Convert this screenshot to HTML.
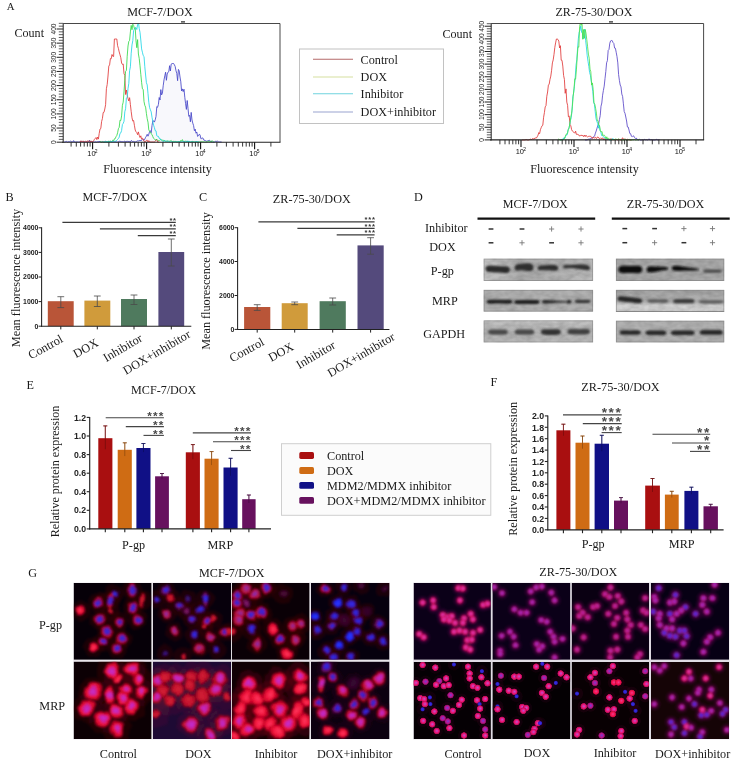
<!DOCTYPE html>
<html><head><meta charset="utf-8"><title>Figure</title>
<style>
html,body{margin:0;padding:0;background:#fff;}
body{width:737px;height:764px;overflow:hidden;font-family:"Liberation Serif",serif;}
svg{display:block;will-change:transform;}
svg text{white-space:pre;}
</style></head><body>
<svg width="737" height="764" viewBox="0 0 737 764">
<rect x="0" y="0" width="737" height="764" fill="#ffffff"/>
<text x="6.8" y="10.4" font-family="Liberation Serif" font-size="10.8" fill="#1a1a1a" >A</text>
<text x="160" y="15.5" font-family="Liberation Serif" font-size="12.2" fill="#1a1a1a" text-anchor="middle" textLength="65.5" lengthAdjust="spacingAndGlyphs" >MCF-7/DOX</text>
<text x="14.5" y="37.1" font-family="Liberation Serif" font-size="12.2" fill="#1a1a1a" textLength="29.5" lengthAdjust="spacingAndGlyphs" >Count</text>
<text x="157.5" y="172.5" font-family="Liberation Serif" font-size="12.2" fill="#1a1a1a" text-anchor="middle" textLength="108.5" lengthAdjust="spacingAndGlyphs" >Fluorescence intensity</text>
<rect x="63.2" y="23.5" width="216.8" height="118.69999999999999" fill="#fff" stroke="none"/>
<clipPath id="fc11"><rect x="63.2" y="23.5" width="216.8" height="119.69999999999999"/></clipPath><g clip-path="url(#fc11)">
<path d="M64.0,142.0 L64.8,142.0 L65.6,141.7 L66.4,141.4 L67.2,142.0 L68.0,142.0 L68.8,141.6 L69.6,141.7 L70.4,141.2 L71.2,141.5 L72.0,142.0 L72.8,142.0 L73.6,140.6 L74.4,142.0 L75.2,142.0 L76.0,142.0 L76.8,141.9 L77.6,141.9 L78.4,142.0 L79.2,142.0 L80.0,141.9 L80.8,141.6 L81.6,141.4 L82.4,141.9 L83.2,142.0 L84.0,141.6 L84.8,142.0 L85.6,142.0 L86.4,142.0 L87.2,142.0 L88.0,142.0 L88.8,141.9 L89.6,140.2 L90.4,142.0 L91.2,141.5 L92.0,142.0 L92.8,142.0 L93.6,141.6 L94.4,142.0 L95.2,141.8 L96.0,141.9 L96.8,142.0 L97.6,141.7 L98.4,142.0 L99.2,141.0 L100.0,142.0 L100.8,141.6 L101.6,142.0 L102.4,141.5 L103.2,142.0 L104.0,141.5 L104.8,142.0 L105.6,141.3 L106.4,141.7 L107.2,141.9 L108.0,142.0 L108.8,141.6 L109.6,141.7 L110.4,141.1 L111.2,142.0 L112.0,141.7 L112.8,141.7 L113.6,141.8 L114.4,141.9 L115.2,141.9 L116.0,142.0 L116.8,142.0 L117.6,142.0 L118.4,141.7 L119.2,141.2 L120.0,141.5 L120.8,141.4 L121.6,141.6 L122.4,141.6 L123.2,141.9 L124.0,141.6 L124.8,141.0 L125.6,142.0 L126.4,142.0 L127.2,140.9 L128.0,141.8 L128.8,141.4 L129.6,141.5 L130.4,142.0 L131.2,140.6 L132.0,140.9 L132.8,141.8 L133.6,141.4 L134.4,141.7 L135.2,142.0 L136.0,141.7 L136.8,141.3 L137.6,140.8 L138.4,140.9 L139.2,141.0 L140.0,140.1 L140.8,141.1 L141.6,139.9 L142.4,139.3 L143.2,139.7 L144.0,140.3 L144.8,139.1 L145.6,137.3 L146.4,136.2 L147.2,134.3 L148.0,136.2 L148.8,134.2 L149.6,131.6 L150.4,130.7 L151.2,132.7 L152.0,125.6 L152.8,120.7 L153.6,120.9 L154.4,122.1 L155.2,119.9 L156.0,116.4 L156.8,106.6 L157.6,107.3 L158.4,104.4 L159.2,97.5 L160.0,100.0 L160.8,89.6 L161.6,94.9 L162.4,93.2 L163.2,85.8 L164.0,79.9 L164.8,75.8 L165.6,72.2 L166.4,80.3 L167.2,74.0 L168.0,72.1 L168.8,71.5 L169.6,65.7 L170.4,71.0 L171.2,64.1 L172.0,63.5 L172.8,63.5 L173.6,63.5 L174.4,64.8 L175.2,66.5 L176.0,70.8 L176.8,73.3 L177.6,80.7 L178.4,69.4 L179.2,70.9 L180.0,77.0 L180.8,81.8 L181.6,91.0 L182.4,88.9 L183.2,91.6 L184.0,89.2 L184.8,97.3 L185.6,103.7 L186.4,109.4 L187.2,100.5 L188.0,108.3 L188.8,116.3 L189.6,115.3 L190.4,121.8 L191.2,112.4 L192.0,120.0 L192.8,123.2 L193.6,125.6 L194.4,130.7 L195.2,129.1 L196.0,133.2 L196.8,132.0 L197.6,136.4 L198.4,135.7 L199.2,134.3 L200.0,134.7 L200.8,138.3 L201.6,139.1 L202.4,137.7 L203.2,138.5 L204.0,140.3 L204.8,140.4 L205.6,140.7 L206.4,141.2 L207.2,141.2 L208.0,140.3 L208.8,140.8 L209.6,140.2 L210.4,141.5 L211.2,141.7 L212.0,142.0 L212.8,141.8 L213.6,142.0 L214.4,142.0 L215.2,141.5 L216.0,141.1 L216.8,141.5 L217.6,141.2 L218.4,141.8 L219.2,142.0 L220.0,141.9 L220.8,142.0 L221.6,142.0 L221.6,142.2 L64.0,142.2 Z" fill="#f8f8fc" stroke="none"/>
<path d="M64.0,142.0 L64.8,142.0 L65.6,141.7 L66.4,141.4 L67.2,142.0 L68.0,142.0 L68.8,141.6 L69.6,141.7 L70.4,141.2 L71.2,141.5 L72.0,142.0 L72.8,142.0 L73.6,140.6 L74.4,142.0 L75.2,142.0 L76.0,142.0 L76.8,141.9 L77.6,141.9 L78.4,142.0 L79.2,142.0 L80.0,141.9 L80.8,141.6 L81.6,141.4 L82.4,141.9 L83.2,142.0 L84.0,141.6 L84.8,142.0 L85.6,142.0 L86.4,142.0 L87.2,142.0 L88.0,142.0 L88.8,141.9 L89.6,140.2 L90.4,142.0 L91.2,141.5 L92.0,142.0 L92.8,142.0 L93.6,141.6 L94.4,142.0 L95.2,141.8 L96.0,141.9 L96.8,142.0 L97.6,141.7 L98.4,142.0 L99.2,141.0 L100.0,142.0 L100.8,141.6 L101.6,142.0 L102.4,141.5 L103.2,142.0 L104.0,141.5 L104.8,142.0 L105.6,141.3 L106.4,141.7 L107.2,141.9 L108.0,142.0 L108.8,141.6 L109.6,141.7 L110.4,141.1 L111.2,142.0 L112.0,141.7 L112.8,141.7 L113.6,141.8 L114.4,141.9 L115.2,141.9 L116.0,142.0 L116.8,142.0 L117.6,142.0 L118.4,141.7 L119.2,141.2 L120.0,141.5 L120.8,141.4 L121.6,141.6 L122.4,141.6 L123.2,141.9 L124.0,141.6 L124.8,141.0 L125.6,142.0 L126.4,142.0 L127.2,140.9 L128.0,141.8 L128.8,141.4 L129.6,141.5 L130.4,142.0 L131.2,140.6 L132.0,140.9 L132.8,141.8 L133.6,141.4 L134.4,141.7 L135.2,142.0 L136.0,141.7 L136.8,141.3 L137.6,140.8 L138.4,140.9 L139.2,141.0 L140.0,140.1 L140.8,141.1 L141.6,139.9 L142.4,139.3 L143.2,139.7 L144.0,140.3 L144.8,139.1 L145.6,137.3 L146.4,136.2 L147.2,134.3 L148.0,136.2 L148.8,134.2 L149.6,131.6 L150.4,130.7 L151.2,132.7 L152.0,125.6 L152.8,120.7 L153.6,120.9 L154.4,122.1 L155.2,119.9 L156.0,116.4 L156.8,106.6 L157.6,107.3 L158.4,104.4 L159.2,97.5 L160.0,100.0 L160.8,89.6 L161.6,94.9 L162.4,93.2 L163.2,85.8 L164.0,79.9 L164.8,75.8 L165.6,72.2 L166.4,80.3 L167.2,74.0 L168.0,72.1 L168.8,71.5 L169.6,65.7 L170.4,71.0 L171.2,64.1 L172.0,63.5 L172.8,63.5 L173.6,63.5 L174.4,64.8 L175.2,66.5 L176.0,70.8 L176.8,73.3 L177.6,80.7 L178.4,69.4 L179.2,70.9 L180.0,77.0 L180.8,81.8 L181.6,91.0 L182.4,88.9 L183.2,91.6 L184.0,89.2 L184.8,97.3 L185.6,103.7 L186.4,109.4 L187.2,100.5 L188.0,108.3 L188.8,116.3 L189.6,115.3 L190.4,121.8 L191.2,112.4 L192.0,120.0 L192.8,123.2 L193.6,125.6 L194.4,130.7 L195.2,129.1 L196.0,133.2 L196.8,132.0 L197.6,136.4 L198.4,135.7 L199.2,134.3 L200.0,134.7 L200.8,138.3 L201.6,139.1 L202.4,137.7 L203.2,138.5 L204.0,140.3 L204.8,140.4 L205.6,140.7 L206.4,141.2 L207.2,141.2 L208.0,140.3 L208.8,140.8 L209.6,140.2 L210.4,141.5 L211.2,141.7 L212.0,142.0 L212.8,141.8 L213.6,142.0 L214.4,142.0 L215.2,141.5 L216.0,141.1 L216.8,141.5 L217.6,141.2 L218.4,141.8 L219.2,142.0 L220.0,141.9 L220.8,142.0 L221.6,142.0" fill="none" stroke="#4545c8" stroke-width="0.9" stroke-linejoin="round" opacity="0.95"/>
<path d="M80.0,142.0 L80.8,140.8 L81.6,141.8 L82.4,141.5 L83.2,140.9 L84.0,142.0 L84.8,142.0 L85.6,141.3 L86.4,142.0 L87.2,140.8 L88.0,141.6 L88.8,141.0 L89.6,141.1 L90.4,142.0 L91.2,140.9 L92.0,141.9 L92.8,141.7 L93.6,140.9 L94.4,139.4 L95.2,138.5 L96.0,137.5 L96.8,139.6 L97.6,137.0 L98.4,139.1 L99.2,133.5 L100.0,129.0 L100.8,128.5 L101.6,121.5 L102.4,118.6 L103.2,112.6 L104.0,112.3 L104.8,109.0 L105.6,104.7 L106.4,88.7 L107.2,84.5 L108.0,76.0 L108.8,66.1 L109.6,64.9 L110.4,58.6 L111.2,58.8 L112.0,54.5 L112.8,56.3 L113.6,56.5 L114.4,39.0 L115.2,39.0 L116.0,39.0 L116.8,39.0 L117.6,45.7 L118.4,48.4 L119.2,51.9 L120.0,54.8 L120.8,57.7 L121.6,63.0 L122.4,64.4 L123.2,64.0 L124.0,73.6 L124.8,75.4 L125.6,94.5 L126.4,90.0 L127.2,94.8 L128.0,98.5 L128.8,101.0 L129.6,97.7 L130.4,104.6 L131.2,111.6 L132.0,117.8 L132.8,121.1 L133.6,120.5 L134.4,125.3 L135.2,130.0 L136.0,131.8 L136.8,132.6 L137.6,134.7 L138.4,131.9 L139.2,135.2 L140.0,137.5 L140.8,135.8 L141.6,139.2 L142.4,138.2 L143.2,138.8 L144.0,141.4 L144.8,141.7 L145.6,141.5 L146.4,140.3 L147.2,140.2 L148.0,142.0 L148.8,140.6 L149.6,141.9 L150.4,141.9 L151.2,142.0 L152.0,141.9 L152.8,142.0 L153.6,142.0 L154.4,142.0 L155.2,141.3 L156.0,139.9 L156.8,139.4 L157.6,142.0 L158.4,142.0 L159.2,142.0" fill="none" stroke="#e03a3a" stroke-width="0.9" stroke-linejoin="round" opacity="0.95"/>
<path d="M100.0,141.5 L100.8,141.7 L101.6,142.0 L102.4,142.0 L103.2,142.0 L104.0,142.0 L104.8,141.9 L105.6,142.0 L106.4,141.8 L107.2,142.0 L108.0,142.0 L108.8,140.9 L109.6,141.5 L110.4,141.3 L111.2,142.0 L112.0,141.2 L112.8,140.2 L113.6,140.9 L114.4,138.8 L115.2,138.7 L116.0,136.7 L116.8,135.5 L117.6,132.8 L118.4,128.7 L119.2,127.4 L120.0,120.2 L120.8,120.5 L121.6,115.9 L122.4,105.3 L123.2,102.2 L124.0,91.9 L124.8,80.4 L125.6,71.3 L126.4,70.3 L127.2,56.3 L128.0,46.0 L128.8,41.4 L129.6,40.4 L130.4,31.9 L131.2,25.4 L132.0,29.7 L132.8,24.2 L133.6,25.4 L134.4,28.8 L135.2,27.6 L136.0,40.8 L136.8,47.7 L137.6,39.6 L138.4,54.0 L139.2,58.3 L140.0,65.8 L140.8,74.3 L141.6,82.3 L142.4,88.8 L143.2,89.4 L144.0,101.5 L144.8,105.4 L145.6,107.1 L146.4,113.4 L147.2,118.7 L148.0,122.2 L148.8,129.9 L149.6,131.2 L150.4,132.2 L151.2,133.8 L152.0,134.5 L152.8,136.6 L153.6,138.4 L154.4,139.1 L155.2,139.8 L156.0,139.7 L156.8,139.5 L157.6,140.3 L158.4,140.6 L159.2,140.7 L160.0,139.7 L160.8,139.6 L161.6,140.0 L162.4,140.2 L163.2,140.2 L164.0,140.8 L164.8,140.5 L165.6,141.5 L166.4,141.1 L167.2,141.4 L168.0,140.6 L168.8,141.5 L169.6,141.2 L170.4,141.0 L171.2,140.5 L172.0,141.8 L172.8,141.9 L173.6,140.9 L174.4,142.0 L175.2,141.2 L176.0,141.8 L176.8,141.6 L177.6,142.0 L178.4,141.1 L179.2,141.9 L180.0,142.0 L180.8,140.4 L181.6,141.2 L182.4,139.6 L183.2,141.4 L184.0,141.9 L184.8,141.7 L185.6,140.8 L186.4,141.8 L187.2,141.5 L188.0,141.5 L188.8,142.0 L189.6,141.7 L190.4,142.0 L191.2,142.0 L192.0,141.3 L192.8,141.5 L193.6,141.8 L194.4,142.0 L195.2,142.0 L196.0,141.6 L196.8,141.9 L197.6,142.0 L198.4,141.9 L199.2,142.0 L200.0,141.9 L200.8,141.8 L201.6,141.7 L202.4,141.8 L203.2,141.8 L204.0,142.0 L204.8,142.0 L205.6,142.0 L206.4,142.0 L207.2,141.8 L208.0,141.6 L208.8,141.0 L209.6,142.0 L210.4,141.7 L211.2,142.0 L212.0,140.6 L212.8,141.4 L213.6,142.0 L214.4,141.7" fill="none" stroke="#35d84a" stroke-width="0.9" stroke-linejoin="round" opacity="0.95"/>
<path d="M104.0,142.0 L104.8,142.0 L105.6,142.0 L106.4,142.0 L107.2,141.8 L108.0,141.5 L108.8,142.0 L109.6,142.0 L110.4,141.8 L111.2,141.6 L112.0,141.8 L112.8,141.6 L113.6,140.8 L114.4,141.8 L115.2,141.2 L116.0,141.4 L116.8,140.2 L117.6,139.4 L118.4,138.5 L119.2,137.2 L120.0,133.4 L120.8,132.9 L121.6,130.5 L122.4,124.5 L123.2,123.4 L124.0,121.3 L124.8,111.8 L125.6,108.7 L126.4,98.1 L127.2,97.2 L128.0,88.7 L128.8,83.4 L129.6,70.7 L130.4,66.8 L131.2,53.3 L132.0,44.9 L132.8,40.6 L133.6,30.7 L134.4,29.0 L135.2,28.3 L136.0,27.5 L136.8,29.5 L137.6,24.5 L138.4,21.6 L139.2,28.5 L140.0,32.3 L140.8,40.0 L141.6,48.9 L142.4,52.2 L143.2,55.6 L144.0,56.4 L144.8,66.7 L145.6,75.0 L146.4,82.7 L147.2,84.9 L148.0,93.6 L148.8,102.3 L149.6,107.6 L150.4,109.8 L151.2,111.9 L152.0,117.3 L152.8,121.5 L153.6,125.3 L154.4,127.6 L155.2,130.6 L156.0,130.8 L156.8,135.8 L157.6,136.3 L158.4,136.3 L159.2,138.4 L160.0,138.3 L160.8,139.8 L161.6,140.2 L162.4,140.9 L163.2,141.7 L164.0,141.8 L164.8,140.3 L165.6,141.3 L166.4,141.4 L167.2,141.2 L168.0,141.5 L168.8,141.2 L169.6,141.9 L170.4,141.9 L171.2,141.3 L172.0,142.0 L172.8,142.0 L173.6,142.0 L174.4,142.0 L175.2,141.6 L176.0,142.0 L176.8,142.0 L177.6,142.0 L178.4,141.1 L179.2,141.9 L180.0,141.8 L180.8,141.9 L181.6,141.8 L182.4,141.5 L183.2,141.2 L184.0,142.0 L184.8,141.3 L185.6,142.0 L186.4,142.0 L187.2,140.8 L188.0,142.0 L188.8,141.0 L189.6,141.5 L190.4,142.0 L191.2,141.7 L192.0,141.6 L192.8,142.0 L193.6,142.0 L194.4,142.0 L195.2,142.0 L196.0,142.0 L196.8,141.1 L197.6,142.0 L198.4,142.0 L199.2,142.0" fill="none" stroke="#22d6e6" stroke-width="0.9" stroke-linejoin="round" opacity="0.95"/>
</g>
<line x1="63.2" y1="23.5" x2="280" y2="23.5" stroke="#333" stroke-width="0.9" />
<line x1="280" y1="23.5" x2="280" y2="142.2" stroke="#333" stroke-width="0.9" />
<line x1="63.2" y1="23.5" x2="63.2" y2="142.7" stroke="#222" stroke-width="1" />
<line x1="62.2" y1="142.2" x2="280.5" y2="142.2" stroke="#222" stroke-width="1.1" />
<line x1="181" y1="21.9" x2="185" y2="21.9" stroke="#222" stroke-width="1.2" />
<line x1="56.6" y1="142.2" x2="63.2" y2="142.2" stroke="#222" stroke-width="1.0" />
<text x="55.6" y="142.2" font-family="Liberation Sans" font-size="6.6" fill="#222" text-anchor="middle" transform="rotate(-90 55.6 142.2)" >0</text>
<line x1="58.800000000000004" y1="139.36999999999998" x2="63.2" y2="139.36999999999998" stroke="#333" stroke-width="0.8" />
<line x1="58.800000000000004" y1="136.54" x2="63.2" y2="136.54" stroke="#333" stroke-width="0.8" />
<line x1="58.800000000000004" y1="133.70999999999998" x2="63.2" y2="133.70999999999998" stroke="#333" stroke-width="0.8" />
<line x1="58.800000000000004" y1="130.88" x2="63.2" y2="130.88" stroke="#333" stroke-width="0.8" />
<line x1="56.6" y1="128.04999999999998" x2="63.2" y2="128.04999999999998" stroke="#222" stroke-width="1.0" />
<text x="55.6" y="128.0" font-family="Liberation Sans" font-size="6.6" fill="#222" text-anchor="middle" transform="rotate(-90 55.6 128.0)" >50</text>
<line x1="58.800000000000004" y1="125.21999999999998" x2="63.2" y2="125.21999999999998" stroke="#333" stroke-width="0.8" />
<line x1="58.800000000000004" y1="122.38999999999999" x2="63.2" y2="122.38999999999999" stroke="#333" stroke-width="0.8" />
<line x1="58.800000000000004" y1="119.55999999999999" x2="63.2" y2="119.55999999999999" stroke="#333" stroke-width="0.8" />
<line x1="58.800000000000004" y1="116.72999999999999" x2="63.2" y2="116.72999999999999" stroke="#333" stroke-width="0.8" />
<line x1="56.6" y1="113.89999999999998" x2="63.2" y2="113.89999999999998" stroke="#222" stroke-width="1.0" />
<text x="55.6" y="113.9" font-family="Liberation Sans" font-size="6.6" fill="#222" text-anchor="middle" transform="rotate(-90 55.6 113.9)" >100</text>
<line x1="58.800000000000004" y1="111.07" x2="63.2" y2="111.07" stroke="#333" stroke-width="0.8" />
<line x1="58.800000000000004" y1="108.23999999999998" x2="63.2" y2="108.23999999999998" stroke="#333" stroke-width="0.8" />
<line x1="58.800000000000004" y1="105.40999999999998" x2="63.2" y2="105.40999999999998" stroke="#333" stroke-width="0.8" />
<line x1="58.800000000000004" y1="102.57999999999998" x2="63.2" y2="102.57999999999998" stroke="#333" stroke-width="0.8" />
<line x1="56.6" y1="99.74999999999999" x2="63.2" y2="99.74999999999999" stroke="#222" stroke-width="1.0" />
<text x="55.6" y="99.7" font-family="Liberation Sans" font-size="6.6" fill="#222" text-anchor="middle" transform="rotate(-90 55.6 99.7)" >150</text>
<line x1="58.800000000000004" y1="96.91999999999999" x2="63.2" y2="96.91999999999999" stroke="#333" stroke-width="0.8" />
<line x1="58.800000000000004" y1="94.08999999999997" x2="63.2" y2="94.08999999999997" stroke="#333" stroke-width="0.8" />
<line x1="58.800000000000004" y1="91.25999999999999" x2="63.2" y2="91.25999999999999" stroke="#333" stroke-width="0.8" />
<line x1="58.800000000000004" y1="88.42999999999998" x2="63.2" y2="88.42999999999998" stroke="#333" stroke-width="0.8" />
<line x1="56.6" y1="85.59999999999998" x2="63.2" y2="85.59999999999998" stroke="#222" stroke-width="1.0" />
<text x="55.6" y="85.6" font-family="Liberation Sans" font-size="6.6" fill="#222" text-anchor="middle" transform="rotate(-90 55.6 85.6)" >200</text>
<line x1="58.800000000000004" y1="82.76999999999998" x2="63.2" y2="82.76999999999998" stroke="#333" stroke-width="0.8" />
<line x1="58.800000000000004" y1="79.93999999999998" x2="63.2" y2="79.93999999999998" stroke="#333" stroke-width="0.8" />
<line x1="58.800000000000004" y1="77.10999999999999" x2="63.2" y2="77.10999999999999" stroke="#333" stroke-width="0.8" />
<line x1="58.800000000000004" y1="74.27999999999999" x2="63.2" y2="74.27999999999999" stroke="#333" stroke-width="0.8" />
<line x1="56.6" y1="71.44999999999997" x2="63.2" y2="71.44999999999997" stroke="#222" stroke-width="1.0" />
<text x="55.6" y="71.4" font-family="Liberation Sans" font-size="6.6" fill="#222" text-anchor="middle" transform="rotate(-90 55.6 71.4)" >250</text>
<line x1="58.800000000000004" y1="68.61999999999998" x2="63.2" y2="68.61999999999998" stroke="#333" stroke-width="0.8" />
<line x1="58.800000000000004" y1="65.78999999999998" x2="63.2" y2="65.78999999999998" stroke="#333" stroke-width="0.8" />
<line x1="58.800000000000004" y1="62.95999999999998" x2="63.2" y2="62.95999999999998" stroke="#333" stroke-width="0.8" />
<line x1="58.800000000000004" y1="60.12999999999998" x2="63.2" y2="60.12999999999998" stroke="#333" stroke-width="0.8" />
<line x1="56.6" y1="57.29999999999998" x2="63.2" y2="57.29999999999998" stroke="#222" stroke-width="1.0" />
<text x="55.6" y="57.3" font-family="Liberation Sans" font-size="6.6" fill="#222" text-anchor="middle" transform="rotate(-90 55.6 57.3)" >300</text>
<line x1="58.800000000000004" y1="54.469999999999985" x2="63.2" y2="54.469999999999985" stroke="#333" stroke-width="0.8" />
<line x1="58.800000000000004" y1="51.639999999999986" x2="63.2" y2="51.639999999999986" stroke="#333" stroke-width="0.8" />
<line x1="58.800000000000004" y1="48.809999999999974" x2="63.2" y2="48.809999999999974" stroke="#333" stroke-width="0.8" />
<line x1="58.800000000000004" y1="45.979999999999976" x2="63.2" y2="45.979999999999976" stroke="#333" stroke-width="0.8" />
<line x1="56.6" y1="43.14999999999998" x2="63.2" y2="43.14999999999998" stroke="#222" stroke-width="1.0" />
<text x="55.6" y="43.1" font-family="Liberation Sans" font-size="6.6" fill="#222" text-anchor="middle" transform="rotate(-90 55.6 43.1)" >350</text>
<line x1="58.800000000000004" y1="40.31999999999998" x2="63.2" y2="40.31999999999998" stroke="#333" stroke-width="0.8" />
<line x1="58.800000000000004" y1="37.48999999999998" x2="63.2" y2="37.48999999999998" stroke="#333" stroke-width="0.8" />
<line x1="58.800000000000004" y1="34.65999999999998" x2="63.2" y2="34.65999999999998" stroke="#333" stroke-width="0.8" />
<line x1="58.800000000000004" y1="31.829999999999984" x2="63.2" y2="31.829999999999984" stroke="#333" stroke-width="0.8" />
<line x1="56.6" y1="28.99999999999997" x2="63.2" y2="28.99999999999997" stroke="#222" stroke-width="1.0" />
<text x="55.6" y="29.0" font-family="Liberation Sans" font-size="6.6" fill="#222" text-anchor="middle" transform="rotate(-90 55.6 29.0)" >400</text>
<line x1="58.800000000000004" y1="26.169999999999973" x2="63.2" y2="26.169999999999973" stroke="#333" stroke-width="0.8" />
<line x1="58.800000000000004" y1="23.339999999999975" x2="63.2" y2="23.339999999999975" stroke="#333" stroke-width="0.8" />
<line x1="71.1" y1="142.2" x2="71.1" y2="146.6" stroke="#222" stroke-width="0.9" />
<line x1="76.3" y1="142.2" x2="76.3" y2="146.6" stroke="#222" stroke-width="0.9" />
<line x1="80.6" y1="142.2" x2="80.6" y2="146.6" stroke="#222" stroke-width="0.9" />
<line x1="84.2" y1="142.2" x2="84.2" y2="146.6" stroke="#222" stroke-width="0.9" />
<line x1="87.4" y1="142.2" x2="87.4" y2="146.6" stroke="#222" stroke-width="0.9" />
<line x1="90.1" y1="142.2" x2="90.1" y2="146.6" stroke="#222" stroke-width="0.9" />
<line x1="92.6" y1="142.2" x2="92.6" y2="149.2" stroke="#111" stroke-width="1.1" />
<text x="91.4" y="156.39999999999998" font-family="Liberation Sans" font-size="7.4" fill="#111" text-anchor="middle" >10</text>
<text x="96.2" y="153.0" font-family="Liberation Sans" font-size="5.0" fill="#111" text-anchor="middle" >2</text>
<line x1="108.9" y1="142.2" x2="108.9" y2="146.6" stroke="#222" stroke-width="0.9" />
<line x1="118.4" y1="142.2" x2="118.4" y2="146.6" stroke="#222" stroke-width="0.9" />
<line x1="125.1" y1="142.2" x2="125.1" y2="146.6" stroke="#222" stroke-width="0.9" />
<line x1="130.3" y1="142.2" x2="130.3" y2="146.6" stroke="#222" stroke-width="0.9" />
<line x1="134.6" y1="142.2" x2="134.6" y2="146.6" stroke="#222" stroke-width="0.9" />
<line x1="138.2" y1="142.2" x2="138.2" y2="146.6" stroke="#222" stroke-width="0.9" />
<line x1="141.4" y1="142.2" x2="141.4" y2="146.6" stroke="#222" stroke-width="0.9" />
<line x1="144.1" y1="142.2" x2="144.1" y2="146.6" stroke="#222" stroke-width="0.9" />
<line x1="146.6" y1="142.2" x2="146.6" y2="149.2" stroke="#111" stroke-width="1.1" />
<text x="145.4" y="156.39999999999998" font-family="Liberation Sans" font-size="7.4" fill="#111" text-anchor="middle" >10</text>
<text x="150.2" y="153.0" font-family="Liberation Sans" font-size="5.0" fill="#111" text-anchor="middle" >3</text>
<line x1="162.9" y1="142.2" x2="162.9" y2="146.6" stroke="#222" stroke-width="0.9" />
<line x1="172.4" y1="142.2" x2="172.4" y2="146.6" stroke="#222" stroke-width="0.9" />
<line x1="179.1" y1="142.2" x2="179.1" y2="146.6" stroke="#222" stroke-width="0.9" />
<line x1="184.3" y1="142.2" x2="184.3" y2="146.6" stroke="#222" stroke-width="0.9" />
<line x1="188.6" y1="142.2" x2="188.6" y2="146.6" stroke="#222" stroke-width="0.9" />
<line x1="192.2" y1="142.2" x2="192.2" y2="146.6" stroke="#222" stroke-width="0.9" />
<line x1="195.4" y1="142.2" x2="195.4" y2="146.6" stroke="#222" stroke-width="0.9" />
<line x1="198.1" y1="142.2" x2="198.1" y2="146.6" stroke="#222" stroke-width="0.9" />
<line x1="200.6" y1="142.2" x2="200.6" y2="149.2" stroke="#111" stroke-width="1.1" />
<text x="199.4" y="156.39999999999998" font-family="Liberation Sans" font-size="7.4" fill="#111" text-anchor="middle" >10</text>
<text x="204.2" y="153.0" font-family="Liberation Sans" font-size="5.0" fill="#111" text-anchor="middle" >4</text>
<line x1="216.9" y1="142.2" x2="216.9" y2="146.6" stroke="#222" stroke-width="0.9" />
<line x1="226.4" y1="142.2" x2="226.4" y2="146.6" stroke="#222" stroke-width="0.9" />
<line x1="233.1" y1="142.2" x2="233.1" y2="146.6" stroke="#222" stroke-width="0.9" />
<line x1="238.3" y1="142.2" x2="238.3" y2="146.6" stroke="#222" stroke-width="0.9" />
<line x1="242.6" y1="142.2" x2="242.6" y2="146.6" stroke="#222" stroke-width="0.9" />
<line x1="246.2" y1="142.2" x2="246.2" y2="146.6" stroke="#222" stroke-width="0.9" />
<line x1="249.4" y1="142.2" x2="249.4" y2="146.6" stroke="#222" stroke-width="0.9" />
<line x1="252.1" y1="142.2" x2="252.1" y2="146.6" stroke="#222" stroke-width="0.9" />
<line x1="254.6" y1="142.2" x2="254.6" y2="149.2" stroke="#111" stroke-width="1.1" />
<text x="253.4" y="156.39999999999998" font-family="Liberation Sans" font-size="7.4" fill="#111" text-anchor="middle" >10</text>
<text x="258.2" y="153.0" font-family="Liberation Sans" font-size="5.0" fill="#111" text-anchor="middle" >5</text>
<line x1="270.9" y1="142.2" x2="270.9" y2="146.6" stroke="#222" stroke-width="0.9" />
<rect x="299.5" y="49" width="144" height="74.5" fill="#fff" stroke="#c2c2c2" stroke-width="1"/>
<line x1="313" y1="59.3" x2="353" y2="59.3" stroke="#b56a6a" stroke-width="1.1" />
<text x="360.6" y="63.5" font-family="Liberation Serif" font-size="12.2" fill="#1a1a1a" >Control</text>
<line x1="313" y1="77" x2="353" y2="77" stroke="#d6dfa0" stroke-width="1.1" />
<text x="360.6" y="81.2" font-family="Liberation Serif" font-size="12.2" fill="#1a1a1a" >DOX</text>
<line x1="313" y1="93.8" x2="353" y2="93.8" stroke="#6fd3de" stroke-width="1.1" />
<text x="360.6" y="98.0" font-family="Liberation Serif" font-size="12.2" fill="#1a1a1a" >Inhibitor</text>
<line x1="313" y1="112" x2="353" y2="112" stroke="#9aa3cf" stroke-width="1.1" />
<text x="360.6" y="116.2" font-family="Liberation Serif" font-size="12.2" fill="#1a1a1a" textLength="75.4" lengthAdjust="spacingAndGlyphs" >DOX+inhibitor</text>
<text x="594" y="15.5" font-family="Liberation Serif" font-size="12.2" fill="#1a1a1a" text-anchor="middle" textLength="77" lengthAdjust="spacingAndGlyphs" >ZR-75-30/DOX</text>
<text x="442.5" y="37.5" font-family="Liberation Serif" font-size="12.2" fill="#1a1a1a" textLength="29.5" lengthAdjust="spacingAndGlyphs" >Count</text>
<text x="584.5" y="172.5" font-family="Liberation Serif" font-size="12.2" fill="#1a1a1a" text-anchor="middle" textLength="108.5" lengthAdjust="spacingAndGlyphs" >Fluorescence intensity</text>
<rect x="491.2" y="23.5" width="212.40000000000003" height="116.4" fill="#fff" stroke="none"/>
<clipPath id="fc23"><rect x="491.2" y="23.5" width="212.40000000000003" height="117.4"/></clipPath><g clip-path="url(#fc23)">
<path d="M585.0,140.0 L585.8,140.0 L586.6,140.0 L587.4,139.8 L588.2,139.4 L589.0,138.9 L589.8,139.1 L590.6,138.4 L591.4,138.3 L592.2,137.8 L593.0,137.3 L593.8,136.8 L594.6,136.0 L595.4,133.1 L596.2,131.0 L597.0,128.2 L597.8,125.7 L598.6,124.4 L599.4,119.6 L600.2,115.7 L601.0,106.2 L601.8,103.0 L602.6,95.2 L603.4,90.4 L604.2,86.2 L605.0,78.6 L605.8,71.6 L606.6,62.8 L607.4,60.6 L608.2,50.3 L609.0,49.4 L609.8,43.2 L610.6,40.9 L611.4,40.5 L612.2,40.6 L613.0,42.5 L613.8,43.4 L614.6,48.1 L615.4,48.2 L616.2,52.3 L617.0,56.7 L617.8,62.9 L618.6,74.6 L619.4,80.4 L620.2,85.0 L621.0,86.9 L621.8,94.1 L622.6,96.4 L623.4,103.8 L624.2,111.5 L625.0,113.3 L625.8,117.0 L626.6,121.0 L627.4,126.9 L628.2,127.0 L629.0,130.0 L629.8,133.5 L630.6,133.7 L631.4,136.2 L632.2,136.7 L633.0,135.8 L633.8,136.1 L634.6,137.6 L635.4,138.4 L636.2,138.0 L637.0,139.0 L637.8,139.9 L638.6,140.0 L639.4,139.3 L640.2,140.0 L641.0,140.0 L641.8,140.0 L642.6,139.8 L643.4,140.0 L644.2,139.3 L645.0,139.9 L645.8,139.8 L646.6,139.7 L647.4,140.0 L648.2,139.8 L649.0,138.8 L649.8,140.0 L650.6,139.8 L651.4,139.7 L652.2,140.0 L653.0,140.0 L653.8,140.0 L654.6,140.0 L655.4,139.9 L656.2,139.4 L657.0,139.5 L657.8,140.0 L658.6,140.0 L659.4,139.1" fill="none" stroke="#5a48c8" stroke-width="0.9" stroke-linejoin="round" opacity="0.95"/>
<path d="M522.0,140.0 L522.8,140.0 L523.6,140.0 L524.4,140.0 L525.2,140.0 L526.0,139.3 L526.8,139.8 L527.6,140.0 L528.4,140.0 L529.2,140.0 L530.0,139.1 L530.8,139.1 L531.6,139.9 L532.4,138.6 L533.2,138.8 L534.0,139.1 L534.8,138.1 L535.6,138.0 L536.4,138.0 L537.2,136.8 L538.0,135.2 L538.8,132.6 L539.6,133.7 L540.4,129.7 L541.2,127.7 L542.0,125.8 L542.8,125.2 L543.6,117.3 L544.4,112.7 L545.2,106.9 L546.0,105.6 L546.8,96.3 L547.6,92.0 L548.4,85.1 L549.2,84.1 L550.0,79.3 L550.8,76.1 L551.6,70.3 L552.4,62.9 L553.2,59.9 L554.0,54.4 L554.8,47.5 L555.6,42.9 L556.4,39.0 L557.2,39.0 L558.0,39.5 L558.8,41.1 L559.6,48.0 L560.4,45.7 L561.2,60.2 L562.0,60.3 L562.8,66.1 L563.6,75.5 L564.4,79.4 L565.2,93.3 L566.0,88.9 L566.8,102.1 L567.6,105.3 L568.4,116.7 L569.2,116.0 L570.0,124.8 L570.8,125.7 L571.6,129.6 L572.4,131.1 L573.2,131.8 L574.0,132.3 L574.8,133.2 L575.6,131.1 L576.4,134.4 L577.2,134.1 L578.0,134.9 L578.8,134.8 L579.6,136.1 L580.4,135.7 L581.2,134.9 L582.0,136.0 L582.8,135.4 L583.6,136.6 L584.4,135.0 L585.2,136.6 L586.0,135.2 L586.8,136.5 L587.6,137.1 L588.4,136.3 L589.2,136.3 L590.0,136.2 L590.8,136.5 L591.6,137.1 L592.4,138.5 L593.2,137.3 L594.0,138.1 L594.8,137.8 L595.6,137.3 L596.4,138.6 L597.2,137.4 L598.0,136.9 L598.8,138.2 L599.6,138.8 L600.4,137.8 L601.2,138.6 L602.0,138.1 L602.8,138.0 L603.6,139.8 L604.4,138.7 L605.2,140.0 L606.0,139.5 L606.8,138.7 L607.6,139.9 L608.4,139.6 L609.2,139.5 L610.0,139.0 L610.8,139.1 L611.6,139.0 L612.4,139.7 L613.2,139.9 L614.0,139.2 L614.8,140.0 L615.6,140.0 L616.4,139.1 L617.2,140.0 L618.0,140.0 L618.8,138.9 L619.6,139.6 L620.4,140.0 L621.2,140.0 L622.0,138.4 L622.8,137.9 L623.6,139.9 L624.4,139.3 L625.2,139.2 L626.0,139.5 L626.8,140.0 L627.6,139.1 L628.4,139.6 L629.2,139.9 L630.0,140.0 L630.8,140.0 L631.6,139.9" fill="none" stroke="#e03a3a" stroke-width="0.9" stroke-linejoin="round" opacity="0.95"/>
<path d="M560.0,139.4 L560.8,140.0 L561.6,140.0 L562.4,139.0 L563.2,139.3 L564.0,137.5 L564.8,138.0 L565.6,136.4 L566.4,134.8 L567.2,134.8 L568.0,129.9 L568.8,128.8 L569.6,125.2 L570.4,120.8 L571.2,117.7 L572.0,110.9 L572.8,96.9 L573.6,93.0 L574.4,86.3 L575.2,78.0 L576.0,65.4 L576.8,59.8 L577.6,47.9 L578.4,38.1 L579.2,32.2 L580.0,30.3 L580.8,25.8 L581.6,32.2 L582.4,33.3 L583.2,38.9 L584.0,32.5 L584.8,29.1 L585.6,40.3 L586.4,47.0 L587.2,55.6 L588.0,61.3 L588.8,66.4 L589.6,72.5 L590.4,75.2 L591.2,80.6 L592.0,85.3 L592.8,91.5 L593.6,102.4 L594.4,104.2 L595.2,111.6 L596.0,118.6 L596.8,121.3 L597.6,123.3 L598.4,128.2 L599.2,124.9 L600.0,130.4 L600.8,131.6 L601.6,135.5 L602.4,135.3 L603.2,136.2 L604.0,137.7 L604.8,137.7 L605.6,138.4 L606.4,138.5 L607.2,139.8 L608.0,139.0 L608.8,139.7 L609.6,140.0 L610.4,140.0 L611.2,140.0 L612.0,140.0 L612.8,138.4 L613.6,140.0 L614.4,139.0" fill="none" stroke="#22d6e6" stroke-width="0.9" stroke-linejoin="round" opacity="0.95"/>
<path d="M558.0,139.2 L558.8,139.0 L559.6,140.0 L560.4,140.0 L561.2,139.6 L562.0,140.0 L562.8,140.0 L563.6,139.4 L564.4,139.0 L565.2,136.7 L566.0,134.4 L566.8,134.1 L567.6,132.7 L568.4,129.3 L569.2,127.4 L570.0,122.5 L570.8,117.1 L571.6,113.3 L572.4,106.3 L573.2,96.1 L574.0,88.8 L574.8,78.8 L575.6,79.1 L576.4,69.9 L577.2,57.0 L578.0,46.7 L578.8,47.2 L579.6,26.6 L580.4,22.7 L581.2,25.3 L582.0,22.7 L582.8,39.3 L583.6,29.5 L584.4,38.3 L585.2,29.6 L586.0,33.2 L586.8,39.8 L587.6,46.8 L588.4,54.1 L589.2,58.2 L590.0,69.2 L590.8,71.7 L591.6,85.1 L592.4,82.9 L593.2,89.7 L594.0,103.0 L594.8,104.3 L595.6,108.3 L596.4,113.1 L597.2,120.3 L598.0,120.7 L598.8,125.2 L599.6,126.0 L600.4,131.1 L601.2,132.0 L602.0,131.5 L602.8,135.6 L603.6,135.2 L604.4,135.2 L605.2,136.5 L606.0,138.6 L606.8,136.8 L607.6,139.0 L608.4,138.4 L609.2,138.7 L610.0,139.6 L610.8,139.0 L611.6,140.0 L612.4,139.5 L613.2,139.5 L614.0,139.8 L614.8,139.5 L615.6,139.0 L616.4,139.1 L617.2,140.0 L618.0,139.2 L618.8,139.0 L619.6,139.7 L620.4,139.5 L621.2,140.0 L622.0,140.0 L622.8,139.6 L623.6,140.0 L624.4,139.3 L625.2,139.1 L626.0,140.0 L626.8,140.0 L627.6,140.0 L628.4,139.8 L629.2,139.4 L630.0,140.0 L630.8,139.9 L631.6,140.0 L632.4,139.8 L633.2,140.0 L634.0,139.3 L634.8,139.5 L635.6,140.0 L636.4,139.8 L637.2,140.0 L638.0,139.4 L638.8,140.0 L639.6,139.2" fill="none" stroke="#4be04a" stroke-width="0.9" stroke-linejoin="round" opacity="0.95"/>
</g>
<line x1="491.2" y1="23.5" x2="703.6" y2="23.5" stroke="#333" stroke-width="0.9" />
<line x1="703.6" y1="23.5" x2="703.6" y2="139.9" stroke="#333" stroke-width="0.9" />
<line x1="491.2" y1="23.5" x2="491.2" y2="140.4" stroke="#222" stroke-width="1" />
<line x1="490.2" y1="139.9" x2="704.1" y2="139.9" stroke="#222" stroke-width="1.1" />
<line x1="609" y1="21.9" x2="613" y2="21.9" stroke="#222" stroke-width="1.2" />
<line x1="484.59999999999997" y1="139.9" x2="491.2" y2="139.9" stroke="#222" stroke-width="1.0" />
<text x="483.6" y="139.9" font-family="Liberation Sans" font-size="6.6" fill="#222" text-anchor="middle" transform="rotate(-90 483.6 139.9)" >0</text>
<line x1="486.8" y1="137.374" x2="491.2" y2="137.374" stroke="#333" stroke-width="0.8" />
<line x1="486.8" y1="134.848" x2="491.2" y2="134.848" stroke="#333" stroke-width="0.8" />
<line x1="486.8" y1="132.322" x2="491.2" y2="132.322" stroke="#333" stroke-width="0.8" />
<line x1="486.8" y1="129.796" x2="491.2" y2="129.796" stroke="#333" stroke-width="0.8" />
<line x1="484.59999999999997" y1="127.27000000000001" x2="491.2" y2="127.27000000000001" stroke="#222" stroke-width="1.0" />
<text x="483.6" y="127.3" font-family="Liberation Sans" font-size="6.6" fill="#222" text-anchor="middle" transform="rotate(-90 483.6 127.3)" >50</text>
<line x1="486.8" y1="124.744" x2="491.2" y2="124.744" stroke="#333" stroke-width="0.8" />
<line x1="486.8" y1="122.218" x2="491.2" y2="122.218" stroke="#333" stroke-width="0.8" />
<line x1="486.8" y1="119.69200000000001" x2="491.2" y2="119.69200000000001" stroke="#333" stroke-width="0.8" />
<line x1="486.8" y1="117.16600000000001" x2="491.2" y2="117.16600000000001" stroke="#333" stroke-width="0.8" />
<line x1="484.59999999999997" y1="114.64000000000001" x2="491.2" y2="114.64000000000001" stroke="#222" stroke-width="1.0" />
<text x="483.6" y="114.6" font-family="Liberation Sans" font-size="6.6" fill="#222" text-anchor="middle" transform="rotate(-90 483.6 114.6)" >100</text>
<line x1="486.8" y1="112.114" x2="491.2" y2="112.114" stroke="#333" stroke-width="0.8" />
<line x1="486.8" y1="109.58800000000001" x2="491.2" y2="109.58800000000001" stroke="#333" stroke-width="0.8" />
<line x1="486.8" y1="107.06200000000001" x2="491.2" y2="107.06200000000001" stroke="#333" stroke-width="0.8" />
<line x1="486.8" y1="104.536" x2="491.2" y2="104.536" stroke="#333" stroke-width="0.8" />
<line x1="484.59999999999997" y1="102.01" x2="491.2" y2="102.01" stroke="#222" stroke-width="1.0" />
<text x="483.6" y="102.0" font-family="Liberation Sans" font-size="6.6" fill="#222" text-anchor="middle" transform="rotate(-90 483.6 102.0)" >150</text>
<line x1="486.8" y1="99.48400000000001" x2="491.2" y2="99.48400000000001" stroke="#333" stroke-width="0.8" />
<line x1="486.8" y1="96.958" x2="491.2" y2="96.958" stroke="#333" stroke-width="0.8" />
<line x1="486.8" y1="94.43200000000002" x2="491.2" y2="94.43200000000002" stroke="#333" stroke-width="0.8" />
<line x1="486.8" y1="91.906" x2="491.2" y2="91.906" stroke="#333" stroke-width="0.8" />
<line x1="484.59999999999997" y1="89.38000000000001" x2="491.2" y2="89.38000000000001" stroke="#222" stroke-width="1.0" />
<text x="483.6" y="89.4" font-family="Liberation Sans" font-size="6.6" fill="#222" text-anchor="middle" transform="rotate(-90 483.6 89.4)" >200</text>
<line x1="486.8" y1="86.85400000000001" x2="491.2" y2="86.85400000000001" stroke="#333" stroke-width="0.8" />
<line x1="486.8" y1="84.328" x2="491.2" y2="84.328" stroke="#333" stroke-width="0.8" />
<line x1="486.8" y1="81.802" x2="491.2" y2="81.802" stroke="#333" stroke-width="0.8" />
<line x1="486.8" y1="79.27600000000001" x2="491.2" y2="79.27600000000001" stroke="#333" stroke-width="0.8" />
<line x1="484.59999999999997" y1="76.75" x2="491.2" y2="76.75" stroke="#222" stroke-width="1.0" />
<text x="483.6" y="76.8" font-family="Liberation Sans" font-size="6.6" fill="#222" text-anchor="middle" transform="rotate(-90 483.6 76.8)" >250</text>
<line x1="486.8" y1="74.224" x2="491.2" y2="74.224" stroke="#333" stroke-width="0.8" />
<line x1="486.8" y1="71.69800000000001" x2="491.2" y2="71.69800000000001" stroke="#333" stroke-width="0.8" />
<line x1="486.8" y1="69.17200000000001" x2="491.2" y2="69.17200000000001" stroke="#333" stroke-width="0.8" />
<line x1="486.8" y1="66.64600000000002" x2="491.2" y2="66.64600000000002" stroke="#333" stroke-width="0.8" />
<line x1="484.59999999999997" y1="64.12" x2="491.2" y2="64.12" stroke="#222" stroke-width="1.0" />
<text x="483.6" y="64.1" font-family="Liberation Sans" font-size="6.6" fill="#222" text-anchor="middle" transform="rotate(-90 483.6 64.1)" >300</text>
<line x1="486.8" y1="61.59400000000001" x2="491.2" y2="61.59400000000001" stroke="#333" stroke-width="0.8" />
<line x1="486.8" y1="59.06800000000001" x2="491.2" y2="59.06800000000001" stroke="#333" stroke-width="0.8" />
<line x1="486.8" y1="56.542" x2="491.2" y2="56.542" stroke="#333" stroke-width="0.8" />
<line x1="486.8" y1="54.016000000000005" x2="491.2" y2="54.016000000000005" stroke="#333" stroke-width="0.8" />
<line x1="484.59999999999997" y1="51.49000000000001" x2="491.2" y2="51.49000000000001" stroke="#222" stroke-width="1.0" />
<text x="483.6" y="51.5" font-family="Liberation Sans" font-size="6.6" fill="#222" text-anchor="middle" transform="rotate(-90 483.6 51.5)" >350</text>
<line x1="486.8" y1="48.96400000000001" x2="491.2" y2="48.96400000000001" stroke="#333" stroke-width="0.8" />
<line x1="486.8" y1="46.438" x2="491.2" y2="46.438" stroke="#333" stroke-width="0.8" />
<line x1="486.8" y1="43.912000000000006" x2="491.2" y2="43.912000000000006" stroke="#333" stroke-width="0.8" />
<line x1="486.8" y1="41.38600000000001" x2="491.2" y2="41.38600000000001" stroke="#333" stroke-width="0.8" />
<line x1="484.59999999999997" y1="38.860000000000014" x2="491.2" y2="38.860000000000014" stroke="#222" stroke-width="1.0" />
<text x="483.6" y="38.9" font-family="Liberation Sans" font-size="6.6" fill="#222" text-anchor="middle" transform="rotate(-90 483.6 38.9)" >400</text>
<line x1="486.8" y1="36.334" x2="491.2" y2="36.334" stroke="#333" stroke-width="0.8" />
<line x1="486.8" y1="33.80800000000001" x2="491.2" y2="33.80800000000001" stroke="#333" stroke-width="0.8" />
<line x1="486.8" y1="31.28200000000001" x2="491.2" y2="31.28200000000001" stroke="#333" stroke-width="0.8" />
<line x1="486.8" y1="28.756000000000014" x2="491.2" y2="28.756000000000014" stroke="#333" stroke-width="0.8" />
<line x1="484.59999999999997" y1="26.230000000000004" x2="491.2" y2="26.230000000000004" stroke="#222" stroke-width="1.0" />
<text x="483.6" y="26.2" font-family="Liberation Sans" font-size="6.6" fill="#222" text-anchor="middle" transform="rotate(-90 483.6 26.2)" >450</text>
<line x1="486.8" y1="23.704000000000008" x2="491.2" y2="23.704000000000008" stroke="#333" stroke-width="0.8" />
<line x1="499.9" y1="139.9" x2="499.9" y2="144.3" stroke="#222" stroke-width="0.9" />
<line x1="505.0" y1="139.9" x2="505.0" y2="144.3" stroke="#222" stroke-width="0.9" />
<line x1="509.2" y1="139.9" x2="509.2" y2="144.3" stroke="#222" stroke-width="0.9" />
<line x1="512.8" y1="139.9" x2="512.8" y2="144.3" stroke="#222" stroke-width="0.9" />
<line x1="515.9" y1="139.9" x2="515.9" y2="144.3" stroke="#222" stroke-width="0.9" />
<line x1="518.6" y1="139.9" x2="518.6" y2="144.3" stroke="#222" stroke-width="0.9" />
<line x1="521.0" y1="139.9" x2="521.0" y2="146.9" stroke="#111" stroke-width="1.1" />
<text x="519.8" y="154.1" font-family="Liberation Sans" font-size="7.4" fill="#111" text-anchor="middle" >10</text>
<text x="524.6" y="150.70000000000002" font-family="Liberation Sans" font-size="5.0" fill="#111" text-anchor="middle" >2</text>
<line x1="537.0" y1="139.9" x2="537.0" y2="144.3" stroke="#222" stroke-width="0.9" />
<line x1="546.3" y1="139.9" x2="546.3" y2="144.3" stroke="#222" stroke-width="0.9" />
<line x1="552.9" y1="139.9" x2="552.9" y2="144.3" stroke="#222" stroke-width="0.9" />
<line x1="558.0" y1="139.9" x2="558.0" y2="144.3" stroke="#222" stroke-width="0.9" />
<line x1="562.2" y1="139.9" x2="562.2" y2="144.3" stroke="#222" stroke-width="0.9" />
<line x1="565.8" y1="139.9" x2="565.8" y2="144.3" stroke="#222" stroke-width="0.9" />
<line x1="568.9" y1="139.9" x2="568.9" y2="144.3" stroke="#222" stroke-width="0.9" />
<line x1="571.6" y1="139.9" x2="571.6" y2="144.3" stroke="#222" stroke-width="0.9" />
<line x1="574.0" y1="139.9" x2="574.0" y2="146.9" stroke="#111" stroke-width="1.1" />
<text x="572.8" y="154.1" font-family="Liberation Sans" font-size="7.4" fill="#111" text-anchor="middle" >10</text>
<text x="577.6" y="150.70000000000002" font-family="Liberation Sans" font-size="5.0" fill="#111" text-anchor="middle" >3</text>
<line x1="590.0" y1="139.9" x2="590.0" y2="144.3" stroke="#222" stroke-width="0.9" />
<line x1="599.3" y1="139.9" x2="599.3" y2="144.3" stroke="#222" stroke-width="0.9" />
<line x1="605.9" y1="139.9" x2="605.9" y2="144.3" stroke="#222" stroke-width="0.9" />
<line x1="611.0" y1="139.9" x2="611.0" y2="144.3" stroke="#222" stroke-width="0.9" />
<line x1="615.2" y1="139.9" x2="615.2" y2="144.3" stroke="#222" stroke-width="0.9" />
<line x1="618.8" y1="139.9" x2="618.8" y2="144.3" stroke="#222" stroke-width="0.9" />
<line x1="621.9" y1="139.9" x2="621.9" y2="144.3" stroke="#222" stroke-width="0.9" />
<line x1="624.6" y1="139.9" x2="624.6" y2="144.3" stroke="#222" stroke-width="0.9" />
<line x1="627.0" y1="139.9" x2="627.0" y2="146.9" stroke="#111" stroke-width="1.1" />
<text x="625.8" y="154.1" font-family="Liberation Sans" font-size="7.4" fill="#111" text-anchor="middle" >10</text>
<text x="630.6" y="150.70000000000002" font-family="Liberation Sans" font-size="5.0" fill="#111" text-anchor="middle" >4</text>
<line x1="643.0" y1="139.9" x2="643.0" y2="144.3" stroke="#222" stroke-width="0.9" />
<line x1="652.3" y1="139.9" x2="652.3" y2="144.3" stroke="#222" stroke-width="0.9" />
<line x1="658.9" y1="139.9" x2="658.9" y2="144.3" stroke="#222" stroke-width="0.9" />
<line x1="664.0" y1="139.9" x2="664.0" y2="144.3" stroke="#222" stroke-width="0.9" />
<line x1="668.2" y1="139.9" x2="668.2" y2="144.3" stroke="#222" stroke-width="0.9" />
<line x1="671.8" y1="139.9" x2="671.8" y2="144.3" stroke="#222" stroke-width="0.9" />
<line x1="674.9" y1="139.9" x2="674.9" y2="144.3" stroke="#222" stroke-width="0.9" />
<line x1="677.6" y1="139.9" x2="677.6" y2="144.3" stroke="#222" stroke-width="0.9" />
<line x1="680.0" y1="139.9" x2="680.0" y2="146.9" stroke="#111" stroke-width="1.1" />
<text x="678.8" y="154.1" font-family="Liberation Sans" font-size="7.4" fill="#111" text-anchor="middle" >10</text>
<text x="683.6" y="150.70000000000002" font-family="Liberation Sans" font-size="5.0" fill="#111" text-anchor="middle" >5</text>
<line x1="696.0" y1="139.9" x2="696.0" y2="144.3" stroke="#222" stroke-width="0.9" />
<text x="5.6" y="201.4" font-family="Liberation Serif" font-size="12.2" fill="#1a1a1a" >B</text>
<text x="115" y="201" font-family="Liberation Serif" font-size="12.2" fill="#1a1a1a" text-anchor="middle" textLength="65" lengthAdjust="spacingAndGlyphs" >MCF-7/DOX</text>
<text x="19.8" y="278" font-family="Liberation Serif" font-size="12.2" fill="#1a1a1a" text-anchor="middle" transform="rotate(-90 19.8 278)" textLength="138.5" lengthAdjust="spacingAndGlyphs" >Mean fluorescence intensity</text>
<rect x="47.80" y="301.20" width="25.90" height="25.00" fill="#b95538" />
<rect x="84.40" y="300.60" width="25.90" height="25.60" fill="#d09b3b" />
<rect x="121.00" y="299.00" width="26.00" height="27.20" fill="#4f7a5e" />
<rect x="158.40" y="252.00" width="25.80" height="74.20" fill="#544a7c" />
<line x1="60.8" y1="296.7" x2="60.8" y2="307.6" stroke="#4a4a4a" stroke-width="0.8" /><line x1="57.4" y1="296.7" x2="64.2" y2="296.7" stroke="#4a4a4a" stroke-width="0.8" /><line x1="57.4" y1="307.6" x2="64.2" y2="307.6" stroke="#4a4a4a" stroke-width="0.8" />
<line x1="97.3" y1="296" x2="97.3" y2="306.5" stroke="#4a4a4a" stroke-width="0.8" /><line x1="93.89999999999999" y1="296" x2="100.7" y2="296" stroke="#4a4a4a" stroke-width="0.8" /><line x1="93.89999999999999" y1="306.5" x2="100.7" y2="306.5" stroke="#4a4a4a" stroke-width="0.8" />
<line x1="134.0" y1="295" x2="134.0" y2="304.5" stroke="#4a4a4a" stroke-width="0.8" /><line x1="130.6" y1="295" x2="137.4" y2="295" stroke="#4a4a4a" stroke-width="0.8" /><line x1="130.6" y1="304.5" x2="137.4" y2="304.5" stroke="#4a4a4a" stroke-width="0.8" />
<line x1="171.3" y1="239" x2="171.3" y2="266" stroke="#4a4a4a" stroke-width="0.8" /><line x1="167.9" y1="239" x2="174.70000000000002" y2="239" stroke="#4a4a4a" stroke-width="0.8" /><line x1="167.9" y1="266" x2="174.70000000000002" y2="266" stroke="#4a4a4a" stroke-width="0.8" />
<line x1="41.6" y1="227.3" x2="41.6" y2="326.7" stroke="#222" stroke-width="1.05" />
<line x1="41.1" y1="326.2" x2="191.3" y2="326.2" stroke="#222" stroke-width="1.05" />
<line x1="38.6" y1="227.8" x2="41.6" y2="227.8" stroke="#222" stroke-width="1.0" />
<text x="38.4" y="230.2" font-family="Liberation Sans" font-size="6.9" fill="#222" text-anchor="end" font-weight="bold" >4000</text>
<line x1="38.6" y1="252.4" x2="41.6" y2="252.4" stroke="#222" stroke-width="1.0" />
<text x="38.4" y="254.8" font-family="Liberation Sans" font-size="6.9" fill="#222" text-anchor="end" font-weight="bold" >3000</text>
<line x1="38.6" y1="277" x2="41.6" y2="277" stroke="#222" stroke-width="1.0" />
<text x="38.4" y="279.4" font-family="Liberation Sans" font-size="6.9" fill="#222" text-anchor="end" font-weight="bold" >2000</text>
<line x1="38.6" y1="301.6" x2="41.6" y2="301.6" stroke="#222" stroke-width="1.0" />
<text x="38.4" y="304.0" font-family="Liberation Sans" font-size="6.9" fill="#222" text-anchor="end" font-weight="bold" >1000</text>
<line x1="38.6" y1="326.2" x2="41.6" y2="326.2" stroke="#222" stroke-width="1.0" />
<text x="38.4" y="328.6" font-family="Liberation Sans" font-size="6.9" fill="#222" text-anchor="end" font-weight="bold" >0</text>
<line x1="60.8" y1="326.2" x2="60.8" y2="329.4" stroke="#222" stroke-width="1.0" />
<line x1="97.3" y1="326.2" x2="97.3" y2="329.4" stroke="#222" stroke-width="1.0" />
<line x1="134.0" y1="326.2" x2="134.0" y2="329.4" stroke="#222" stroke-width="1.0" />
<line x1="171.3" y1="326.2" x2="171.3" y2="329.4" stroke="#222" stroke-width="1.0" />
<line x1="62.4" y1="222.4" x2="175.8" y2="222.4" stroke="#3a3a3a" stroke-width="1.2" />
<text x="176.8" y="222.70000000000002" font-family="Liberation Sans" font-size="7.6" fill="#333" text-anchor="end" font-weight="bold" letter-spacing="0.75">**</text>
<line x1="99.9" y1="228.9" x2="175.8" y2="228.9" stroke="#3a3a3a" stroke-width="1.2" />
<text x="176.8" y="229.20000000000002" font-family="Liberation Sans" font-size="7.6" fill="#333" text-anchor="end" font-weight="bold" letter-spacing="0.75">**</text>
<line x1="137.8" y1="235.6" x2="175.8" y2="235.6" stroke="#3a3a3a" stroke-width="1.2" />
<text x="176.8" y="235.9" font-family="Liberation Sans" font-size="7.6" fill="#333" text-anchor="end" font-weight="bold" letter-spacing="0.75">**</text>
<text x="31" y="359.6" font-family="Liberation Serif" font-size="12.3" fill="#1a1a1a" transform="rotate(-29 31 359.6)" >Control</text>
<text x="76" y="358.2" font-family="Liberation Serif" font-size="12.3" fill="#1a1a1a" transform="rotate(-29 76 358.2)" >DOX</text>
<text x="106.3" y="362.2" font-family="Liberation Serif" font-size="12.3" fill="#1a1a1a" transform="rotate(-30.5 106.3 362.2)" >Inhibitor</text>
<text x="126" y="375" font-family="Liberation Serif" font-size="12.3" fill="#1a1a1a" transform="rotate(-30.5 126 375)" >DOX+inhibitor</text>
<text x="199" y="200.9" font-family="Liberation Serif" font-size="12.2" fill="#1a1a1a" >C</text>
<text x="311.8" y="202.7" font-family="Liberation Serif" font-size="12.2" fill="#1a1a1a" text-anchor="middle" textLength="78" lengthAdjust="spacingAndGlyphs" >ZR-75-30/DOX</text>
<text x="210.2" y="281" font-family="Liberation Serif" font-size="12.2" fill="#1a1a1a" text-anchor="middle" transform="rotate(-90 210.2 281)" textLength="137.6" lengthAdjust="spacingAndGlyphs" >Mean fluorescence intensity</text>
<rect x="244.10" y="307.00" width="26.20" height="22.40" fill="#b95538" />
<rect x="281.70" y="303.20" width="26.00" height="26.20" fill="#d09b3b" />
<rect x="319.60" y="301.20" width="26.20" height="28.20" fill="#4f7a5e" />
<rect x="357.50" y="245.40" width="26.20" height="84.00" fill="#544a7c" />
<line x1="257.2" y1="304.7" x2="257.2" y2="310.4" stroke="#4a4a4a" stroke-width="0.8" /><line x1="253.79999999999998" y1="304.7" x2="260.59999999999997" y2="304.7" stroke="#4a4a4a" stroke-width="0.8" /><line x1="253.79999999999998" y1="310.4" x2="260.59999999999997" y2="310.4" stroke="#4a4a4a" stroke-width="0.8" />
<line x1="294.7" y1="302" x2="294.7" y2="304.7" stroke="#4a4a4a" stroke-width="0.8" /><line x1="291.3" y1="302" x2="298.09999999999997" y2="302" stroke="#4a4a4a" stroke-width="0.8" /><line x1="291.3" y1="304.7" x2="298.09999999999997" y2="304.7" stroke="#4a4a4a" stroke-width="0.8" />
<line x1="332.7" y1="298" x2="332.7" y2="305" stroke="#4a4a4a" stroke-width="0.8" /><line x1="329.3" y1="298" x2="336.09999999999997" y2="298" stroke="#4a4a4a" stroke-width="0.8" /><line x1="329.3" y1="305" x2="336.09999999999997" y2="305" stroke="#4a4a4a" stroke-width="0.8" />
<line x1="370.6" y1="237.7" x2="370.6" y2="254.2" stroke="#4a4a4a" stroke-width="0.8" /><line x1="367.20000000000005" y1="237.7" x2="374.0" y2="237.7" stroke="#4a4a4a" stroke-width="0.8" /><line x1="367.20000000000005" y1="254.2" x2="374.0" y2="254.2" stroke="#4a4a4a" stroke-width="0.8" />
<line x1="237.6" y1="227.2" x2="237.6" y2="329.9" stroke="#222" stroke-width="1.05" />
<line x1="237.1" y1="329.4" x2="389.4" y2="329.4" stroke="#222" stroke-width="1.05" />
<line x1="234.6" y1="227.7" x2="237.6" y2="227.7" stroke="#222" stroke-width="1.0" />
<text x="234.4" y="230.1" font-family="Liberation Sans" font-size="6.9" fill="#222" text-anchor="end" font-weight="bold" >6000</text>
<line x1="234.6" y1="261.5" x2="237.6" y2="261.5" stroke="#222" stroke-width="1.0" />
<text x="234.4" y="263.9" font-family="Liberation Sans" font-size="6.9" fill="#222" text-anchor="end" font-weight="bold" >4000</text>
<line x1="234.6" y1="295.5" x2="237.6" y2="295.5" stroke="#222" stroke-width="1.0" />
<text x="234.4" y="297.9" font-family="Liberation Sans" font-size="6.9" fill="#222" text-anchor="end" font-weight="bold" >2000</text>
<line x1="234.6" y1="329.4" x2="237.6" y2="329.4" stroke="#222" stroke-width="1.0" />
<text x="234.4" y="331.8" font-family="Liberation Sans" font-size="6.9" fill="#222" text-anchor="end" font-weight="bold" >0</text>
<line x1="257.2" y1="329.4" x2="257.2" y2="332.59999999999997" stroke="#222" stroke-width="1.0" />
<line x1="294.7" y1="329.4" x2="294.7" y2="332.59999999999997" stroke="#222" stroke-width="1.0" />
<line x1="332.7" y1="329.4" x2="332.7" y2="332.59999999999997" stroke="#222" stroke-width="1.0" />
<line x1="370.6" y1="329.4" x2="370.6" y2="332.59999999999997" stroke="#222" stroke-width="1.0" />
<line x1="258.4" y1="221.8" x2="374.6" y2="221.8" stroke="#3a3a3a" stroke-width="1.2" />
<text x="375.6" y="222.10000000000002" font-family="Liberation Sans" font-size="7.6" fill="#333" text-anchor="end" font-weight="bold" letter-spacing="0.75">***</text>
<line x1="297.4" y1="228.3" x2="374.6" y2="228.3" stroke="#3a3a3a" stroke-width="1.2" />
<text x="375.6" y="228.60000000000002" font-family="Liberation Sans" font-size="7.6" fill="#333" text-anchor="end" font-weight="bold" letter-spacing="0.75">***</text>
<line x1="336.7" y1="234.9" x2="374.6" y2="234.9" stroke="#3a3a3a" stroke-width="1.2" />
<text x="375.6" y="235.20000000000002" font-family="Liberation Sans" font-size="7.6" fill="#333" text-anchor="end" font-weight="bold" letter-spacing="0.75">***</text>
<text x="232.2" y="362.6" font-family="Liberation Serif" font-size="12.3" fill="#1a1a1a" transform="rotate(-29 232.2 362.6)" >Control</text>
<text x="271.2" y="362" font-family="Liberation Serif" font-size="12.3" fill="#1a1a1a" transform="rotate(-29 271.2 362)" >DOX</text>
<text x="299.2" y="369.2" font-family="Liberation Serif" font-size="12.3" fill="#1a1a1a" transform="rotate(-30.5 299.2 369.2)" >Inhibitor</text>
<text x="330.4" y="377.6" font-family="Liberation Serif" font-size="12.3" fill="#1a1a1a" transform="rotate(-30.5 330.4 377.6)" >DOX+inhibitor</text>
<defs>
<filter id="bblur" x="-10%" y="-50%" width="120%" height="200%"><feGaussianBlur stdDeviation="0.9"/></filter>
<filter id="bblur2" x="-5%" y="-20%" width="110%" height="140%"><feGaussianBlur stdDeviation="0.7"/></filter>
<filter id="bnoise" x="0" y="0" width="100%" height="100%"><feTurbulence type="fractalNoise" baseFrequency="0.12 0.22" numOctaves="2" seed="4"/><feColorMatrix type="matrix" values="0 0 0 0 0  0 0 0 0 0  0 0 0 0 0  1.6 0 0 0 -0.45"/></filter>
<linearGradient id="gP1" x1="0" x2="1" y1="0" y2="0"><stop offset="0" stop-color="#c9c9c9"/><stop offset="0.35" stop-color="#ababab"/><stop offset="0.7" stop-color="#b3b3b3"/><stop offset="1" stop-color="#bdbdbd"/></linearGradient>
<linearGradient id="gM2" x1="0" x2="0" y1="0" y2="1"><stop offset="0" stop-color="#a4a4a4"/><stop offset="0.55" stop-color="#b4b4b4"/><stop offset="0.72" stop-color="#d6d6d6"/><stop offset="0.93" stop-color="#d0d0d0"/><stop offset="1" stop-color="#909090"/></linearGradient>
<linearGradient id="gG1" x1="0" x2="0" y1="0" y2="1"><stop offset="0" stop-color="#c6c6c6"/><stop offset="0.4" stop-color="#b4b4b4"/><stop offset="1" stop-color="#bcbcbc"/></linearGradient>
</defs>
<text x="414" y="200.7" font-family="Liberation Serif" font-size="12.2" fill="#1a1a1a" >D</text>
<text x="535.3" y="208.4" font-family="Liberation Serif" font-size="12.2" fill="#1a1a1a" text-anchor="middle" textLength="65" lengthAdjust="spacingAndGlyphs" >MCF-7/DOX</text>
<text x="665.6" y="208.4" font-family="Liberation Serif" font-size="12.2" fill="#1a1a1a" text-anchor="middle" textLength="77.5" lengthAdjust="spacingAndGlyphs" >ZR-75-30/DOX</text>
<line x1="477.5" y1="218.7" x2="595.2" y2="218.7" stroke="#111" stroke-width="2.2" />
<line x1="611.8" y1="218.7" x2="729.7" y2="218.7" stroke="#111" stroke-width="2.2" />
<text x="425" y="232.3" font-family="Liberation Serif" font-size="12.2" fill="#1a1a1a" >Inhibitor</text>
<text x="429.3" y="251.3" font-family="Liberation Serif" font-size="12.2" fill="#1a1a1a" >DOX</text>
<text x="430.8" y="275.4" font-family="Liberation Serif" font-size="12.2" fill="#1a1a1a" >P-gp</text>
<text x="432" y="304.8" font-family="Liberation Serif" font-size="12.2" fill="#1a1a1a" >MRP</text>
<text x="423.2" y="338.2" font-family="Liberation Serif" font-size="12.2" fill="#1a1a1a" >GAPDH</text>
<line x1="488.6" y1="229" x2="493.4" y2="229" stroke="#333" stroke-width="1.5" /><line x1="488.6" y1="242.8" x2="493.4" y2="242.8" stroke="#333" stroke-width="1.5" /><line x1="519.6" y1="229" x2="524.4" y2="229" stroke="#333" stroke-width="1.5" /><line x1="519.4" y1="242.8" x2="524.6" y2="242.8" stroke="#777" stroke-width="0.9" /><line x1="522" y1="240.20000000000002" x2="522" y2="245.4" stroke="#777" stroke-width="0.9" /><line x1="549.0" y1="229" x2="554.2" y2="229" stroke="#777" stroke-width="0.9" /><line x1="551.6" y1="226.4" x2="551.6" y2="231.6" stroke="#777" stroke-width="0.9" /><line x1="549.2" y1="242.8" x2="554.0" y2="242.8" stroke="#333" stroke-width="1.5" /><line x1="578.4" y1="229" x2="583.6" y2="229" stroke="#777" stroke-width="0.9" /><line x1="581" y1="226.4" x2="581" y2="231.6" stroke="#777" stroke-width="0.9" /><line x1="578.4" y1="242.8" x2="583.6" y2="242.8" stroke="#777" stroke-width="0.9" /><line x1="581" y1="240.20000000000002" x2="581" y2="245.4" stroke="#777" stroke-width="0.9" />
<line x1="622.4" y1="228.6" x2="627.1999999999999" y2="228.6" stroke="#333" stroke-width="1.5" /><line x1="622.4" y1="242.7" x2="627.1999999999999" y2="242.7" stroke="#333" stroke-width="1.5" /><line x1="652.2" y1="228.6" x2="657.0" y2="228.6" stroke="#333" stroke-width="1.5" /><line x1="652.0" y1="242.7" x2="657.2" y2="242.7" stroke="#777" stroke-width="0.9" /><line x1="654.6" y1="240.1" x2="654.6" y2="245.29999999999998" stroke="#777" stroke-width="0.9" /><line x1="681.3" y1="228.6" x2="686.5" y2="228.6" stroke="#777" stroke-width="0.9" /><line x1="683.9" y1="226.0" x2="683.9" y2="231.2" stroke="#777" stroke-width="0.9" /><line x1="681.5" y1="242.7" x2="686.3" y2="242.7" stroke="#333" stroke-width="1.5" /><line x1="709.9" y1="228.6" x2="715.1" y2="228.6" stroke="#777" stroke-width="0.9" /><line x1="712.5" y1="226.0" x2="712.5" y2="231.2" stroke="#777" stroke-width="0.9" /><line x1="709.9" y1="242.7" x2="715.1" y2="242.7" stroke="#777" stroke-width="0.9" /><line x1="712.5" y1="240.1" x2="712.5" y2="245.29999999999998" stroke="#777" stroke-width="0.9" />
<g clip-path="url(#cpa)">
<clipPath id="cpa"><rect x="483.5" y="258.5" width="109.7" height="22.4"/></clipPath>
<rect x="483.50" y="258.50" width="109.70" height="22.40" fill="url(#gP1)" />

<rect x="483.5" y="258.5" width="109.7" height="22.4" filter="url(#bnoise)" opacity="0.13"/>
<g filter="url(#bblur)"><path d="M485.6,268.7 C485.6,264.4 489.6,265.4 497.7,265.9 S509.8,265.4 509.8,269.7 C509.8,274.0 505.8,273.0 497.7,272.5 S485.6,273.0 485.6,268.7 Z" fill="#2b2b2b" opacity="1.0"/><path d="M514.7,267.8 C514.7,263.2 518.7,264.3 524.0,263.5 S533.4,263.2 533.4,267.8 C533.4,272.4 529.4,271.3 524.0,270.5 S514.7,272.4 514.7,267.8 Z" fill="#2e2e2e" opacity="1.0"/><path d="M537.6,268.2 C537.6,264.7 541.6,265.5 547.9,264.9 S558.2,264.7 558.2,268.2 C558.2,271.7 554.2,270.9 547.9,270.3 S537.6,271.7 537.6,268.2 Z" fill="#2e2e2e" opacity="1.0"/><path d="M563.2,267.0 C563.2,264.1 567.2,264.8 576.6,264.4 S590.0,265.3 590.0,268.2 C590.0,271.1 586.0,270.4 576.6,268.8 S563.2,269.9 563.2,267.0 Z" fill="#333" opacity="1.0"/></g>
<rect x="483.9" y="258.9" width="108.9" height="21.599999999999998" fill="none" stroke="#777" stroke-width="1.1" opacity="0.55" filter="url(#bblur2)"/>
</g>
<g clip-path="url(#cpb)">
<clipPath id="cpb"><rect x="483.5" y="289.7" width="109.7" height="22.0"/></clipPath>
<rect x="483.50" y="289.70" width="109.70" height="22.00" fill="#b1b1b1" />

<rect x="483.5" y="289.7" width="109.7" height="22.0" filter="url(#bnoise)" opacity="0.13"/>
<g filter="url(#bblur)"><path d="M486.5,301.7 C486.5,299.2 490.5,299.8 499.5,299.8 S512.5,299.2 512.5,301.7 C512.5,304.2 508.5,303.6 499.5,303.6 S486.5,304.2 486.5,301.7 Z" fill="#1f1f1f" opacity="1.0"/><path d="M514.2,302.0 C514.2,299.4 518.2,300.0 526.9,300.0 S539.6,299.4 539.6,302.0 C539.6,304.6 535.6,304.0 526.9,304.0 S514.2,304.6 514.2,302.0 Z" fill="#1f1f1f" opacity="1.0"/><path d="M542.0,301.8 C542.0,299.5 546.0,300.0 554.5,300.5 S567.0,300.9 567.0,301.8 C567.0,302.7 563.0,302.5 554.5,303.1 S542.0,304.1 542.0,301.8 Z" fill="#262626" opacity="1.0"/><path d="M566.5,301.8 C566.5,299.6 570.5,300.1 569.0,300.1 S571.5,299.6 571.5,301.8 C571.5,304.0 567.5,303.5 569.0,303.5 S566.5,304.0 566.5,301.8 Z" fill="#222" opacity="1.0"/><path d="M574.7,301.4 C574.7,299.4 578.7,299.9 582.7,299.9 S590.7,299.4 590.7,301.4 C590.7,303.3 586.7,302.9 582.7,302.9 S574.7,303.3 574.7,301.4 Z" fill="#333" opacity="1.0"/></g>
<rect x="483.9" y="290.09999999999997" width="108.9" height="21.2" fill="none" stroke="#777" stroke-width="1.1" opacity="0.55" filter="url(#bblur2)"/>
</g>
<g clip-path="url(#cpc)">
<clipPath id="cpc"><rect x="483.5" y="320.3" width="109.7" height="22.3"/></clipPath>
<rect x="483.50" y="320.30" width="109.70" height="22.30" fill="url(#gG1)" />

<rect x="483.5" y="320.3" width="109.7" height="22.3" filter="url(#bnoise)" opacity="0.13"/>
<g filter="url(#bblur)"><path d="M488.2,332.1 C488.2,328.7 492.2,329.5 498.0,329.5 S507.8,328.7 507.8,332.1 C507.8,335.5 503.8,334.7 498.0,334.7 S488.2,335.5 488.2,332.1 Z" fill="#4a4a4a" opacity="1.0"/><path d="M514.7,332.1 C514.7,328.7 518.7,329.5 524.5,329.5 S534.3,328.7 534.3,332.1 C534.3,335.5 530.3,334.7 524.5,334.7 S514.7,335.5 514.7,332.1 Z" fill="#4a4a4a" opacity="1.0"/><path d="M541.1,332.1 C541.1,328.5 545.1,329.3 551.0,329.3 S560.8,328.5 560.8,332.1 C560.8,335.7 556.8,334.9 551.0,334.9 S541.1,335.7 541.1,332.1 Z" fill="#333" opacity="1.0"/><path d="M567.6,331.8 C567.6,328.4 571.6,329.2 578.8,329.2 S589.9,328.4 589.9,331.8 C589.9,335.2 585.9,334.4 578.8,334.4 S567.6,335.2 567.6,331.8 Z" fill="#404040" opacity="1.0"/></g>
<rect x="483.9" y="320.7" width="108.9" height="21.5" fill="none" stroke="#777" stroke-width="1.1" opacity="0.55" filter="url(#bblur2)"/>
</g>
<g clip-path="url(#cpd)">
<clipPath id="cpd"><rect x="615.8" y="258.5" width="108.6" height="22.4"/></clipPath>
<rect x="615.80" y="258.50" width="108.60" height="22.40" fill="#aaaaaa" />

<rect x="615.8" y="258.5" width="108.6" height="22.4" filter="url(#bnoise)" opacity="0.13"/>
<g filter="url(#bblur)"><path d="M618.5,269.5 C618.5,264.8 622.5,265.9 630.4,265.9 S642.2,264.8 642.2,269.5 C642.2,274.2 638.2,273.1 630.4,273.1 S618.5,274.2 618.5,269.5 Z" fill="#0c0c0c" opacity="1.0"/><path d="M646.7,269.4 C646.7,265.1 650.7,266.1 657.5,266.6 S668.2,266.7 668.2,268.6 C668.2,270.5 664.2,270.1 657.5,271.4 S646.7,273.7 646.7,269.4 Z" fill="#0e0e0e" opacity="1.0"/><path d="M671.9,268.2 C671.9,264.7 675.9,265.5 685.5,266.9 S699.0,268.0 699.0,269.4 C699.0,270.8 695.0,270.5 685.5,270.7 S671.9,271.7 671.9,268.2 Z" fill="#111" opacity="1.0"/><path d="M703.1,271.2 C703.1,269.1 707.1,269.6 712.5,269.6 S721.9,269.1 721.9,271.2 C721.9,273.3 717.9,272.8 712.5,272.8 S703.1,273.3 703.1,271.2 Z" fill="#4a4a4a" opacity="1.0"/></g>
<rect x="616.1999999999999" y="258.9" width="107.8" height="21.599999999999998" fill="none" stroke="#777" stroke-width="1.1" opacity="0.55" filter="url(#bblur2)"/>
</g>
<g clip-path="url(#cpe)">
<clipPath id="cpe"><rect x="615.8" y="289.7" width="108.6" height="22.3"/></clipPath>
<rect x="615.80" y="289.70" width="108.60" height="22.30" fill="url(#gM2)" />

<rect x="615.8" y="289.7" width="108.6" height="22.3" filter="url(#bnoise)" opacity="0.13"/>
<g filter="url(#bblur)"><path d="M617.5,298.7 C617.5,295.4 621.5,296.2 629.9,297.3 S642.2,297.7 642.2,300.9 C642.2,304.2 638.2,303.4 629.9,302.3 S617.5,301.9 617.5,298.7 Z" fill="#262626" opacity="1.0"/><path d="M647.2,301.0 C647.2,298.9 651.2,299.4 657.7,299.4 S668.2,298.9 668.2,301.0 C668.2,303.1 664.2,302.6 657.7,302.6 S647.2,303.1 647.2,301.0 Z" fill="#555" opacity="1.0"/><path d="M673.1,301.2 C673.1,298.5 677.1,299.1 683.9,299.1 S694.6,298.5 694.6,301.2 C694.6,303.9 690.6,303.3 683.9,303.3 S673.1,303.9 673.1,301.2 Z" fill="#3a3a3a" opacity="1.0"/><path d="M698.7,301.8 C698.7,299.7 702.7,300.2 711.2,300.2 S723.6,299.7 723.6,301.8 C723.6,303.9 719.6,303.4 711.2,303.4 S698.7,303.9 698.7,301.8 Z" fill="#5a5a5a" opacity="1.0"/></g>
<rect x="616.1999999999999" y="290.09999999999997" width="107.8" height="21.5" fill="none" stroke="#777" stroke-width="1.1" opacity="0.55" filter="url(#bblur2)"/>
</g>
<g clip-path="url(#cpf)">
<clipPath id="cpf"><rect x="615.8" y="320.6" width="108.6" height="22.0"/></clipPath>
<rect x="615.80" y="320.60" width="108.60" height="22.00" fill="#b2b2b2" />

<rect x="615.8" y="320.6" width="108.6" height="22.0" filter="url(#bnoise)" opacity="0.13"/>
<g filter="url(#bblur)"><path d="M619.7,332.6 C619.7,329.7 623.7,330.4 630.2,330.4 S640.8,329.7 640.8,332.6 C640.8,335.5 636.8,334.8 630.2,334.8 S619.7,335.5 619.7,332.6 Z" fill="#262626" opacity="1.0"/><path d="M645.5,332.8 C645.5,329.8 649.5,330.5 656.0,330.5 S666.4,329.8 666.4,332.8 C666.4,335.8 662.4,335.1 656.0,335.1 S645.5,335.8 645.5,332.8 Z" fill="#262626" opacity="1.0"/><path d="M670.9,332.8 C670.9,329.8 674.9,330.5 682.8,330.5 S694.6,329.8 694.6,332.8 C694.6,335.8 690.6,335.1 682.8,335.1 S670.9,335.8 670.9,332.8 Z" fill="#262626" opacity="1.0"/><path d="M699.6,332.4 C699.6,329.4 703.6,330.1 711.2,330.1 S722.8,329.4 722.8,332.4 C722.8,335.4 718.8,334.7 711.2,334.7 S699.6,335.4 699.6,332.4 Z" fill="#262626" opacity="1.0"/></g>
<rect x="616.1999999999999" y="321.0" width="107.8" height="21.2" fill="none" stroke="#777" stroke-width="1.1" opacity="0.55" filter="url(#bblur2)"/>
</g>
<text x="26.5" y="388.9" font-family="Liberation Serif" font-size="12.2" fill="#1a1a1a" >E</text>
<text x="163.7" y="394" font-family="Liberation Serif" font-size="12.2" fill="#1a1a1a" text-anchor="middle" textLength="65.3" lengthAdjust="spacingAndGlyphs" >MCF-7/DOX</text>
<text x="58.8" y="471.5" font-family="Liberation Serif" font-size="12.2" fill="#1a1a1a" text-anchor="middle" transform="rotate(-90 58.8 471.5)" textLength="131.6" lengthAdjust="spacingAndGlyphs" >Relative protein expression</text>
<line x1="105.3" y1="425.9" x2="105.3" y2="450.5" stroke="#a90f10" stroke-width="0.9" /><line x1="103.3" y1="425.9" x2="107.3" y2="425.9" stroke="#a90f10" stroke-width="0.9" />
<line x1="105.3" y1="425.9" x2="105.3" y2="438.2" stroke="#222" stroke-width="0.8"  opacity="0.45"/><line x1="103.3" y1="425.9" x2="107.3" y2="425.9" stroke="#222" stroke-width="0.8"  opacity="0.45"/>
<rect x="98.30" y="438.20" width="14.10" height="90.70" fill="#a90f10" />
<line x1="105.3" y1="438.2" x2="105.3" y2="449.27" stroke="#000" stroke-width="0.7" opacity="0.35"/>
<line x1="124.8" y1="442.8" x2="124.8" y2="456.8" stroke="#cf6c14" stroke-width="0.9" /><line x1="122.8" y1="442.8" x2="126.8" y2="442.8" stroke="#cf6c14" stroke-width="0.9" />
<line x1="124.8" y1="442.8" x2="124.8" y2="449.8" stroke="#222" stroke-width="0.8"  opacity="0.45"/><line x1="122.8" y1="442.8" x2="126.8" y2="442.8" stroke="#222" stroke-width="0.8"  opacity="0.45"/>
<rect x="117.70" y="449.80" width="14.10" height="79.10" fill="#cf6c14" />
<line x1="124.8" y1="449.8" x2="124.8" y2="456.1" stroke="#000" stroke-width="0.7" opacity="0.35"/>
<line x1="143.4" y1="443.5" x2="143.4" y2="452.5" stroke="#101086" stroke-width="0.9" /><line x1="141.4" y1="443.5" x2="145.4" y2="443.5" stroke="#101086" stroke-width="0.9" />
<line x1="143.4" y1="443.5" x2="143.4" y2="448" stroke="#222" stroke-width="0.8"  opacity="0.45"/><line x1="141.4" y1="443.5" x2="145.4" y2="443.5" stroke="#222" stroke-width="0.8"  opacity="0.45"/>
<rect x="136.40" y="448.00" width="14.10" height="80.90" fill="#101086" />
<line x1="143.4" y1="448" x2="143.4" y2="452.05" stroke="#000" stroke-width="0.7" opacity="0.35"/>
<line x1="162.0" y1="473.5" x2="162.0" y2="479.1" stroke="#67115e" stroke-width="0.9" /><line x1="160.0" y1="473.5" x2="164.0" y2="473.5" stroke="#67115e" stroke-width="0.9" />
<line x1="162.0" y1="473.5" x2="162.0" y2="476.3" stroke="#222" stroke-width="0.8"  opacity="0.45"/><line x1="160.0" y1="473.5" x2="164.0" y2="473.5" stroke="#222" stroke-width="0.8"  opacity="0.45"/>
<rect x="155.10" y="476.30" width="13.80" height="52.60" fill="#67115e" />
<line x1="162.0" y1="476.3" x2="162.0" y2="478.82000000000005" stroke="#000" stroke-width="0.7" opacity="0.35"/>
<line x1="192.9" y1="444.6" x2="192.9" y2="460.0" stroke="#a90f10" stroke-width="0.9" /><line x1="190.9" y1="444.6" x2="194.9" y2="444.6" stroke="#a90f10" stroke-width="0.9" />
<line x1="192.9" y1="444.6" x2="192.9" y2="452.3" stroke="#222" stroke-width="0.8"  opacity="0.45"/><line x1="190.9" y1="444.6" x2="194.9" y2="444.6" stroke="#222" stroke-width="0.8"  opacity="0.45"/>
<rect x="185.80" y="452.30" width="14.10" height="76.60" fill="#a90f10" />
<line x1="192.9" y1="452.3" x2="192.9" y2="459.23" stroke="#000" stroke-width="0.7" opacity="0.35"/>
<line x1="211.6" y1="451.6" x2="211.6" y2="465.79999999999995" stroke="#cf6c14" stroke-width="0.9" /><line x1="209.6" y1="451.6" x2="213.6" y2="451.6" stroke="#cf6c14" stroke-width="0.9" />
<line x1="211.6" y1="451.6" x2="211.6" y2="458.7" stroke="#222" stroke-width="0.8"  opacity="0.45"/><line x1="209.6" y1="451.6" x2="213.6" y2="451.6" stroke="#222" stroke-width="0.8"  opacity="0.45"/>
<rect x="204.50" y="458.70" width="14.10" height="70.20" fill="#cf6c14" />
<line x1="211.6" y1="458.7" x2="211.6" y2="465.09" stroke="#000" stroke-width="0.7" opacity="0.35"/>
<line x1="230.6" y1="458.3" x2="230.6" y2="476.7" stroke="#101086" stroke-width="0.9" /><line x1="228.6" y1="458.3" x2="232.6" y2="458.3" stroke="#101086" stroke-width="0.9" />
<line x1="230.6" y1="458.3" x2="230.6" y2="467.5" stroke="#222" stroke-width="0.8"  opacity="0.45"/><line x1="228.6" y1="458.3" x2="232.6" y2="458.3" stroke="#222" stroke-width="0.8"  opacity="0.45"/>
<rect x="223.50" y="467.50" width="14.10" height="61.40" fill="#101086" />
<line x1="230.6" y1="467.5" x2="230.6" y2="475.78" stroke="#000" stroke-width="0.7" opacity="0.35"/>
<line x1="248.9" y1="495" x2="248.9" y2="503.4" stroke="#67115e" stroke-width="0.9" /><line x1="246.9" y1="495" x2="250.9" y2="495" stroke="#67115e" stroke-width="0.9" />
<line x1="248.9" y1="495" x2="248.9" y2="499.2" stroke="#222" stroke-width="0.8"  opacity="0.45"/><line x1="246.9" y1="495" x2="250.9" y2="495" stroke="#222" stroke-width="0.8"  opacity="0.45"/>
<rect x="242.20" y="499.20" width="13.40" height="29.70" fill="#67115e" />
<line x1="248.9" y1="499.2" x2="248.9" y2="502.97999999999996" stroke="#000" stroke-width="0.7" opacity="0.35"/>
<line x1="89.7" y1="416.9" x2="89.7" y2="529.4" stroke="#222" stroke-width="1.15" />
<line x1="89.2" y1="528.9" x2="271" y2="528.9" stroke="#222" stroke-width="1.15" />
<line x1="86.7" y1="417.4" x2="89.7" y2="417.4" stroke="#222" stroke-width="1.1" />
<text x="86.10000000000001" y="420.5" font-family="Liberation Sans" font-size="8.7" fill="#222" text-anchor="end" font-weight="bold" >1.2</text>
<line x1="86.7" y1="436.0" x2="89.7" y2="436.0" stroke="#222" stroke-width="1.1" />
<text x="86.10000000000001" y="439.1" font-family="Liberation Sans" font-size="8.7" fill="#222" text-anchor="end" font-weight="bold" >1.0</text>
<line x1="86.7" y1="454.6" x2="89.7" y2="454.6" stroke="#222" stroke-width="1.1" />
<text x="86.10000000000001" y="457.7" font-family="Liberation Sans" font-size="8.7" fill="#222" text-anchor="end" font-weight="bold" >0.8</text>
<line x1="86.7" y1="473.2" x2="89.7" y2="473.2" stroke="#222" stroke-width="1.1" />
<text x="86.10000000000001" y="476.3" font-family="Liberation Sans" font-size="8.7" fill="#222" text-anchor="end" font-weight="bold" >0.6</text>
<line x1="86.7" y1="491.7" x2="89.7" y2="491.7" stroke="#222" stroke-width="1.1" />
<text x="86.10000000000001" y="494.8" font-family="Liberation Sans" font-size="8.7" fill="#222" text-anchor="end" font-weight="bold" >0.4</text>
<line x1="86.7" y1="510.3" x2="89.7" y2="510.3" stroke="#222" stroke-width="1.1" />
<text x="86.10000000000001" y="513.4" font-family="Liberation Sans" font-size="8.7" fill="#222" text-anchor="end" font-weight="bold" >0.2</text>
<line x1="86.7" y1="528.9" x2="89.7" y2="528.9" stroke="#222" stroke-width="1.1" />
<text x="86.10000000000001" y="532.0" font-family="Liberation Sans" font-size="8.7" fill="#222" text-anchor="end" font-weight="bold" >0.0</text>
<line x1="105.3" y1="528.9" x2="105.3" y2="532.3" stroke="#222" stroke-width="1.1" />
<line x1="124.8" y1="528.9" x2="124.8" y2="532.3" stroke="#222" stroke-width="1.1" />
<line x1="143.4" y1="528.9" x2="143.4" y2="532.3" stroke="#222" stroke-width="1.1" />
<line x1="162.0" y1="528.9" x2="162.0" y2="532.3" stroke="#222" stroke-width="1.1" />
<line x1="192.9" y1="528.9" x2="192.9" y2="532.3" stroke="#222" stroke-width="1.1" />
<line x1="211.6" y1="528.9" x2="211.6" y2="532.3" stroke="#222" stroke-width="1.1" />
<line x1="230.6" y1="528.9" x2="230.6" y2="532.3" stroke="#222" stroke-width="1.1" />
<line x1="248.9" y1="528.9" x2="248.9" y2="532.3" stroke="#222" stroke-width="1.1" />
<line x1="105.7" y1="417.7" x2="163.9" y2="417.7" stroke="#444" stroke-width="1.1" />
<text x="164.5" y="419.9" font-family="Liberation Sans" font-size="11.8" fill="#484848" text-anchor="end" font-weight="bold" letter-spacing="1.2">***</text>
<line x1="125.8" y1="426.6" x2="163.9" y2="426.6" stroke="#444" stroke-width="1.1" />
<text x="164.5" y="428.8" font-family="Liberation Sans" font-size="11.8" fill="#484848" text-anchor="end" font-weight="bold" letter-spacing="1.2">**</text>
<line x1="143.5" y1="435.4" x2="163.9" y2="435.4" stroke="#444" stroke-width="1.1" />
<text x="164.5" y="437.59999999999997" font-family="Liberation Sans" font-size="11.8" fill="#484848" text-anchor="end" font-weight="bold" letter-spacing="1.2">**</text>
<line x1="192.8" y1="432.9" x2="251" y2="432.9" stroke="#444" stroke-width="1.1" />
<text x="251.6" y="435.09999999999997" font-family="Liberation Sans" font-size="11.8" fill="#484848" text-anchor="end" font-weight="bold" letter-spacing="1.2">***</text>
<line x1="213" y1="441.7" x2="251" y2="441.7" stroke="#444" stroke-width="1.1" />
<text x="251.6" y="443.9" font-family="Liberation Sans" font-size="11.8" fill="#484848" text-anchor="end" font-weight="bold" letter-spacing="1.2">***</text>
<line x1="231" y1="450.5" x2="251" y2="450.5" stroke="#444" stroke-width="1.1" />
<text x="251.6" y="452.7" font-family="Liberation Sans" font-size="11.8" fill="#484848" text-anchor="end" font-weight="bold" letter-spacing="1.2">**</text>
<text x="133.6" y="548.6" font-family="Liberation Serif" font-size="12.2" fill="#1a1a1a" text-anchor="middle" >P-gp</text>
<text x="220.4" y="548.6" font-family="Liberation Serif" font-size="12.2" fill="#1a1a1a" text-anchor="middle" >MRP</text>
<rect x="281.5" y="443.7" width="209.3" height="71.6" fill="#fbfbfb" stroke="#cfcfcf" stroke-width="1"/>
<rect x="299.3" y="452.1" width="14.7" height="6.8" rx="1.6" fill="#a90f10"/>
<text x="327" y="460.0" font-family="Liberation Serif" font-size="12.2" fill="#1a1a1a" >Control</text>
<rect x="299.3" y="467.1" width="14.7" height="6.8" rx="1.6" fill="#cf6c14"/>
<text x="327" y="474.9" font-family="Liberation Serif" font-size="12.2" fill="#1a1a1a" >DOX</text>
<rect x="299.3" y="482.0" width="14.7" height="6.8" rx="1.6" fill="#101086"/>
<text x="327" y="489.9" font-family="Liberation Serif" font-size="12.2" fill="#1a1a1a" >MDM2/MDMX inhibitor</text>
<rect x="299.3" y="497.0" width="14.7" height="6.8" rx="1.6" fill="#67115e"/>
<text x="327" y="504.9" font-family="Liberation Serif" font-size="12.2" fill="#1a1a1a" textLength="158.6" lengthAdjust="spacingAndGlyphs" >DOX+MDM2/MDMX inhibitor</text>
<text x="490.5" y="386.4" font-family="Liberation Serif" font-size="12.2" fill="#1a1a1a" >F</text>
<text x="620.5" y="390.7" font-family="Liberation Serif" font-size="12.2" fill="#1a1a1a" text-anchor="middle" textLength="78.5" lengthAdjust="spacingAndGlyphs" >ZR-75-30/DOX</text>
<text x="517.5" y="468.8" font-family="Liberation Serif" font-size="12.2" fill="#1a1a1a" text-anchor="middle" transform="rotate(-90 517.5 468.8)" textLength="134" lengthAdjust="spacingAndGlyphs" >Relative protein expression</text>
<line x1="563.4" y1="424.2" x2="563.4" y2="436.40000000000003" stroke="#a90f10" stroke-width="0.9" /><line x1="561.4" y1="424.2" x2="565.4" y2="424.2" stroke="#a90f10" stroke-width="0.9" />
<line x1="563.4" y1="424.2" x2="563.4" y2="430.3" stroke="#222" stroke-width="0.8"  opacity="0.45"/><line x1="561.4" y1="424.2" x2="565.4" y2="424.2" stroke="#222" stroke-width="0.8"  opacity="0.45"/>
<rect x="556.40" y="430.30" width="14.00" height="99.50" fill="#a90f10" />
<line x1="563.4" y1="430.3" x2="563.4" y2="435.79" stroke="#000" stroke-width="0.7" opacity="0.35"/>
<line x1="582.5" y1="436" x2="582.5" y2="449.4" stroke="#cf6c14" stroke-width="0.9" /><line x1="580.5" y1="436" x2="584.5" y2="436" stroke="#cf6c14" stroke-width="0.9" />
<line x1="582.5" y1="436" x2="582.5" y2="442.7" stroke="#222" stroke-width="0.8"  opacity="0.45"/><line x1="580.5" y1="436" x2="584.5" y2="436" stroke="#222" stroke-width="0.8"  opacity="0.45"/>
<rect x="575.50" y="442.70" width="14.00" height="87.10" fill="#cf6c14" />
<line x1="582.5" y1="442.7" x2="582.5" y2="448.72999999999996" stroke="#000" stroke-width="0.7" opacity="0.35"/>
<line x1="601.8" y1="435.3" x2="601.8" y2="452.09999999999997" stroke="#101086" stroke-width="0.9" /><line x1="599.8" y1="435.3" x2="603.8" y2="435.3" stroke="#101086" stroke-width="0.9" />
<line x1="601.8" y1="435.3" x2="601.8" y2="443.7" stroke="#222" stroke-width="0.8"  opacity="0.45"/><line x1="599.8" y1="435.3" x2="603.8" y2="435.3" stroke="#222" stroke-width="0.8"  opacity="0.45"/>
<rect x="594.60" y="443.70" width="14.40" height="86.10" fill="#101086" />
<line x1="601.8" y1="443.7" x2="601.8" y2="451.26" stroke="#000" stroke-width="0.7" opacity="0.35"/>
<line x1="621.0" y1="497.6" x2="621.0" y2="503.6" stroke="#67115e" stroke-width="0.9" /><line x1="619.0" y1="497.6" x2="623.0" y2="497.6" stroke="#67115e" stroke-width="0.9" />
<line x1="621.0" y1="497.6" x2="621.0" y2="500.6" stroke="#222" stroke-width="0.8"  opacity="0.45"/><line x1="619.0" y1="497.6" x2="623.0" y2="497.6" stroke="#222" stroke-width="0.8"  opacity="0.45"/>
<rect x="614.00" y="500.60" width="14.00" height="29.20" fill="#67115e" />
<line x1="621.0" y1="500.6" x2="621.0" y2="503.3" stroke="#000" stroke-width="0.7" opacity="0.35"/>
<line x1="652.5" y1="478.5" x2="652.5" y2="492.70000000000005" stroke="#a90f10" stroke-width="0.9" /><line x1="650.5" y1="478.5" x2="654.5" y2="478.5" stroke="#a90f10" stroke-width="0.9" />
<line x1="652.5" y1="478.5" x2="652.5" y2="485.6" stroke="#222" stroke-width="0.8"  opacity="0.45"/><line x1="650.5" y1="478.5" x2="654.5" y2="478.5" stroke="#222" stroke-width="0.8"  opacity="0.45"/>
<rect x="645.20" y="485.60" width="14.70" height="44.20" fill="#a90f10" />
<line x1="652.5" y1="485.6" x2="652.5" y2="491.99000000000007" stroke="#000" stroke-width="0.7" opacity="0.35"/>
<line x1="671.8" y1="491.3" x2="671.8" y2="497.90000000000003" stroke="#cf6c14" stroke-width="0.9" /><line x1="669.8" y1="491.3" x2="673.8" y2="491.3" stroke="#cf6c14" stroke-width="0.9" />
<line x1="671.8" y1="491.3" x2="671.8" y2="494.6" stroke="#222" stroke-width="0.8"  opacity="0.45"/><line x1="669.8" y1="491.3" x2="673.8" y2="491.3" stroke="#222" stroke-width="0.8"  opacity="0.45"/>
<rect x="664.90" y="494.60" width="13.80" height="35.20" fill="#cf6c14" />
<line x1="671.8" y1="494.6" x2="671.8" y2="497.57000000000005" stroke="#000" stroke-width="0.7" opacity="0.35"/>
<line x1="691.4" y1="487.2" x2="691.4" y2="494.59999999999997" stroke="#101086" stroke-width="0.9" /><line x1="689.4" y1="487.2" x2="693.4" y2="487.2" stroke="#101086" stroke-width="0.9" />
<line x1="691.4" y1="487.2" x2="691.4" y2="490.9" stroke="#222" stroke-width="0.8"  opacity="0.45"/><line x1="689.4" y1="487.2" x2="693.4" y2="487.2" stroke="#222" stroke-width="0.8"  opacity="0.45"/>
<rect x="684.40" y="490.90" width="14.00" height="38.90" fill="#101086" />
<line x1="691.4" y1="490.9" x2="691.4" y2="494.22999999999996" stroke="#000" stroke-width="0.7" opacity="0.35"/>
<line x1="710.7" y1="504.3" x2="710.7" y2="508.3" stroke="#67115e" stroke-width="0.9" /><line x1="708.7" y1="504.3" x2="712.7" y2="504.3" stroke="#67115e" stroke-width="0.9" />
<line x1="710.7" y1="504.3" x2="710.7" y2="506.3" stroke="#222" stroke-width="0.8"  opacity="0.45"/><line x1="708.7" y1="504.3" x2="712.7" y2="504.3" stroke="#222" stroke-width="0.8"  opacity="0.45"/>
<rect x="703.50" y="506.30" width="14.40" height="23.50" fill="#67115e" />
<line x1="710.7" y1="506.3" x2="710.7" y2="508.1" stroke="#000" stroke-width="0.7" opacity="0.35"/>
<line x1="547.8" y1="415.4" x2="547.8" y2="530.3" stroke="#222" stroke-width="1.15" />
<line x1="547.3" y1="529.8" x2="723.6" y2="529.8" stroke="#222" stroke-width="1.15" />
<line x1="544.8" y1="415.9" x2="547.8" y2="415.9" stroke="#222" stroke-width="1.1" />
<text x="544.1999999999999" y="419.1" font-family="Liberation Sans" font-size="8.8" fill="#222" text-anchor="end" font-weight="bold" >2.0</text>
<line x1="544.8" y1="427.3" x2="547.8" y2="427.3" stroke="#222" stroke-width="1.1" />
<text x="544.1999999999999" y="430.5" font-family="Liberation Sans" font-size="8.8" fill="#222" text-anchor="end" font-weight="bold" >1.8</text>
<line x1="544.8" y1="438.7" x2="547.8" y2="438.7" stroke="#222" stroke-width="1.1" />
<text x="544.1999999999999" y="441.9" font-family="Liberation Sans" font-size="8.8" fill="#222" text-anchor="end" font-weight="bold" >1.6</text>
<line x1="544.8" y1="450.1" x2="547.8" y2="450.1" stroke="#222" stroke-width="1.1" />
<text x="544.1999999999999" y="453.3" font-family="Liberation Sans" font-size="8.8" fill="#222" text-anchor="end" font-weight="bold" >1.4</text>
<line x1="544.8" y1="461.5" x2="547.8" y2="461.5" stroke="#222" stroke-width="1.1" />
<text x="544.1999999999999" y="464.7" font-family="Liberation Sans" font-size="8.8" fill="#222" text-anchor="end" font-weight="bold" >1.2</text>
<line x1="544.8" y1="472.8" x2="547.8" y2="472.8" stroke="#222" stroke-width="1.1" />
<text x="544.1999999999999" y="476.0" font-family="Liberation Sans" font-size="8.8" fill="#222" text-anchor="end" font-weight="bold" >1.0</text>
<line x1="544.8" y1="484.2" x2="547.8" y2="484.2" stroke="#222" stroke-width="1.1" />
<text x="544.1999999999999" y="487.4" font-family="Liberation Sans" font-size="8.8" fill="#222" text-anchor="end" font-weight="bold" >0.8</text>
<line x1="544.8" y1="495.6" x2="547.8" y2="495.6" stroke="#222" stroke-width="1.1" />
<text x="544.1999999999999" y="498.8" font-family="Liberation Sans" font-size="8.8" fill="#222" text-anchor="end" font-weight="bold" >0.6</text>
<line x1="544.8" y1="507.0" x2="547.8" y2="507.0" stroke="#222" stroke-width="1.1" />
<text x="544.1999999999999" y="510.2" font-family="Liberation Sans" font-size="8.8" fill="#222" text-anchor="end" font-weight="bold" >0.4</text>
<line x1="544.8" y1="518.4" x2="547.8" y2="518.4" stroke="#222" stroke-width="1.1" />
<text x="544.1999999999999" y="521.6" font-family="Liberation Sans" font-size="8.8" fill="#222" text-anchor="end" font-weight="bold" >0.2</text>
<line x1="544.8" y1="529.8" x2="547.8" y2="529.8" stroke="#222" stroke-width="1.1" />
<text x="544.1999999999999" y="533.0" font-family="Liberation Sans" font-size="8.8" fill="#222" text-anchor="end" font-weight="bold" >0.0</text>
<line x1="563.4" y1="529.8" x2="563.4" y2="533.1999999999999" stroke="#222" stroke-width="1.1" />
<line x1="582.5" y1="529.8" x2="582.5" y2="533.1999999999999" stroke="#222" stroke-width="1.1" />
<line x1="601.8" y1="529.8" x2="601.8" y2="533.1999999999999" stroke="#222" stroke-width="1.1" />
<line x1="621.0" y1="529.8" x2="621.0" y2="533.1999999999999" stroke="#222" stroke-width="1.1" />
<line x1="652.5" y1="529.8" x2="652.5" y2="533.1999999999999" stroke="#222" stroke-width="1.1" />
<line x1="671.8" y1="529.8" x2="671.8" y2="533.1999999999999" stroke="#222" stroke-width="1.1" />
<line x1="691.4" y1="529.8" x2="691.4" y2="533.1999999999999" stroke="#222" stroke-width="1.1" />
<line x1="710.7" y1="529.8" x2="710.7" y2="533.1999999999999" stroke="#222" stroke-width="1.1" />
<line x1="563" y1="414.9" x2="621.7" y2="414.9" stroke="#444" stroke-width="1.1" />
<text x="622.3000000000001" y="417.29999999999995" font-family="Liberation Sans" font-size="13.6" fill="#484848" text-anchor="end" font-weight="bold" letter-spacing="1.6">***</text>
<line x1="582.8" y1="423.6" x2="621.7" y2="423.6" stroke="#444" stroke-width="1.1" />
<text x="622.3000000000001" y="426.0" font-family="Liberation Sans" font-size="13.6" fill="#484848" text-anchor="end" font-weight="bold" letter-spacing="1.6">***</text>
<line x1="601.6" y1="432.6" x2="621.7" y2="432.6" stroke="#444" stroke-width="1.1" />
<text x="622.3000000000001" y="435.0" font-family="Liberation Sans" font-size="13.6" fill="#484848" text-anchor="end" font-weight="bold" letter-spacing="1.6">***</text>
<line x1="652.5" y1="434.3" x2="710.2" y2="434.3" stroke="#444" stroke-width="1.1" />
<text x="710.8000000000001" y="436.7" font-family="Liberation Sans" font-size="13.6" fill="#484848" text-anchor="end" font-weight="bold" letter-spacing="1.6">**</text>
<line x1="672" y1="443" x2="710.2" y2="443" stroke="#444" stroke-width="1.1" />
<text x="710.8000000000001" y="445.4" font-family="Liberation Sans" font-size="13.6" fill="#484848" text-anchor="end" font-weight="bold" letter-spacing="1.6">*</text>
<line x1="690" y1="451.4" x2="710.2" y2="451.4" stroke="#444" stroke-width="1.1" />
<text x="710.8000000000001" y="453.79999999999995" font-family="Liberation Sans" font-size="13.6" fill="#484848" text-anchor="end" font-weight="bold" letter-spacing="1.6">**</text>
<text x="593.2" y="547.6" font-family="Liberation Serif" font-size="12.2" fill="#1a1a1a" text-anchor="middle" >P-gp</text>
<text x="681.7" y="547.6" font-family="Liberation Serif" font-size="12.2" fill="#1a1a1a" text-anchor="middle" >MRP</text>
<defs>
<radialGradient id="gr"><stop offset="0" stop-color="#e42438"/><stop offset="0.6" stop-color="#d0102a"/><stop offset="0.85" stop-color="#a00018" stop-opacity="0.8"/><stop offset="1" stop-color="#600010" stop-opacity="0"/></radialGradient>
<radialGradient id="gR"><stop offset="0" stop-color="#ff3a62"/><stop offset="0.55" stop-color="#f01238"/><stop offset="0.85" stop-color="#c40024" stop-opacity="0.85"/><stop offset="1" stop-color="#700010" stop-opacity="0"/></radialGradient>
<radialGradient id="gb"><stop offset="0" stop-color="#3a30f0"/><stop offset="0.6" stop-color="#2a1cd0"/><stop offset="1" stop-color="#1a0c90" stop-opacity="0"/></radialGradient>
<radialGradient id="gB"><stop offset="0" stop-color="#3040ff"/><stop offset="0.65" stop-color="#1c20f0"/><stop offset="1" stop-color="#1008a0" stop-opacity="0"/></radialGradient>
<radialGradient id="gp"><stop offset="0" stop-color="#a020a0"/><stop offset="0.6" stop-color="#8a1470"/><stop offset="1" stop-color="#500040" stop-opacity="0"/></radialGradient>
<radialGradient id="gm"><stop offset="0" stop-color="#c030e0"/><stop offset="0.6" stop-color="#c020b0" stop-opacity="0.9"/><stop offset="1" stop-color="#e01050" stop-opacity="0"/></radialGradient>
<radialGradient id="gk"><stop offset="0" stop-color="#d838a8"/><stop offset="0.55" stop-color="#ec1674"/><stop offset="0.85" stop-color="#c00858" stop-opacity="0.9"/><stop offset="1" stop-color="#600030" stop-opacity="0"/></radialGradient>
<radialGradient id="gK"><stop offset="0" stop-color="#ff3070"/><stop offset="0.6" stop-color="#f01050"/><stop offset="0.85" stop-color="#c80840" stop-opacity="0.9"/><stop offset="1" stop-color="#600020" stop-opacity="0"/></radialGradient>
<radialGradient id="gkc"><stop offset="0" stop-color="#b850e0"/><stop offset="1" stop-color="#d030a0" stop-opacity="0"/></radialGradient>
<radialGradient id="gv"><stop offset="0" stop-color="#a030c0"/><stop offset="0.6" stop-color="#c01890"/><stop offset="0.85" stop-color="#900868" stop-opacity="0.85"/><stop offset="1" stop-color="#400030" stop-opacity="0"/></radialGradient>
<radialGradient id="gv2"><stop offset="0" stop-color="#c028a0"/><stop offset="0.6" stop-color="#d01878"/><stop offset="0.85" stop-color="#a00860" stop-opacity="0.85"/><stop offset="1" stop-color="#400030" stop-opacity="0"/></radialGradient>
<radialGradient id="gvc"><stop offset="0" stop-color="#7030e0"/><stop offset="1" stop-color="#9030c0" stop-opacity="0"/></radialGradient>
<radialGradient id="gu"><stop offset="0" stop-color="#4a2ce8"/><stop offset="0.5" stop-color="#6424cc"/><stop offset="0.8" stop-color="#a01488" stop-opacity="0.85"/><stop offset="1" stop-color="#500040" stop-opacity="0"/></radialGradient>
<radialGradient id="gd"><stop offset="0" stop-color="#3838f0"/><stop offset="0.6" stop-color="#3020d0"/><stop offset="1" stop-color="#200880" stop-opacity="0"/></radialGradient>

<filter id="cb55" x="-5%" y="-5%" width="110%" height="110%"><feTurbulence type="fractalNoise" baseFrequency="0.2" numOctaves="1" seed="3" result="n"/><feDisplacementMap in="SourceGraphic" in2="n" scale="1.6" xChannelSelector="R" yChannelSelector="G"/><feGaussianBlur stdDeviation="0.65"/></filter>
<filter id="cb60" x="-5%" y="-5%" width="110%" height="110%"><feTurbulence type="fractalNoise" baseFrequency="0.2" numOctaves="1" seed="3" result="n"/><feDisplacementMap in="SourceGraphic" in2="n" scale="1.6" xChannelSelector="R" yChannelSelector="G"/><feGaussianBlur stdDeviation="0.85"/></filter>
<filter id="cb90" x="-5%" y="-5%" width="110%" height="110%"><feTurbulence type="fractalNoise" baseFrequency="0.09" numOctaves="2" seed="9" result="n"/><feDisplacementMap in="SourceGraphic" in2="n" scale="5" xChannelSelector="R" yChannelSelector="G"/><feGaussianBlur stdDeviation="0.9"/></filter>
<filter id="cb100" x="-5%" y="-5%" width="110%" height="110%"><feTurbulence type="fractalNoise" baseFrequency="0.09" numOctaves="2" seed="10" result="n"/><feDisplacementMap in="SourceGraphic" in2="n" scale="5" xChannelSelector="R" yChannelSelector="G"/><feGaussianBlur stdDeviation="1.0"/></filter>
<filter id="cb120" x="-5%" y="-5%" width="110%" height="110%"><feTurbulence type="fractalNoise" baseFrequency="0.09" numOctaves="2" seed="12" result="n"/><feDisplacementMap in="SourceGraphic" in2="n" scale="7" xChannelSelector="R" yChannelSelector="G"/><feGaussianBlur stdDeviation="1.2"/></filter>
<filter id="cb130" x="-5%" y="-5%" width="110%" height="110%"><feTurbulence type="fractalNoise" baseFrequency="0.09" numOctaves="2" seed="13" result="n"/><feDisplacementMap in="SourceGraphic" in2="n" scale="7" xChannelSelector="R" yChannelSelector="G"/><feGaussianBlur stdDeviation="1.3"/></filter>
</defs>
<text x="28.3" y="577.4" font-family="Liberation Serif" font-size="12.2" fill="#1a1a1a" >G</text>
<text x="231.8" y="576.7" font-family="Liberation Serif" font-size="12.2" fill="#1a1a1a" text-anchor="middle" textLength="65.5" lengthAdjust="spacingAndGlyphs" >MCF-7/DOX</text>
<text x="578.3" y="575.8" font-family="Liberation Serif" font-size="12.2" fill="#1a1a1a" text-anchor="middle" textLength="78" lengthAdjust="spacingAndGlyphs" >ZR-75-30/DOX</text>
<text x="39" y="629" font-family="Liberation Serif" font-size="12.2" fill="#1a1a1a" >P-gp</text>
<text x="39.3" y="710.3" font-family="Liberation Serif" font-size="12.2" fill="#1a1a1a" >MRP</text>
<text x="118.4" y="757.6" font-family="Liberation Serif" font-size="12.2" fill="#1a1a1a" text-anchor="middle" >Control</text>
<text x="198.4" y="757.6" font-family="Liberation Serif" font-size="12.2" fill="#1a1a1a" text-anchor="middle" >DOX</text>
<text x="276" y="757.6" font-family="Liberation Serif" font-size="12.2" fill="#1a1a1a" text-anchor="middle" >Inhibitor</text>
<text x="354.7" y="757.6" font-family="Liberation Serif" font-size="12.2" fill="#1a1a1a" text-anchor="middle" >DOX+inhibitor</text>
<text x="463" y="758.3" font-family="Liberation Serif" font-size="12.2" fill="#1a1a1a" text-anchor="middle" >Control</text>
<text x="537" y="756.8" font-family="Liberation Serif" font-size="12.2" fill="#1a1a1a" text-anchor="middle" >DOX</text>
<text x="615" y="757.4" font-family="Liberation Serif" font-size="12.2" fill="#1a1a1a" text-anchor="middle" >Inhibitor</text>
<text x="692.6" y="758.1" font-family="Liberation Serif" font-size="12.2" fill="#1a1a1a" text-anchor="middle" >DOX+inhibitor</text>
<rect x="73.30" y="582.60" width="316.60" height="156.80" fill="#e8e4ea" />
<rect x="413.20" y="582.60" width="316.20" height="156.80" fill="#e0dce4" />
<clipPath id="cm1"><rect x="73.6" y="583" width="78.0" height="76.8"/></clipPath>
<g clip-path="url(#cm1)">
<rect x="73.60" y="583.00" width="78.00" height="76.80" fill="#060008" />
<g filter="url(#cb100)"><circle cx="80.7" cy="611.1" r="9.9" fill="#50000c" opacity="0.28"/><circle cx="98.0" cy="602.6" r="9.9" fill="#50000c" opacity="0.28"/><circle cx="110.3" cy="600.4" r="9.9" fill="#50000c" opacity="0.28"/><circle cx="113.7" cy="593.7" r="9.9" fill="#50000c" opacity="0.28"/><circle cx="132.2" cy="590.3" r="9.9" fill="#50000c" opacity="0.28"/><circle cx="142.1" cy="600.4" r="9.9" fill="#50000c" opacity="0.28"/><circle cx="132.7" cy="608.2" r="9.9" fill="#50000c" opacity="0.28"/><circle cx="137.8" cy="619.4" r="9.9" fill="#50000c" opacity="0.28"/><circle cx="99.1" cy="619.4" r="9.9" fill="#50000c" opacity="0.28"/><circle cx="118.8" cy="621.7" r="9.9" fill="#50000c" opacity="0.28"/><circle cx="106.9" cy="631.7" r="9.9" fill="#50000c" opacity="0.28"/><circle cx="121.9" cy="638.4" r="9.9" fill="#50000c" opacity="0.28"/><circle cx="102.5" cy="641.8" r="9.9" fill="#50000c" opacity="0.28"/><circle cx="93.5" cy="647.4" r="9.9" fill="#50000c" opacity="0.28"/><circle cx="117.0" cy="649.2" r="9.9" fill="#50000c" opacity="0.28"/><circle cx="110.3" cy="611.6" r="9.9" fill="#50000c" opacity="0.28"/><ellipse cx="80.7" cy="611.1" rx="5.8" ry="5.8" fill="url(#gR)" opacity="1.00"/><ellipse cx="98.0" cy="602.6" rx="5.8" ry="5.8" fill="url(#gr)" opacity="0.95"/><ellipse cx="98.3" cy="602.4" rx="3.9" ry="3.9" fill="url(#gb)" opacity="0.90"/><ellipse cx="110.3" cy="600.4" rx="4.1" ry="8.7" fill="url(#gr)" opacity="0.95"/><ellipse cx="110.6" cy="600.2" rx="3.9" ry="4.9" fill="url(#gb)" opacity="0.90"/><ellipse cx="113.7" cy="593.7" rx="4.1" ry="4.1" fill="url(#gr)" opacity="0.32"/><ellipse cx="114.0" cy="593.5" rx="3.3" ry="3.3" fill="url(#gb)" opacity="0.95"/><ellipse cx="132.2" cy="590.3" rx="4.4" ry="7.6" fill="url(#gr)" opacity="0.95"/><ellipse cx="132.5" cy="590.1" rx="3.9" ry="4.9" fill="url(#gb)" opacity="0.90"/><ellipse cx="142.1" cy="600.4" rx="3.1" ry="8.4" fill="url(#gr)" opacity="0.90"/><ellipse cx="132.7" cy="608.2" rx="6.4" ry="6.4" fill="url(#gr)" opacity="0.95"/><ellipse cx="133.0" cy="608.0" rx="4.3" ry="4.3" fill="url(#gb)" opacity="0.90"/><ellipse cx="137.8" cy="619.4" rx="5.8" ry="5.8" fill="url(#gr)" opacity="0.95"/><ellipse cx="138.1" cy="619.2" rx="3.9" ry="3.9" fill="url(#gb)" opacity="0.90"/><ellipse cx="99.1" cy="619.4" rx="6.4" ry="6.4" fill="url(#gr)" opacity="0.95"/><ellipse cx="99.4" cy="619.2" rx="4.3" ry="4.3" fill="url(#gb)" opacity="0.90"/><ellipse cx="118.8" cy="621.7" rx="5.8" ry="5.8" fill="url(#gr)" opacity="0.95"/><ellipse cx="119.1" cy="621.5" rx="3.9" ry="3.9" fill="url(#gb)" opacity="0.90"/><ellipse cx="106.9" cy="631.7" rx="6.7" ry="6.7" fill="url(#gr)" opacity="0.95"/><ellipse cx="107.2" cy="631.5" rx="4.5" ry="4.5" fill="url(#gb)" opacity="0.90"/><ellipse cx="121.9" cy="638.4" rx="6.4" ry="6.4" fill="url(#gr)" opacity="0.95"/><ellipse cx="122.2" cy="638.2" rx="4.3" ry="4.3" fill="url(#gb)" opacity="0.90"/><ellipse cx="102.5" cy="641.8" rx="4.7" ry="4.7" fill="url(#gr)" opacity="0.95"/><ellipse cx="102.8" cy="641.6" rx="3.2" ry="3.2" fill="url(#gb)" opacity="0.90"/><ellipse cx="93.5" cy="647.4" rx="5.5" ry="5.5" fill="url(#gR)" opacity="1.00"/><ellipse cx="117.0" cy="649.2" rx="6.1" ry="6.1" fill="url(#gr)" opacity="0.95"/><ellipse cx="117.3" cy="649.0" rx="4.1" ry="4.1" fill="url(#gb)" opacity="0.90"/><ellipse cx="110.3" cy="611.6" rx="3.5" ry="3.5" fill="url(#gr)" opacity="0.90"/></g>
</g>
<clipPath id="cm2"><rect x="152.9" y="583" width="78.1" height="76.8"/></clipPath>
<g clip-path="url(#cm2)">
<rect x="152.90" y="583.00" width="78.10" height="76.80" fill="#07000c" />
<g filter="url(#cb100)"><circle cx="166.3" cy="590.3" r="9.1" fill="#50000c" opacity="0.28"/><circle cx="170.7" cy="598.1" r="9.1" fill="#50000c" opacity="0.28"/><circle cx="156.2" cy="599.3" r="9.1" fill="#50000c" opacity="0.28"/><circle cx="179.7" cy="606.0" r="9.1" fill="#50000c" opacity="0.28"/><circle cx="166.7" cy="613.8" r="9.1" fill="#50000c" opacity="0.28"/><circle cx="187.5" cy="599.3" r="9.1" fill="#50000c" opacity="0.28"/><circle cx="205.4" cy="599.3" r="9.1" fill="#50000c" opacity="0.28"/><circle cx="199.8" cy="609.3" r="9.1" fill="#50000c" opacity="0.28"/><circle cx="192.0" cy="619.4" r="9.1" fill="#50000c" opacity="0.28"/><circle cx="206.6" cy="620.5" r="9.1" fill="#50000c" opacity="0.28"/><circle cx="213.3" cy="619.4" r="9.1" fill="#50000c" opacity="0.28"/><circle cx="174.1" cy="631.3" r="9.1" fill="#50000c" opacity="0.28"/><circle cx="194.2" cy="635.1" r="9.1" fill="#50000c" opacity="0.28"/><circle cx="211.0" cy="637.3" r="9.1" fill="#50000c" opacity="0.28"/><circle cx="224.5" cy="632.8" r="9.1" fill="#50000c" opacity="0.28"/><circle cx="229.4" cy="631.7" r="9.1" fill="#50000c" opacity="0.28"/><circle cx="198.7" cy="648.5" r="9.1" fill="#50000c" opacity="0.28"/><circle cx="216.6" cy="649.6" r="9.1" fill="#50000c" opacity="0.28"/><circle cx="165.1" cy="653.0" r="9.1" fill="#50000c" opacity="0.28"/><circle cx="183.1" cy="656.4" r="9.1" fill="#50000c" opacity="0.28"/><circle cx="186.4" cy="611.6" r="9.1" fill="#50000c" opacity="0.28"/><circle cx="204.3" cy="626.1" r="9.1" fill="#50000c" opacity="0.28"/><ellipse cx="166.3" cy="590.3" rx="5.4" ry="5.4" fill="url(#gp)" opacity="0.85"/><ellipse cx="166.6" cy="590.1" rx="3.3" ry="3.3" fill="url(#gb)" opacity="0.95"/><ellipse cx="170.7" cy="598.1" rx="4.8" ry="4.8" fill="url(#gr)" opacity="0.90"/><ellipse cx="156.2" cy="599.3" rx="3.2" ry="3.2" fill="url(#gr)" opacity="0.32"/><ellipse cx="156.5" cy="599.1" rx="2.6" ry="2.6" fill="url(#gb)" opacity="0.95"/><ellipse cx="179.7" cy="606.0" rx="4.8" ry="4.8" fill="url(#gp)" opacity="0.85"/><ellipse cx="180.0" cy="605.8" rx="3.0" ry="3.0" fill="url(#gb)" opacity="0.95"/><ellipse cx="166.7" cy="613.8" rx="4.8" ry="4.8" fill="url(#gr)" opacity="0.88"/><ellipse cx="167.0" cy="613.6" rx="3.5" ry="3.5" fill="url(#gvc)" opacity="0.85"/><ellipse cx="187.5" cy="599.3" rx="3.8" ry="3.8" fill="url(#gr)" opacity="0.16"/><ellipse cx="187.8" cy="599.1" rx="3.1" ry="3.1" fill="url(#gb)" opacity="0.47"/><ellipse cx="205.4" cy="599.3" rx="3.2" ry="9.1" fill="url(#gp)" opacity="0.85"/><ellipse cx="205.7" cy="599.1" rx="3.3" ry="4.1" fill="url(#gb)" opacity="0.95"/><ellipse cx="199.8" cy="609.3" rx="4.8" ry="4.8" fill="url(#gr)" opacity="0.32"/><ellipse cx="200.1" cy="609.1" rx="4.0" ry="4.0" fill="url(#gb)" opacity="0.95"/><ellipse cx="192.0" cy="619.4" rx="4.8" ry="4.8" fill="url(#gp)" opacity="0.85"/><ellipse cx="192.3" cy="619.2" rx="3.0" ry="3.0" fill="url(#gb)" opacity="0.95"/><ellipse cx="206.6" cy="620.5" rx="4.3" ry="4.3" fill="url(#gr)" opacity="0.95"/><ellipse cx="206.9" cy="620.3" rx="2.9" ry="2.9" fill="url(#gb)" opacity="0.90"/><ellipse cx="213.3" cy="619.4" rx="4.3" ry="4.3" fill="url(#gr)" opacity="0.90"/><ellipse cx="174.1" cy="631.3" rx="5.4" ry="5.4" fill="url(#gr)" opacity="0.88"/><ellipse cx="174.4" cy="631.1" rx="3.9" ry="3.9" fill="url(#gvc)" opacity="0.85"/><ellipse cx="194.2" cy="635.1" rx="4.8" ry="4.8" fill="url(#gr)" opacity="0.32"/><ellipse cx="194.5" cy="634.9" rx="4.0" ry="4.0" fill="url(#gb)" opacity="0.95"/><ellipse cx="211.0" cy="637.3" rx="5.4" ry="5.4" fill="url(#gr)" opacity="0.88"/><ellipse cx="211.3" cy="637.1" rx="3.9" ry="3.9" fill="url(#gvc)" opacity="0.85"/><ellipse cx="224.5" cy="632.8" rx="4.8" ry="4.8" fill="url(#gr)" opacity="0.95"/><ellipse cx="224.8" cy="632.6" rx="3.3" ry="3.3" fill="url(#gb)" opacity="0.90"/><ellipse cx="229.4" cy="631.7" rx="4.3" ry="4.3" fill="url(#gr)" opacity="0.90"/><ellipse cx="198.7" cy="648.5" rx="5.9" ry="5.9" fill="url(#gr)" opacity="0.88"/><ellipse cx="199.0" cy="648.3" rx="4.3" ry="4.3" fill="url(#gvc)" opacity="0.85"/><ellipse cx="216.6" cy="649.6" rx="4.3" ry="4.3" fill="url(#gr)" opacity="0.32"/><ellipse cx="216.9" cy="649.4" rx="3.5" ry="3.5" fill="url(#gb)" opacity="0.95"/><ellipse cx="165.1" cy="653.0" rx="3.8" ry="3.8" fill="url(#gr)" opacity="0.19"/><ellipse cx="165.4" cy="652.8" rx="3.1" ry="3.1" fill="url(#gb)" opacity="0.57"/><ellipse cx="183.1" cy="656.4" rx="3.2" ry="3.2" fill="url(#gr)" opacity="0.90"/><ellipse cx="186.4" cy="611.6" rx="4.8" ry="4.8" fill="url(#gp)" opacity="0.70"/><ellipse cx="204.3" cy="626.1" rx="3.2" ry="3.2" fill="url(#gr)" opacity="0.90"/></g>
</g>
<clipPath id="cm3"><rect x="231.8" y="583" width="77.8" height="76.8"/></clipPath>
<g clip-path="url(#cm3)">
<rect x="231.80" y="583.00" width="77.80" height="76.80" fill="#0a0006" />
<g filter="url(#cb100)"><circle cx="245.9" cy="588.1" r="10.3" fill="#50000c" opacity="0.28"/><circle cx="238.1" cy="595.9" r="10.3" fill="#50000c" opacity="0.28"/><circle cx="254.9" cy="593.7" r="10.3" fill="#50000c" opacity="0.28"/><circle cx="266.5" cy="588.1" r="10.3" fill="#50000c" opacity="0.28"/><circle cx="282.8" cy="593.7" r="10.3" fill="#50000c" opacity="0.28"/><circle cx="235.8" cy="603.7" r="10.3" fill="#50000c" opacity="0.28"/><circle cx="240.3" cy="613.8" r="10.3" fill="#50000c" opacity="0.28"/><circle cx="251.5" cy="614.9" r="10.3" fill="#50000c" opacity="0.28"/><circle cx="261.6" cy="612.7" r="10.3" fill="#50000c" opacity="0.28"/><circle cx="238.1" cy="619.4" r="10.3" fill="#50000c" opacity="0.28"/><circle cx="251.5" cy="629.5" r="10.3" fill="#50000c" opacity="0.28"/><circle cx="272.8" cy="628.4" r="10.3" fill="#50000c" opacity="0.28"/><circle cx="292.9" cy="626.1" r="10.3" fill="#50000c" opacity="0.28"/><circle cx="300.8" cy="623.9" r="10.3" fill="#50000c" opacity="0.28"/><circle cx="279.5" cy="639.6" r="10.3" fill="#50000c" opacity="0.28"/><circle cx="295.2" cy="639.6" r="10.3" fill="#50000c" opacity="0.28"/><circle cx="257.1" cy="644.0" r="10.3" fill="#50000c" opacity="0.28"/><circle cx="287.3" cy="654.1" r="10.3" fill="#50000c" opacity="0.28"/><circle cx="232.5" cy="631.7" r="10.3" fill="#50000c" opacity="0.28"/><circle cx="245.9" cy="602.6" r="10.3" fill="#50000c" opacity="0.28"/><ellipse cx="245.9" cy="588.1" rx="6.0" ry="6.0" fill="url(#gr)" opacity="0.88"/><ellipse cx="246.2" cy="587.9" rx="4.3" ry="4.3" fill="url(#gvc)" opacity="0.85"/><ellipse cx="238.1" cy="595.9" rx="6.0" ry="6.0" fill="url(#gr)" opacity="0.95"/><ellipse cx="238.4" cy="595.7" rx="4.1" ry="4.1" fill="url(#gb)" opacity="0.90"/><ellipse cx="254.9" cy="593.7" rx="6.0" ry="6.0" fill="url(#gr)" opacity="0.88"/><ellipse cx="255.2" cy="593.5" rx="4.3" ry="4.3" fill="url(#gvc)" opacity="0.85"/><ellipse cx="266.5" cy="588.1" rx="6.0" ry="6.0" fill="url(#gr)" opacity="0.95"/><ellipse cx="266.8" cy="587.9" rx="4.1" ry="4.1" fill="url(#gb)" opacity="0.90"/><ellipse cx="282.8" cy="593.7" rx="5.4" ry="5.4" fill="url(#gp)" opacity="0.35"/><ellipse cx="235.8" cy="603.7" rx="6.0" ry="6.0" fill="url(#gr)" opacity="0.95"/><ellipse cx="236.1" cy="603.5" rx="4.1" ry="4.1" fill="url(#gb)" opacity="0.90"/><ellipse cx="240.3" cy="613.8" rx="6.7" ry="6.7" fill="url(#gr)" opacity="0.88"/><ellipse cx="240.6" cy="613.6" rx="4.8" ry="4.8" fill="url(#gvc)" opacity="0.85"/><ellipse cx="251.5" cy="614.9" rx="6.0" ry="6.0" fill="url(#gr)" opacity="0.95"/><ellipse cx="251.8" cy="614.7" rx="4.1" ry="4.1" fill="url(#gb)" opacity="0.90"/><ellipse cx="261.6" cy="612.7" rx="6.7" ry="6.7" fill="url(#gr)" opacity="0.95"/><ellipse cx="261.9" cy="612.5" rx="4.5" ry="4.5" fill="url(#gb)" opacity="0.90"/><ellipse cx="238.1" cy="619.4" rx="6.0" ry="6.0" fill="url(#gr)" opacity="0.88"/><ellipse cx="238.4" cy="619.2" rx="4.3" ry="4.3" fill="url(#gvc)" opacity="0.85"/><ellipse cx="251.5" cy="629.5" rx="6.0" ry="6.0" fill="url(#gr)" opacity="0.32"/><ellipse cx="251.8" cy="629.3" rx="5.0" ry="5.0" fill="url(#gb)" opacity="0.95"/><ellipse cx="272.8" cy="628.4" rx="6.7" ry="6.7" fill="url(#gR)" opacity="1.00"/><ellipse cx="292.9" cy="626.1" rx="6.0" ry="6.0" fill="url(#gr)" opacity="0.88"/><ellipse cx="293.2" cy="625.9" rx="4.3" ry="4.3" fill="url(#gvc)" opacity="0.85"/><ellipse cx="300.8" cy="623.9" rx="5.4" ry="5.4" fill="url(#gr)" opacity="0.88"/><ellipse cx="301.1" cy="623.7" rx="3.9" ry="3.9" fill="url(#gvc)" opacity="0.85"/><ellipse cx="279.5" cy="639.6" rx="6.0" ry="6.0" fill="url(#gr)" opacity="0.95"/><ellipse cx="279.8" cy="639.4" rx="4.1" ry="4.1" fill="url(#gb)" opacity="0.90"/><ellipse cx="295.2" cy="639.6" rx="6.0" ry="6.0" fill="url(#gr)" opacity="0.88"/><ellipse cx="295.5" cy="639.4" rx="4.3" ry="4.3" fill="url(#gvc)" opacity="0.85"/><ellipse cx="257.1" cy="644.0" rx="4.8" ry="7.9" fill="url(#gr)" opacity="0.88"/><ellipse cx="257.4" cy="643.8" rx="4.3" ry="5.4" fill="url(#gvc)" opacity="0.85"/><ellipse cx="287.3" cy="654.1" rx="6.7" ry="6.7" fill="url(#gR)" opacity="1.00"/><ellipse cx="232.5" cy="631.7" rx="4.2" ry="4.2" fill="url(#gr)" opacity="0.90"/><ellipse cx="245.9" cy="602.6" rx="4.8" ry="4.8" fill="url(#gp)" opacity="0.70"/></g>
</g>
<clipPath id="cm4"><rect x="311.0" y="583" width="78.5" height="76.8"/></clipPath>
<g clip-path="url(#cm4)">
<rect x="311.00" y="583.00" width="78.50" height="76.80" fill="#06000e" />
<g filter="url(#cb100)"><circle cx="325.4" cy="589.2" r="8.7" fill="#50000c" opacity="0.28"/><circle cx="343.3" cy="587.4" r="8.7" fill="#50000c" opacity="0.28"/><circle cx="361.2" cy="585.8" r="8.7" fill="#50000c" opacity="0.28"/><circle cx="384.7" cy="588.1" r="8.7" fill="#50000c" opacity="0.28"/><circle cx="337.7" cy="602.6" r="8.7" fill="#50000c" opacity="0.28"/><circle cx="351.1" cy="603.7" r="8.7" fill="#50000c" opacity="0.28"/><circle cx="355.6" cy="612.7" r="8.7" fill="#50000c" opacity="0.28"/><circle cx="333.7" cy="616.1" r="8.7" fill="#50000c" opacity="0.28"/><circle cx="314.2" cy="617.2" r="8.7" fill="#50000c" opacity="0.28"/><circle cx="357.4" cy="620.5" r="8.7" fill="#50000c" opacity="0.28"/><circle cx="332.1" cy="626.1" r="8.7" fill="#50000c" opacity="0.28"/><circle cx="379.1" cy="623.9" r="8.7" fill="#50000c" opacity="0.28"/><circle cx="317.5" cy="630.6" r="8.7" fill="#50000c" opacity="0.28"/><circle cx="356.7" cy="631.7" r="8.7" fill="#50000c" opacity="0.28"/><circle cx="350.0" cy="635.8" r="8.7" fill="#50000c" opacity="0.28"/><circle cx="370.2" cy="637.3" r="8.7" fill="#50000c" opacity="0.28"/><circle cx="382.9" cy="641.8" r="8.7" fill="#50000c" opacity="0.28"/><circle cx="338.8" cy="645.2" r="8.7" fill="#50000c" opacity="0.28"/><circle cx="326.5" cy="650.8" r="8.7" fill="#50000c" opacity="0.28"/><circle cx="333.2" cy="657.5" r="8.7" fill="#50000c" opacity="0.28"/><circle cx="351.1" cy="657.5" r="8.7" fill="#50000c" opacity="0.28"/><circle cx="344.4" cy="620.5" r="8.7" fill="#50000c" opacity="0.28"/><circle cx="366.8" cy="611.6" r="8.7" fill="#50000c" opacity="0.28"/><ellipse cx="325.4" cy="589.2" rx="6.2" ry="6.2" fill="url(#gr)" opacity="0.95"/><ellipse cx="325.7" cy="589.0" rx="4.2" ry="4.2" fill="url(#gb)" opacity="0.90"/><ellipse cx="343.3" cy="587.4" rx="4.6" ry="4.6" fill="url(#gr)" opacity="0.32"/><ellipse cx="343.6" cy="587.2" rx="3.8" ry="3.8" fill="url(#gb)" opacity="0.95"/><ellipse cx="361.2" cy="585.8" rx="4.1" ry="4.1" fill="url(#gp)" opacity="0.35"/><ellipse cx="384.7" cy="588.1" rx="3.6" ry="3.6" fill="url(#gp)" opacity="0.28"/><ellipse cx="337.7" cy="602.6" rx="5.2" ry="5.2" fill="url(#gr)" opacity="0.25"/><ellipse cx="338.0" cy="602.4" rx="4.8" ry="4.8" fill="url(#gB)" opacity="1.00"/><ellipse cx="351.1" cy="603.7" rx="5.2" ry="5.2" fill="url(#gr)" opacity="0.32"/><ellipse cx="351.4" cy="603.5" rx="4.2" ry="4.2" fill="url(#gb)" opacity="0.95"/><ellipse cx="355.6" cy="612.7" rx="5.2" ry="5.2" fill="url(#gr)" opacity="0.32"/><ellipse cx="355.9" cy="612.5" rx="4.2" ry="4.2" fill="url(#gb)" opacity="0.95"/><ellipse cx="333.7" cy="616.1" rx="5.2" ry="5.2" fill="url(#gr)" opacity="0.32"/><ellipse cx="334.0" cy="615.9" rx="4.2" ry="4.2" fill="url(#gb)" opacity="0.95"/><ellipse cx="314.2" cy="617.2" rx="5.2" ry="5.2" fill="url(#gr)" opacity="0.25"/><ellipse cx="314.5" cy="617.0" rx="4.8" ry="4.8" fill="url(#gB)" opacity="1.00"/><ellipse cx="357.4" cy="620.5" rx="5.2" ry="5.2" fill="url(#gr)" opacity="0.32"/><ellipse cx="357.7" cy="620.3" rx="4.2" ry="4.2" fill="url(#gb)" opacity="0.95"/><ellipse cx="332.1" cy="626.1" rx="5.2" ry="5.2" fill="url(#gp)" opacity="0.85"/><ellipse cx="332.4" cy="625.9" rx="3.2" ry="3.2" fill="url(#gb)" opacity="0.95"/><ellipse cx="379.1" cy="623.9" rx="5.2" ry="5.2" fill="url(#gp)" opacity="0.85"/><ellipse cx="379.4" cy="623.7" rx="3.2" ry="3.2" fill="url(#gb)" opacity="0.95"/><ellipse cx="317.5" cy="630.6" rx="5.2" ry="5.2" fill="url(#gr)" opacity="0.32"/><ellipse cx="317.8" cy="630.4" rx="4.2" ry="4.2" fill="url(#gb)" opacity="0.95"/><ellipse cx="356.7" cy="631.7" rx="5.2" ry="5.2" fill="url(#gr)" opacity="0.32"/><ellipse cx="357.0" cy="631.5" rx="4.2" ry="4.2" fill="url(#gb)" opacity="0.95"/><ellipse cx="350.0" cy="635.8" rx="5.2" ry="5.2" fill="url(#gr)" opacity="0.25"/><ellipse cx="350.3" cy="635.6" rx="4.8" ry="4.8" fill="url(#gB)" opacity="1.00"/><ellipse cx="370.2" cy="637.3" rx="5.2" ry="5.2" fill="url(#gr)" opacity="0.32"/><ellipse cx="370.5" cy="637.1" rx="4.2" ry="4.2" fill="url(#gb)" opacity="0.95"/><ellipse cx="382.9" cy="641.8" rx="5.2" ry="5.2" fill="url(#gr)" opacity="0.32"/><ellipse cx="383.2" cy="641.6" rx="4.2" ry="4.2" fill="url(#gb)" opacity="0.95"/><ellipse cx="338.8" cy="645.2" rx="5.2" ry="5.2" fill="url(#gr)" opacity="0.25"/><ellipse cx="339.1" cy="645.0" rx="4.8" ry="4.8" fill="url(#gB)" opacity="1.00"/><ellipse cx="326.5" cy="650.8" rx="5.2" ry="5.2" fill="url(#gr)" opacity="0.32"/><ellipse cx="326.8" cy="650.6" rx="4.2" ry="4.2" fill="url(#gb)" opacity="0.95"/><ellipse cx="333.2" cy="657.5" rx="5.2" ry="5.2" fill="url(#gr)" opacity="0.32"/><ellipse cx="333.5" cy="657.3" rx="4.2" ry="4.2" fill="url(#gb)" opacity="0.95"/><ellipse cx="351.1" cy="657.5" rx="5.2" ry="5.2" fill="url(#gr)" opacity="0.32"/><ellipse cx="351.4" cy="657.3" rx="4.2" ry="4.2" fill="url(#gb)" opacity="0.95"/><ellipse cx="344.4" cy="620.5" rx="8.2" ry="8.2" fill="url(#gp)" opacity="0.24"/><ellipse cx="366.8" cy="611.6" rx="6.2" ry="6.2" fill="url(#gp)" opacity="0.21"/></g>
</g>
<clipPath id="cm5"><rect x="73.6" y="661.6" width="78.0" height="77.4"/></clipPath>
<g clip-path="url(#cm5)">
<rect x="73.60" y="661.60" width="78.00" height="77.40" fill="#0c0004" />
<g filter="url(#cb120)"><circle cx="111.4" cy="670.6" r="14.4" fill="#5a0010" opacity="0.25"/><circle cx="131.6" cy="669.4" r="14.4" fill="#5a0010" opacity="0.25"/><circle cx="118.1" cy="678.4" r="14.4" fill="#5a0010" opacity="0.25"/><circle cx="138.3" cy="679.5" r="14.4" fill="#5a0010" opacity="0.25"/><circle cx="93.5" cy="691.8" r="14.4" fill="#5a0010" opacity="0.25"/><circle cx="109.8" cy="695.2" r="14.4" fill="#5a0010" opacity="0.25"/><circle cx="126.0" cy="689.6" r="14.4" fill="#5a0010" opacity="0.25"/><circle cx="141.2" cy="691.8" r="14.4" fill="#5a0010" opacity="0.25"/><circle cx="123.3" cy="698.5" r="14.4" fill="#5a0010" opacity="0.25"/><circle cx="86.8" cy="708.6" r="14.4" fill="#5a0010" opacity="0.25"/><circle cx="115.9" cy="710.8" r="14.4" fill="#5a0010" opacity="0.25"/><circle cx="131.6" cy="706.4" r="14.4" fill="#5a0010" opacity="0.25"/><circle cx="102.5" cy="718.7" r="14.4" fill="#5a0010" opacity="0.25"/><circle cx="117.0" cy="728.8" r="14.4" fill="#5a0010" opacity="0.25"/><ellipse cx="111.4" cy="670.6" rx="8.5" ry="8.5" fill="url(#gR)" opacity="1.00"/><ellipse cx="111.7" cy="670.4" rx="4.9" ry="4.9" fill="url(#gm)" opacity="0.90"/><ellipse cx="131.6" cy="669.4" rx="8.1" ry="8.1" fill="url(#gR)" opacity="1.00"/><ellipse cx="131.9" cy="669.2" rx="4.6" ry="4.6" fill="url(#gm)" opacity="0.90"/><ellipse cx="118.1" cy="678.4" rx="5.1" ry="5.1" fill="url(#gR)" opacity="1.00"/><ellipse cx="138.3" cy="679.5" rx="6.0" ry="6.0" fill="url(#gR)" opacity="1.00"/><ellipse cx="138.6" cy="679.3" rx="3.4" ry="3.4" fill="url(#gm)" opacity="0.90"/><ellipse cx="93.5" cy="691.8" rx="9.8" ry="9.8" fill="url(#gR)" opacity="1.00"/><ellipse cx="93.8" cy="691.6" rx="5.6" ry="5.6" fill="url(#gm)" opacity="0.90"/><ellipse cx="109.8" cy="695.2" rx="5.4" ry="10.7" fill="url(#gR)" opacity="1.00"/><ellipse cx="110.1" cy="695.0" rx="4.4" ry="5.5" fill="url(#gm)" opacity="0.90"/><ellipse cx="126.0" cy="689.6" rx="6.8" ry="6.8" fill="url(#gR)" opacity="1.00"/><ellipse cx="126.3" cy="689.4" rx="3.9" ry="3.9" fill="url(#gm)" opacity="0.90"/><ellipse cx="141.2" cy="691.8" rx="6.8" ry="6.8" fill="url(#gR)" opacity="1.00"/><ellipse cx="141.5" cy="691.6" rx="3.9" ry="3.9" fill="url(#gm)" opacity="0.90"/><ellipse cx="123.3" cy="698.5" rx="6.4" ry="6.4" fill="url(#gR)" opacity="1.00"/><ellipse cx="123.6" cy="698.3" rx="3.7" ry="3.7" fill="url(#gm)" opacity="0.90"/><ellipse cx="86.8" cy="708.6" rx="9.4" ry="9.4" fill="url(#gR)" opacity="1.00"/><ellipse cx="87.1" cy="708.4" rx="5.4" ry="5.4" fill="url(#gm)" opacity="0.90"/><ellipse cx="115.9" cy="710.8" rx="8.1" ry="8.1" fill="url(#gR)" opacity="1.00"/><ellipse cx="116.2" cy="710.6" rx="4.6" ry="4.6" fill="url(#gm)" opacity="0.90"/><ellipse cx="131.6" cy="706.4" rx="8.1" ry="8.1" fill="url(#gR)" opacity="1.00"/><ellipse cx="131.9" cy="706.2" rx="4.6" ry="4.6" fill="url(#gm)" opacity="0.90"/><ellipse cx="102.5" cy="718.7" rx="8.5" ry="8.5" fill="url(#gR)" opacity="1.00"/><ellipse cx="102.8" cy="718.5" rx="4.9" ry="4.9" fill="url(#gm)" opacity="0.90"/><ellipse cx="117.0" cy="728.8" rx="8.5" ry="8.5" fill="url(#gR)" opacity="1.00"/><ellipse cx="117.3" cy="728.6" rx="4.9" ry="4.9" fill="url(#gm)" opacity="0.90"/></g>
</g>
<clipPath id="cm6"><rect x="152.9" y="661.6" width="78.1" height="77.4"/></clipPath>
<g clip-path="url(#cm6)">
<rect x="152.90" y="661.60" width="78.10" height="77.40" fill="#1e0a34" />
<g filter="url(#cb130)"><circle cx="158.4" cy="680.6" r="13.7" fill="#681034" opacity="0.23"/><circle cx="165.1" cy="677.3" r="13.7" fill="#681034" opacity="0.23"/><circle cx="177.5" cy="678.4" r="13.7" fill="#681034" opacity="0.23"/><circle cx="190.9" cy="676.1" r="13.7" fill="#681034" opacity="0.23"/><circle cx="203.2" cy="676.1" r="13.7" fill="#681034" opacity="0.23"/><circle cx="220.0" cy="678.4" r="13.7" fill="#681034" opacity="0.23"/><circle cx="162.9" cy="691.8" r="13.7" fill="#681034" opacity="0.23"/><circle cx="169.6" cy="701.9" r="13.7" fill="#681034" opacity="0.23"/><circle cx="156.2" cy="697.4" r="13.7" fill="#681034" opacity="0.23"/><circle cx="189.8" cy="685.1" r="13.7" fill="#681034" opacity="0.23"/><circle cx="202.1" cy="695.2" r="13.7" fill="#681034" opacity="0.23"/><circle cx="215.5" cy="689.6" r="13.7" fill="#681034" opacity="0.23"/><circle cx="188.6" cy="699.7" r="13.7" fill="#681034" opacity="0.23"/><circle cx="204.3" cy="708.6" r="13.7" fill="#681034" opacity="0.23"/><circle cx="190.9" cy="724.3" r="13.7" fill="#681034" opacity="0.23"/><circle cx="222.2" cy="723.2" r="13.7" fill="#681034" opacity="0.23"/><circle cx="209.9" cy="735.5" r="13.7" fill="#681034" opacity="0.23"/><circle cx="156.2" cy="714.2" r="13.7" fill="#681034" opacity="0.23"/><circle cx="177.5" cy="689.6" r="13.7" fill="#681034" opacity="0.23"/><circle cx="226.7" cy="696.3" r="13.7" fill="#681034" opacity="0.23"/><ellipse cx="158.4" cy="680.6" rx="8.1" ry="8.1" fill="url(#gr)" opacity="0.95"/><ellipse cx="158.7" cy="680.4" rx="5.5" ry="5.5" fill="url(#gm)" opacity="0.95"/><ellipse cx="165.1" cy="677.3" rx="7.3" ry="7.3" fill="url(#gr)" opacity="0.90"/><ellipse cx="177.5" cy="678.4" rx="7.3" ry="7.3" fill="url(#gr)" opacity="0.95"/><ellipse cx="177.8" cy="678.2" rx="4.9" ry="4.9" fill="url(#gm)" opacity="0.95"/><ellipse cx="190.9" cy="676.1" rx="7.3" ry="7.3" fill="url(#gr)" opacity="0.90"/><ellipse cx="203.2" cy="676.1" rx="7.3" ry="7.3" fill="url(#gr)" opacity="0.90"/><ellipse cx="220.0" cy="678.4" rx="8.9" ry="8.9" fill="url(#gr)" opacity="0.95"/><ellipse cx="220.3" cy="678.2" rx="6.0" ry="6.0" fill="url(#gm)" opacity="0.95"/><ellipse cx="162.9" cy="691.8" rx="8.1" ry="8.1" fill="url(#gr)" opacity="0.90"/><ellipse cx="169.6" cy="701.9" rx="6.5" ry="6.5" fill="url(#gr)" opacity="0.90"/><ellipse cx="156.2" cy="697.4" rx="6.5" ry="6.5" fill="url(#gr)" opacity="0.95"/><ellipse cx="156.5" cy="697.2" rx="4.4" ry="4.4" fill="url(#gm)" opacity="0.95"/><ellipse cx="189.8" cy="685.1" rx="6.5" ry="6.5" fill="url(#gr)" opacity="0.90"/><ellipse cx="202.1" cy="695.2" rx="8.9" ry="8.9" fill="url(#gr)" opacity="0.90"/><ellipse cx="215.5" cy="689.6" rx="8.1" ry="8.1" fill="url(#gr)" opacity="0.95"/><ellipse cx="215.8" cy="689.4" rx="5.5" ry="5.5" fill="url(#gm)" opacity="0.95"/><ellipse cx="188.6" cy="699.7" rx="7.3" ry="7.3" fill="url(#gr)" opacity="0.90"/><ellipse cx="204.3" cy="708.6" rx="7.7" ry="7.7" fill="url(#gr)" opacity="0.95"/><ellipse cx="204.6" cy="708.4" rx="5.2" ry="5.2" fill="url(#gm)" opacity="0.95"/><ellipse cx="190.9" cy="724.3" rx="8.9" ry="8.9" fill="url(#gr)" opacity="0.95"/><ellipse cx="191.2" cy="724.1" rx="6.0" ry="6.0" fill="url(#gm)" opacity="0.95"/><ellipse cx="222.2" cy="723.2" rx="8.9" ry="8.9" fill="url(#gr)" opacity="0.95"/><ellipse cx="222.5" cy="723.0" rx="6.0" ry="6.0" fill="url(#gm)" opacity="0.95"/><ellipse cx="209.9" cy="735.5" rx="7.3" ry="7.3" fill="url(#gr)" opacity="0.95"/><ellipse cx="210.2" cy="735.3" rx="4.9" ry="4.9" fill="url(#gm)" opacity="0.95"/><ellipse cx="156.2" cy="714.2" rx="4.8" ry="4.8" fill="url(#gr)" opacity="0.90"/><ellipse cx="177.5" cy="689.6" rx="6.5" ry="6.5" fill="url(#gr)" opacity="0.90"/><ellipse cx="226.7" cy="696.3" rx="4.8" ry="4.8" fill="url(#gr)" opacity="0.90"/></g>
</g>
<clipPath id="cm7"><rect x="231.8" y="661.6" width="77.8" height="77.4"/></clipPath>
<g clip-path="url(#cm7)">
<rect x="231.80" y="661.60" width="77.80" height="77.40" fill="#100004" />
<g filter="url(#cb130)"><circle cx="249.3" cy="684.0" r="14.1" fill="#700018" opacity="0.30"/><circle cx="278.4" cy="680.6" r="14.1" fill="#700018" opacity="0.30"/><circle cx="299.6" cy="676.1" r="14.1" fill="#700018" opacity="0.30"/><circle cx="300.1" cy="688.5" r="14.1" fill="#700018" opacity="0.30"/><circle cx="247.0" cy="697.4" r="14.1" fill="#700018" opacity="0.30"/><circle cx="269.4" cy="695.2" r="14.1" fill="#700018" opacity="0.30"/><circle cx="240.3" cy="708.6" r="14.1" fill="#700018" opacity="0.30"/><circle cx="260.5" cy="710.8" r="14.1" fill="#700018" opacity="0.30"/><circle cx="279.5" cy="709.7" r="14.1" fill="#700018" opacity="0.30"/><circle cx="297.4" cy="710.8" r="14.1" fill="#700018" opacity="0.30"/><circle cx="239.2" cy="719.8" r="14.1" fill="#700018" opacity="0.30"/><circle cx="259.3" cy="723.2" r="14.1" fill="#700018" opacity="0.30"/><circle cx="270.5" cy="723.2" r="14.1" fill="#700018" opacity="0.30"/><circle cx="288.4" cy="723.2" r="14.1" fill="#700018" opacity="0.30"/><circle cx="247.0" cy="729.9" r="14.1" fill="#700018" opacity="0.30"/><circle cx="305.2" cy="720.9" r="14.1" fill="#700018" opacity="0.30"/><circle cx="278.4" cy="731.0" r="14.1" fill="#700018" opacity="0.30"/><circle cx="234.7" cy="735.5" r="14.1" fill="#700018" opacity="0.30"/><circle cx="306.4" cy="703.0" r="14.1" fill="#700018" opacity="0.30"/><circle cx="257.1" cy="698.5" r="14.1" fill="#700018" opacity="0.30"/><ellipse cx="249.3" cy="684.0" rx="8.3" ry="8.3" fill="url(#gR)" opacity="1.00"/><ellipse cx="249.6" cy="683.8" rx="4.8" ry="4.8" fill="url(#gm)" opacity="0.90"/><ellipse cx="278.4" cy="680.6" rx="8.7" ry="8.7" fill="url(#gR)" opacity="1.00"/><ellipse cx="278.7" cy="680.4" rx="5.0" ry="5.0" fill="url(#gm)" opacity="0.90"/><ellipse cx="299.6" cy="676.1" rx="8.3" ry="8.3" fill="url(#gR)" opacity="1.00"/><ellipse cx="299.9" cy="675.9" rx="4.8" ry="4.8" fill="url(#gm)" opacity="0.90"/><ellipse cx="300.1" cy="688.5" rx="6.6" ry="6.6" fill="url(#gR)" opacity="1.00"/><ellipse cx="247.0" cy="697.4" rx="9.1" ry="9.1" fill="url(#gR)" opacity="1.00"/><ellipse cx="269.4" cy="695.2" rx="8.3" ry="8.3" fill="url(#gR)" opacity="1.00"/><ellipse cx="240.3" cy="708.6" rx="7.5" ry="7.5" fill="url(#gR)" opacity="1.00"/><ellipse cx="260.5" cy="710.8" rx="8.3" ry="8.3" fill="url(#gR)" opacity="1.00"/><ellipse cx="279.5" cy="709.7" rx="9.1" ry="9.1" fill="url(#gR)" opacity="1.00"/><ellipse cx="279.8" cy="709.5" rx="5.2" ry="5.2" fill="url(#gm)" opacity="0.90"/><ellipse cx="297.4" cy="710.8" rx="6.6" ry="10.8" fill="url(#gR)" opacity="1.00"/><ellipse cx="239.2" cy="719.8" rx="8.3" ry="8.3" fill="url(#gR)" opacity="1.00"/><ellipse cx="239.5" cy="719.6" rx="4.8" ry="4.8" fill="url(#gm)" opacity="0.90"/><ellipse cx="259.3" cy="723.2" rx="7.5" ry="7.5" fill="url(#gR)" opacity="1.00"/><ellipse cx="270.5" cy="723.2" rx="7.5" ry="7.5" fill="url(#gR)" opacity="1.00"/><ellipse cx="288.4" cy="723.2" rx="9.1" ry="9.1" fill="url(#gR)" opacity="1.00"/><ellipse cx="288.7" cy="723.0" rx="5.2" ry="5.2" fill="url(#gm)" opacity="0.90"/><ellipse cx="247.0" cy="729.9" rx="8.3" ry="8.3" fill="url(#gR)" opacity="1.00"/><ellipse cx="247.3" cy="729.7" rx="4.8" ry="4.8" fill="url(#gm)" opacity="0.90"/><ellipse cx="305.2" cy="720.9" rx="7.5" ry="7.5" fill="url(#gR)" opacity="1.00"/><ellipse cx="278.4" cy="731.0" rx="8.3" ry="8.3" fill="url(#gR)" opacity="1.00"/><ellipse cx="234.7" cy="735.5" rx="5.8" ry="5.8" fill="url(#gR)" opacity="1.00"/><ellipse cx="306.4" cy="703.0" rx="5.8" ry="5.8" fill="url(#gR)" opacity="1.00"/><ellipse cx="257.1" cy="698.5" rx="6.6" ry="6.6" fill="url(#gR)" opacity="1.00"/></g>
</g>
<clipPath id="cm8"><rect x="311.0" y="661.6" width="78.5" height="77.4"/></clipPath>
<g clip-path="url(#cm8)">
<rect x="311.00" y="661.60" width="78.50" height="77.40" fill="#0c0010" />
<g filter="url(#cb100)"><circle cx="326.5" cy="667.2" r="10.6" fill="#300418" opacity="0.25"/><circle cx="332.8" cy="677.3" r="10.6" fill="#300418" opacity="0.25"/><circle cx="320.9" cy="684.0" r="10.6" fill="#300418" opacity="0.25"/><circle cx="379.1" cy="678.4" r="10.6" fill="#300418" opacity="0.25"/><circle cx="367.9" cy="685.1" r="10.6" fill="#300418" opacity="0.25"/><circle cx="342.2" cy="690.7" r="10.6" fill="#300418" opacity="0.25"/><circle cx="363.4" cy="695.2" r="10.6" fill="#300418" opacity="0.25"/><circle cx="318.7" cy="703.0" r="10.6" fill="#300418" opacity="0.25"/><circle cx="354.5" cy="704.1" r="10.6" fill="#300418" opacity="0.25"/><circle cx="372.4" cy="703.0" r="10.6" fill="#300418" opacity="0.25"/><circle cx="336.6" cy="708.6" r="10.6" fill="#300418" opacity="0.25"/><circle cx="323.1" cy="713.1" r="10.6" fill="#300418" opacity="0.25"/><circle cx="365.7" cy="712.0" r="10.6" fill="#300418" opacity="0.25"/><circle cx="382.5" cy="713.1" r="10.6" fill="#300418" opacity="0.25"/><circle cx="351.1" cy="715.3" r="10.6" fill="#300418" opacity="0.25"/><circle cx="360.1" cy="722.0" r="10.6" fill="#300418" opacity="0.25"/><circle cx="327.6" cy="731.0" r="10.6" fill="#300418" opacity="0.25"/><circle cx="343.3" cy="733.2" r="10.6" fill="#300418" opacity="0.25"/><circle cx="353.4" cy="682.9" r="10.6" fill="#300418" opacity="0.25"/><ellipse cx="326.5" cy="667.2" rx="6.3" ry="6.3" fill="url(#gp)" opacity="0.85"/><ellipse cx="326.8" cy="667.0" rx="3.9" ry="3.9" fill="url(#gb)" opacity="0.95"/><ellipse cx="332.8" cy="677.3" rx="6.3" ry="6.3" fill="url(#gr)" opacity="0.95"/><ellipse cx="333.1" cy="677.1" rx="4.3" ry="4.3" fill="url(#gb)" opacity="0.90"/><ellipse cx="320.9" cy="684.0" rx="3.8" ry="9.4" fill="url(#gr)" opacity="0.95"/><ellipse cx="321.2" cy="683.8" rx="4.3" ry="5.3" fill="url(#gm)" opacity="0.95"/><ellipse cx="379.1" cy="678.4" rx="6.9" ry="6.9" fill="url(#gr)" opacity="0.95"/><ellipse cx="379.4" cy="678.2" rx="4.7" ry="4.7" fill="url(#gm)" opacity="0.95"/><ellipse cx="367.9" cy="685.1" rx="6.9" ry="6.9" fill="url(#gr)" opacity="0.95"/><ellipse cx="368.2" cy="684.9" rx="4.7" ry="4.7" fill="url(#gm)" opacity="0.95"/><ellipse cx="342.2" cy="690.7" rx="6.9" ry="6.9" fill="url(#gr)" opacity="0.95"/><ellipse cx="342.5" cy="690.5" rx="4.7" ry="4.7" fill="url(#gm)" opacity="0.95"/><ellipse cx="363.4" cy="695.2" rx="6.3" ry="6.3" fill="url(#gr)" opacity="0.95"/><ellipse cx="363.7" cy="695.0" rx="4.3" ry="4.3" fill="url(#gb)" opacity="0.90"/><ellipse cx="318.7" cy="703.0" rx="6.3" ry="6.3" fill="url(#gr)" opacity="0.95"/><ellipse cx="319.0" cy="702.8" rx="4.3" ry="4.3" fill="url(#gb)" opacity="0.90"/><ellipse cx="354.5" cy="704.1" rx="6.3" ry="6.3" fill="url(#gr)" opacity="0.95"/><ellipse cx="354.8" cy="703.9" rx="4.3" ry="4.3" fill="url(#gb)" opacity="0.90"/><ellipse cx="372.4" cy="703.0" rx="6.3" ry="6.3" fill="url(#gr)" opacity="0.95"/><ellipse cx="372.7" cy="702.8" rx="4.3" ry="4.3" fill="url(#gb)" opacity="0.90"/><ellipse cx="336.6" cy="708.6" rx="5.6" ry="5.6" fill="url(#gp)" opacity="0.85"/><ellipse cx="336.9" cy="708.4" rx="3.5" ry="3.5" fill="url(#gb)" opacity="0.95"/><ellipse cx="323.1" cy="713.1" rx="6.3" ry="6.3" fill="url(#gr)" opacity="0.95"/><ellipse cx="323.4" cy="712.9" rx="4.3" ry="4.3" fill="url(#gm)" opacity="0.95"/><ellipse cx="365.7" cy="712.0" rx="5.0" ry="5.0" fill="url(#gr)" opacity="0.32"/><ellipse cx="366.0" cy="711.8" rx="4.1" ry="4.1" fill="url(#gb)" opacity="0.95"/><ellipse cx="382.5" cy="713.1" rx="6.3" ry="6.3" fill="url(#gr)" opacity="0.95"/><ellipse cx="382.8" cy="712.9" rx="4.3" ry="4.3" fill="url(#gm)" opacity="0.95"/><ellipse cx="351.1" cy="715.3" rx="6.3" ry="6.3" fill="url(#gr)" opacity="0.95"/><ellipse cx="351.4" cy="715.1" rx="4.3" ry="4.3" fill="url(#gm)" opacity="0.95"/><ellipse cx="360.1" cy="722.0" rx="6.3" ry="6.3" fill="url(#gr)" opacity="0.95"/><ellipse cx="360.4" cy="721.8" rx="4.3" ry="4.3" fill="url(#gm)" opacity="0.95"/><ellipse cx="327.6" cy="731.0" rx="5.6" ry="5.6" fill="url(#gR)" opacity="1.00"/><ellipse cx="343.3" cy="733.2" rx="5.6" ry="5.6" fill="url(#gR)" opacity="1.00"/><ellipse cx="353.4" cy="682.9" rx="8.2" ry="8.2" fill="url(#gp)" opacity="0.24"/></g>
</g>
<clipPath id="cz1"><rect x="413.6" y="583" width="77.3" height="76.8"/></clipPath>
<g clip-path="url(#cz1)">
<rect x="413.60" y="583.00" width="77.30" height="76.80" fill="#0b0018" />
<g filter="url(#cb60)"><circle cx="458.4" cy="588.1" r="6.3" fill="#5a0c48" opacity="0.35"/><circle cx="462.8" cy="588.5" r="6.3" fill="#5a0c48" opacity="0.35"/><circle cx="422.6" cy="602.6" r="6.3" fill="#5a0c48" opacity="0.35"/><circle cx="433.1" cy="600.4" r="6.3" fill="#5a0c48" opacity="0.35"/><circle cx="433.7" cy="607.1" r="6.3" fill="#5a0c48" opacity="0.35"/><circle cx="459.9" cy="600.4" r="6.3" fill="#5a0c48" opacity="0.35"/><circle cx="483.0" cy="604.9" r="6.3" fill="#5a0c48" opacity="0.35"/><circle cx="487.5" cy="603.7" r="6.3" fill="#5a0c48" opacity="0.35"/><circle cx="442.7" cy="614.9" r="6.3" fill="#5a0c48" opacity="0.35"/><circle cx="447.2" cy="617.2" r="6.3" fill="#5a0c48" opacity="0.35"/><circle cx="451.7" cy="616.1" r="6.3" fill="#5a0c48" opacity="0.35"/><circle cx="443.8" cy="619.4" r="6.3" fill="#5a0c48" opacity="0.35"/><circle cx="449.4" cy="620.5" r="6.3" fill="#5a0c48" opacity="0.35"/><circle cx="455.0" cy="622.8" r="6.3" fill="#5a0c48" opacity="0.35"/><circle cx="464.0" cy="618.3" r="6.3" fill="#5a0c48" opacity="0.35"/><circle cx="470.7" cy="613.8" r="6.3" fill="#5a0c48" opacity="0.35"/><circle cx="472.9" cy="619.4" r="6.3" fill="#5a0c48" opacity="0.35"/><circle cx="462.8" cy="622.8" r="6.3" fill="#5a0c48" opacity="0.35"/><circle cx="453.9" cy="631.7" r="6.3" fill="#5a0c48" opacity="0.35"/><circle cx="459.5" cy="630.6" r="6.3" fill="#5a0c48" opacity="0.35"/><circle cx="465.1" cy="631.7" r="6.3" fill="#5a0c48" opacity="0.35"/><circle cx="472.9" cy="632.8" r="6.3" fill="#5a0c48" opacity="0.35"/><circle cx="480.1" cy="629.9" r="6.3" fill="#5a0c48" opacity="0.35"/><circle cx="419.2" cy="634.0" r="6.3" fill="#5a0c48" opacity="0.35"/><circle cx="423.7" cy="637.3" r="6.3" fill="#5a0c48" opacity="0.35"/><circle cx="467.3" cy="640.2" r="6.3" fill="#5a0c48" opacity="0.35"/><circle cx="471.8" cy="639.6" r="6.3" fill="#5a0c48" opacity="0.35"/><circle cx="465.8" cy="647.4" r="6.3" fill="#5a0c48" opacity="0.35"/><circle cx="470.2" cy="649.6" r="6.3" fill="#5a0c48" opacity="0.35"/><ellipse cx="458.4" cy="588.1" rx="3.7" ry="3.7" fill="url(#gk)" opacity="1.00"/><ellipse cx="458.7" cy="587.9" rx="2.1" ry="2.1" fill="url(#gkc)" opacity="0.85"/><ellipse cx="462.8" cy="588.5" rx="3.7" ry="3.7" fill="url(#gk)" opacity="1.00"/><ellipse cx="463.1" cy="588.3" rx="2.1" ry="2.1" fill="url(#gkc)" opacity="0.85"/><ellipse cx="422.6" cy="602.6" rx="3.7" ry="3.7" fill="url(#gk)" opacity="1.00"/><ellipse cx="422.9" cy="602.4" rx="2.1" ry="2.1" fill="url(#gkc)" opacity="0.85"/><ellipse cx="433.1" cy="600.4" rx="3.7" ry="3.7" fill="url(#gk)" opacity="1.00"/><ellipse cx="433.4" cy="600.2" rx="2.1" ry="2.1" fill="url(#gkc)" opacity="0.85"/><ellipse cx="433.7" cy="607.1" rx="3.7" ry="3.7" fill="url(#gk)" opacity="1.00"/><ellipse cx="434.0" cy="606.9" rx="2.1" ry="2.1" fill="url(#gkc)" opacity="0.85"/><ellipse cx="459.9" cy="600.4" rx="3.7" ry="3.7" fill="url(#gk)" opacity="1.00"/><ellipse cx="460.2" cy="600.2" rx="2.1" ry="2.1" fill="url(#gkc)" opacity="0.85"/><ellipse cx="483.0" cy="604.9" rx="3.7" ry="3.7" fill="url(#gk)" opacity="1.00"/><ellipse cx="483.3" cy="604.7" rx="2.1" ry="2.1" fill="url(#gkc)" opacity="0.85"/><ellipse cx="487.5" cy="603.7" rx="3.7" ry="3.7" fill="url(#gk)" opacity="1.00"/><ellipse cx="487.8" cy="603.5" rx="2.1" ry="2.1" fill="url(#gkc)" opacity="0.85"/><ellipse cx="442.7" cy="614.9" rx="3.7" ry="3.7" fill="url(#gk)" opacity="1.00"/><ellipse cx="443.0" cy="614.7" rx="2.1" ry="2.1" fill="url(#gkc)" opacity="0.85"/><ellipse cx="447.2" cy="617.2" rx="3.7" ry="3.7" fill="url(#gk)" opacity="1.00"/><ellipse cx="447.5" cy="617.0" rx="2.1" ry="2.1" fill="url(#gkc)" opacity="0.85"/><ellipse cx="451.7" cy="616.1" rx="3.7" ry="3.7" fill="url(#gk)" opacity="1.00"/><ellipse cx="452.0" cy="615.9" rx="2.1" ry="2.1" fill="url(#gkc)" opacity="0.85"/><ellipse cx="443.8" cy="619.4" rx="3.7" ry="3.7" fill="url(#gk)" opacity="1.00"/><ellipse cx="444.1" cy="619.2" rx="2.1" ry="2.1" fill="url(#gkc)" opacity="0.85"/><ellipse cx="449.4" cy="620.5" rx="3.7" ry="3.7" fill="url(#gk)" opacity="1.00"/><ellipse cx="449.7" cy="620.3" rx="2.1" ry="2.1" fill="url(#gkc)" opacity="0.85"/><ellipse cx="455.0" cy="622.8" rx="3.7" ry="3.7" fill="url(#gk)" opacity="1.00"/><ellipse cx="455.3" cy="622.6" rx="2.1" ry="2.1" fill="url(#gkc)" opacity="0.85"/><ellipse cx="464.0" cy="618.3" rx="3.7" ry="3.7" fill="url(#gk)" opacity="1.00"/><ellipse cx="464.3" cy="618.1" rx="2.1" ry="2.1" fill="url(#gkc)" opacity="0.85"/><ellipse cx="470.7" cy="613.8" rx="3.7" ry="3.7" fill="url(#gk)" opacity="1.00"/><ellipse cx="471.0" cy="613.6" rx="2.1" ry="2.1" fill="url(#gkc)" opacity="0.85"/><ellipse cx="472.9" cy="619.4" rx="3.7" ry="3.7" fill="url(#gk)" opacity="1.00"/><ellipse cx="473.2" cy="619.2" rx="2.1" ry="2.1" fill="url(#gkc)" opacity="0.85"/><ellipse cx="462.8" cy="622.8" rx="3.7" ry="3.7" fill="url(#gk)" opacity="1.00"/><ellipse cx="463.1" cy="622.6" rx="2.1" ry="2.1" fill="url(#gkc)" opacity="0.85"/><ellipse cx="453.9" cy="631.7" rx="3.7" ry="3.7" fill="url(#gk)" opacity="1.00"/><ellipse cx="454.2" cy="631.5" rx="2.1" ry="2.1" fill="url(#gkc)" opacity="0.85"/><ellipse cx="459.5" cy="630.6" rx="3.7" ry="3.7" fill="url(#gk)" opacity="1.00"/><ellipse cx="459.8" cy="630.4" rx="2.1" ry="2.1" fill="url(#gkc)" opacity="0.85"/><ellipse cx="465.1" cy="631.7" rx="3.7" ry="3.7" fill="url(#gk)" opacity="1.00"/><ellipse cx="465.4" cy="631.5" rx="2.1" ry="2.1" fill="url(#gkc)" opacity="0.85"/><ellipse cx="472.9" cy="632.8" rx="3.7" ry="3.7" fill="url(#gk)" opacity="1.00"/><ellipse cx="473.2" cy="632.6" rx="2.1" ry="2.1" fill="url(#gkc)" opacity="0.85"/><ellipse cx="480.1" cy="629.9" rx="3.7" ry="3.7" fill="url(#gk)" opacity="1.00"/><ellipse cx="480.4" cy="629.7" rx="2.1" ry="2.1" fill="url(#gkc)" opacity="0.85"/><ellipse cx="419.2" cy="634.0" rx="3.7" ry="3.7" fill="url(#gk)" opacity="1.00"/><ellipse cx="419.5" cy="633.8" rx="2.1" ry="2.1" fill="url(#gkc)" opacity="0.85"/><ellipse cx="423.7" cy="637.3" rx="3.7" ry="3.7" fill="url(#gk)" opacity="1.00"/><ellipse cx="424.0" cy="637.1" rx="2.1" ry="2.1" fill="url(#gkc)" opacity="0.85"/><ellipse cx="467.3" cy="640.2" rx="3.7" ry="3.7" fill="url(#gk)" opacity="1.00"/><ellipse cx="467.6" cy="640.0" rx="2.1" ry="2.1" fill="url(#gkc)" opacity="0.85"/><ellipse cx="471.8" cy="639.6" rx="3.7" ry="3.7" fill="url(#gk)" opacity="1.00"/><ellipse cx="472.1" cy="639.4" rx="2.1" ry="2.1" fill="url(#gkc)" opacity="0.85"/><ellipse cx="465.8" cy="647.4" rx="3.7" ry="3.7" fill="url(#gk)" opacity="1.00"/><ellipse cx="466.1" cy="647.2" rx="2.1" ry="2.1" fill="url(#gkc)" opacity="0.85"/><ellipse cx="470.2" cy="649.6" rx="3.7" ry="3.7" fill="url(#gk)" opacity="1.00"/><ellipse cx="470.5" cy="649.4" rx="2.1" ry="2.1" fill="url(#gkc)" opacity="0.85"/></g>
</g>
<clipPath id="cz2"><rect x="492.4" y="583" width="78.0" height="76.8"/></clipPath>
<g clip-path="url(#cz2)">
<rect x="492.40" y="583.00" width="78.00" height="76.80" fill="#0b0018" />
<g filter="url(#cb60)"><circle cx="494.2" cy="587.0" r="6.1" fill="#5a0c48" opacity="0.35"/><circle cx="502.0" cy="593.2" r="6.1" fill="#5a0c48" opacity="0.35"/><circle cx="530.7" cy="591.4" r="6.1" fill="#5a0c48" opacity="0.35"/><circle cx="536.1" cy="587.4" r="6.1" fill="#5a0c48" opacity="0.35"/><circle cx="541.9" cy="586.5" r="6.1" fill="#5a0c48" opacity="0.35"/><circle cx="551.3" cy="592.6" r="6.1" fill="#5a0c48" opacity="0.35"/><circle cx="554.6" cy="600.4" r="6.1" fill="#5a0c48" opacity="0.35"/><circle cx="532.2" cy="602.2" r="6.1" fill="#5a0c48" opacity="0.35"/><circle cx="514.3" cy="609.3" r="6.1" fill="#5a0c48" opacity="0.35"/><circle cx="520.6" cy="612.7" r="6.1" fill="#5a0c48" opacity="0.35"/><circle cx="526.6" cy="612.7" r="6.1" fill="#5a0c48" opacity="0.35"/><circle cx="541.2" cy="620.1" r="6.1" fill="#5a0c48" opacity="0.35"/><circle cx="546.8" cy="621.7" r="6.1" fill="#5a0c48" opacity="0.35"/><circle cx="550.2" cy="631.7" r="6.1" fill="#5a0c48" opacity="0.35"/><circle cx="553.5" cy="636.7" r="6.1" fill="#5a0c48" opacity="0.35"/><circle cx="554.6" cy="641.8" r="6.1" fill="#5a0c48" opacity="0.35"/><circle cx="562.5" cy="638.9" r="6.1" fill="#5a0c48" opacity="0.35"/><circle cx="501.6" cy="635.8" r="6.1" fill="#5a0c48" opacity="0.35"/><circle cx="509.9" cy="631.7" r="6.1" fill="#5a0c48" opacity="0.35"/><circle cx="513.7" cy="636.7" r="6.1" fill="#5a0c48" opacity="0.35"/><circle cx="536.7" cy="644.0" r="6.1" fill="#5a0c48" opacity="0.35"/><circle cx="542.3" cy="646.3" r="6.1" fill="#5a0c48" opacity="0.35"/><circle cx="539.0" cy="649.6" r="6.1" fill="#5a0c48" opacity="0.35"/><circle cx="515.5" cy="645.2" r="6.1" fill="#5a0c48" opacity="0.35"/><circle cx="500.2" cy="650.8" r="6.1" fill="#5a0c48" opacity="0.35"/><circle cx="500.2" cy="654.1" r="6.1" fill="#5a0c48" opacity="0.35"/><circle cx="554.6" cy="657.5" r="6.1" fill="#5a0c48" opacity="0.35"/><ellipse cx="494.2" cy="587.0" rx="3.6" ry="3.6" fill="url(#gv)" opacity="0.95"/><ellipse cx="494.5" cy="586.8" rx="1.8" ry="1.8" fill="url(#gvc)" opacity="0.80"/><ellipse cx="502.0" cy="593.2" rx="3.6" ry="3.6" fill="url(#gv)" opacity="0.95"/><ellipse cx="502.3" cy="593.0" rx="1.8" ry="1.8" fill="url(#gvc)" opacity="0.80"/><ellipse cx="530.7" cy="591.4" rx="3.6" ry="3.6" fill="url(#gv)" opacity="0.95"/><ellipse cx="531.0" cy="591.2" rx="1.8" ry="1.8" fill="url(#gvc)" opacity="0.80"/><ellipse cx="536.1" cy="587.4" rx="3.6" ry="3.6" fill="url(#gv)" opacity="0.95"/><ellipse cx="536.4" cy="587.2" rx="1.8" ry="1.8" fill="url(#gvc)" opacity="0.80"/><ellipse cx="541.9" cy="586.5" rx="3.6" ry="3.6" fill="url(#gv)" opacity="0.95"/><ellipse cx="542.2" cy="586.3" rx="1.8" ry="1.8" fill="url(#gvc)" opacity="0.80"/><ellipse cx="551.3" cy="592.6" rx="3.6" ry="3.6" fill="url(#gv)" opacity="0.95"/><ellipse cx="551.6" cy="592.4" rx="1.8" ry="1.8" fill="url(#gvc)" opacity="0.80"/><ellipse cx="554.6" cy="600.4" rx="3.6" ry="3.6" fill="url(#gv)" opacity="0.95"/><ellipse cx="554.9" cy="600.2" rx="1.8" ry="1.8" fill="url(#gvc)" opacity="0.80"/><ellipse cx="532.2" cy="602.2" rx="3.6" ry="3.6" fill="url(#gv)" opacity="0.95"/><ellipse cx="532.5" cy="602.0" rx="1.8" ry="1.8" fill="url(#gvc)" opacity="0.80"/><ellipse cx="514.3" cy="609.3" rx="3.6" ry="3.6" fill="url(#gv)" opacity="0.95"/><ellipse cx="514.6" cy="609.1" rx="1.8" ry="1.8" fill="url(#gvc)" opacity="0.80"/><ellipse cx="520.6" cy="612.7" rx="3.6" ry="3.6" fill="url(#gv)" opacity="0.95"/><ellipse cx="520.9" cy="612.5" rx="1.8" ry="1.8" fill="url(#gvc)" opacity="0.80"/><ellipse cx="526.6" cy="612.7" rx="3.6" ry="3.6" fill="url(#gv)" opacity="0.95"/><ellipse cx="526.9" cy="612.5" rx="1.8" ry="1.8" fill="url(#gvc)" opacity="0.80"/><ellipse cx="541.2" cy="620.1" rx="3.6" ry="3.6" fill="url(#gv)" opacity="0.95"/><ellipse cx="541.5" cy="619.9" rx="1.8" ry="1.8" fill="url(#gvc)" opacity="0.80"/><ellipse cx="546.8" cy="621.7" rx="3.6" ry="3.6" fill="url(#gv)" opacity="0.95"/><ellipse cx="547.1" cy="621.5" rx="1.8" ry="1.8" fill="url(#gvc)" opacity="0.80"/><ellipse cx="550.2" cy="631.7" rx="3.6" ry="3.6" fill="url(#gv)" opacity="0.95"/><ellipse cx="550.5" cy="631.5" rx="1.8" ry="1.8" fill="url(#gvc)" opacity="0.80"/><ellipse cx="553.5" cy="636.7" rx="3.6" ry="3.6" fill="url(#gv)" opacity="0.95"/><ellipse cx="553.8" cy="636.5" rx="1.8" ry="1.8" fill="url(#gvc)" opacity="0.80"/><ellipse cx="554.6" cy="641.8" rx="3.6" ry="3.6" fill="url(#gv)" opacity="0.95"/><ellipse cx="554.9" cy="641.6" rx="1.8" ry="1.8" fill="url(#gvc)" opacity="0.80"/><ellipse cx="562.5" cy="638.9" rx="3.6" ry="3.6" fill="url(#gv)" opacity="0.95"/><ellipse cx="562.8" cy="638.7" rx="1.8" ry="1.8" fill="url(#gvc)" opacity="0.80"/><ellipse cx="501.6" cy="635.8" rx="3.6" ry="3.6" fill="url(#gv)" opacity="0.95"/><ellipse cx="501.9" cy="635.6" rx="1.8" ry="1.8" fill="url(#gvc)" opacity="0.80"/><ellipse cx="509.9" cy="631.7" rx="3.6" ry="3.6" fill="url(#gv)" opacity="0.95"/><ellipse cx="510.2" cy="631.5" rx="1.8" ry="1.8" fill="url(#gvc)" opacity="0.80"/><ellipse cx="513.7" cy="636.7" rx="3.6" ry="3.6" fill="url(#gv)" opacity="0.95"/><ellipse cx="514.0" cy="636.5" rx="1.8" ry="1.8" fill="url(#gvc)" opacity="0.80"/><ellipse cx="536.7" cy="644.0" rx="3.6" ry="3.6" fill="url(#gv)" opacity="0.95"/><ellipse cx="537.0" cy="643.8" rx="1.8" ry="1.8" fill="url(#gvc)" opacity="0.80"/><ellipse cx="542.3" cy="646.3" rx="3.6" ry="3.6" fill="url(#gv)" opacity="0.95"/><ellipse cx="542.6" cy="646.1" rx="1.8" ry="1.8" fill="url(#gvc)" opacity="0.80"/><ellipse cx="539.0" cy="649.6" rx="3.6" ry="3.6" fill="url(#gv)" opacity="0.95"/><ellipse cx="539.3" cy="649.4" rx="1.8" ry="1.8" fill="url(#gvc)" opacity="0.80"/><ellipse cx="515.5" cy="645.2" rx="3.6" ry="3.6" fill="url(#gv)" opacity="0.95"/><ellipse cx="515.8" cy="645.0" rx="1.8" ry="1.8" fill="url(#gvc)" opacity="0.80"/><ellipse cx="500.2" cy="650.8" rx="3.6" ry="3.6" fill="url(#gv)" opacity="0.95"/><ellipse cx="500.5" cy="650.6" rx="1.8" ry="1.8" fill="url(#gvc)" opacity="0.80"/><ellipse cx="500.2" cy="654.1" rx="3.6" ry="3.6" fill="url(#gv)" opacity="0.95"/><ellipse cx="500.5" cy="653.9" rx="1.8" ry="1.8" fill="url(#gvc)" opacity="0.80"/><ellipse cx="554.6" cy="657.5" rx="3.6" ry="3.6" fill="url(#gv)" opacity="0.95"/><ellipse cx="554.9" cy="657.3" rx="1.8" ry="1.8" fill="url(#gvc)" opacity="0.80"/></g>
</g>
<clipPath id="cz3"><rect x="571.6" y="583" width="77.5" height="76.8"/></clipPath>
<g clip-path="url(#cz3)">
<rect x="571.60" y="583.00" width="77.50" height="76.80" fill="#0a0012" />
<g filter="url(#cb60)"><circle cx="610.5" cy="587.4" r="6.3" fill="#5a0c48" opacity="0.35"/><circle cx="604.9" cy="594.1" r="6.3" fill="#5a0c48" opacity="0.35"/><circle cx="609.4" cy="597.0" r="6.3" fill="#5a0c48" opacity="0.35"/><circle cx="617.7" cy="595.9" r="6.3" fill="#5a0c48" opacity="0.35"/><circle cx="621.3" cy="601.5" r="6.3" fill="#5a0c48" opacity="0.35"/><circle cx="615.0" cy="606.0" r="6.3" fill="#5a0c48" opacity="0.35"/><circle cx="645.2" cy="598.1" r="6.3" fill="#5a0c48" opacity="0.35"/><circle cx="578.1" cy="607.1" r="6.3" fill="#5a0c48" opacity="0.35"/><circle cx="582.6" cy="612.7" r="6.3" fill="#5a0c48" opacity="0.35"/><circle cx="579.2" cy="616.1" r="6.3" fill="#5a0c48" opacity="0.35"/><circle cx="587.7" cy="617.2" r="6.3" fill="#5a0c48" opacity="0.35"/><circle cx="593.1" cy="607.1" r="6.3" fill="#5a0c48" opacity="0.35"/><circle cx="597.1" cy="606.0" r="6.3" fill="#5a0c48" opacity="0.35"/><circle cx="608.3" cy="613.8" r="6.3" fill="#5a0c48" opacity="0.35"/><circle cx="626.2" cy="612.7" r="6.3" fill="#5a0c48" opacity="0.35"/><circle cx="643.0" cy="610.5" r="6.3" fill="#5a0c48" opacity="0.35"/><circle cx="646.4" cy="612.7" r="6.3" fill="#5a0c48" opacity="0.35"/><circle cx="617.3" cy="617.8" r="6.3" fill="#5a0c48" opacity="0.35"/><circle cx="627.3" cy="619.4" r="6.3" fill="#5a0c48" opacity="0.35"/><circle cx="613.9" cy="623.9" r="6.3" fill="#5a0c48" opacity="0.35"/><circle cx="630.7" cy="625.0" r="6.3" fill="#5a0c48" opacity="0.35"/><circle cx="640.8" cy="625.0" r="6.3" fill="#5a0c48" opacity="0.35"/><circle cx="645.2" cy="629.0" r="6.3" fill="#5a0c48" opacity="0.35"/><circle cx="627.3" cy="630.6" r="6.3" fill="#5a0c48" opacity="0.35"/><circle cx="628.0" cy="636.7" r="6.3" fill="#5a0c48" opacity="0.35"/><circle cx="616.1" cy="636.7" r="6.3" fill="#5a0c48" opacity="0.35"/><circle cx="583.7" cy="637.3" r="6.3" fill="#5a0c48" opacity="0.35"/><circle cx="610.5" cy="650.8" r="6.3" fill="#5a0c48" opacity="0.35"/><circle cx="617.3" cy="649.6" r="6.3" fill="#5a0c48" opacity="0.35"/><circle cx="640.1" cy="654.1" r="6.3" fill="#5a0c48" opacity="0.35"/><circle cx="577.0" cy="649.6" r="6.3" fill="#5a0c48" opacity="0.35"/><circle cx="572.5" cy="628.4" r="6.3" fill="#5a0c48" opacity="0.35"/><circle cx="637.4" cy="657.5" r="6.3" fill="#5a0c48" opacity="0.35"/><circle cx="610.1" cy="657.5" r="6.3" fill="#5a0c48" opacity="0.35"/><ellipse cx="610.5" cy="587.4" rx="3.7" ry="3.7" fill="url(#gv2)" opacity="0.95"/><ellipse cx="610.8" cy="587.2" rx="1.9" ry="1.9" fill="url(#gvc)" opacity="0.60"/><ellipse cx="604.9" cy="594.1" rx="3.7" ry="3.7" fill="url(#gv2)" opacity="0.95"/><ellipse cx="605.2" cy="593.9" rx="1.9" ry="1.9" fill="url(#gvc)" opacity="0.60"/><ellipse cx="609.4" cy="597.0" rx="3.7" ry="3.7" fill="url(#gv2)" opacity="0.95"/><ellipse cx="609.7" cy="596.8" rx="1.9" ry="1.9" fill="url(#gvc)" opacity="0.60"/><ellipse cx="617.7" cy="595.9" rx="3.7" ry="3.7" fill="url(#gv2)" opacity="0.95"/><ellipse cx="618.0" cy="595.7" rx="1.9" ry="1.9" fill="url(#gvc)" opacity="0.60"/><ellipse cx="621.3" cy="601.5" rx="3.7" ry="3.7" fill="url(#gv2)" opacity="0.95"/><ellipse cx="621.6" cy="601.3" rx="1.9" ry="1.9" fill="url(#gvc)" opacity="0.60"/><ellipse cx="615.0" cy="606.0" rx="3.7" ry="3.7" fill="url(#gv2)" opacity="0.95"/><ellipse cx="615.3" cy="605.8" rx="1.9" ry="1.9" fill="url(#gvc)" opacity="0.60"/><ellipse cx="645.2" cy="598.1" rx="3.7" ry="3.7" fill="url(#gv2)" opacity="0.95"/><ellipse cx="645.5" cy="597.9" rx="1.9" ry="1.9" fill="url(#gvc)" opacity="0.60"/><ellipse cx="578.1" cy="607.1" rx="3.7" ry="3.7" fill="url(#gv2)" opacity="0.95"/><ellipse cx="578.4" cy="606.9" rx="1.9" ry="1.9" fill="url(#gvc)" opacity="0.60"/><ellipse cx="582.6" cy="612.7" rx="3.7" ry="3.7" fill="url(#gv2)" opacity="0.95"/><ellipse cx="582.9" cy="612.5" rx="1.9" ry="1.9" fill="url(#gvc)" opacity="0.60"/><ellipse cx="579.2" cy="616.1" rx="3.7" ry="3.7" fill="url(#gv2)" opacity="0.95"/><ellipse cx="579.5" cy="615.9" rx="1.9" ry="1.9" fill="url(#gvc)" opacity="0.60"/><ellipse cx="587.7" cy="617.2" rx="3.7" ry="3.7" fill="url(#gv2)" opacity="0.95"/><ellipse cx="588.0" cy="617.0" rx="1.9" ry="1.9" fill="url(#gvc)" opacity="0.60"/><ellipse cx="593.1" cy="607.1" rx="3.7" ry="3.7" fill="url(#gv2)" opacity="0.95"/><ellipse cx="593.4" cy="606.9" rx="1.9" ry="1.9" fill="url(#gvc)" opacity="0.60"/><ellipse cx="597.1" cy="606.0" rx="3.7" ry="3.7" fill="url(#gv2)" opacity="0.95"/><ellipse cx="597.4" cy="605.8" rx="1.9" ry="1.9" fill="url(#gvc)" opacity="0.60"/><ellipse cx="608.3" cy="613.8" rx="3.7" ry="3.7" fill="url(#gv2)" opacity="0.95"/><ellipse cx="608.6" cy="613.6" rx="1.9" ry="1.9" fill="url(#gvc)" opacity="0.60"/><ellipse cx="626.2" cy="612.7" rx="3.7" ry="3.7" fill="url(#gv2)" opacity="0.95"/><ellipse cx="626.5" cy="612.5" rx="1.9" ry="1.9" fill="url(#gvc)" opacity="0.60"/><ellipse cx="643.0" cy="610.5" rx="3.7" ry="3.7" fill="url(#gv2)" opacity="0.95"/><ellipse cx="643.3" cy="610.3" rx="1.9" ry="1.9" fill="url(#gvc)" opacity="0.60"/><ellipse cx="646.4" cy="612.7" rx="3.7" ry="3.7" fill="url(#gv2)" opacity="0.95"/><ellipse cx="646.7" cy="612.5" rx="1.9" ry="1.9" fill="url(#gvc)" opacity="0.60"/><ellipse cx="617.3" cy="617.8" rx="3.7" ry="3.7" fill="url(#gv2)" opacity="0.95"/><ellipse cx="617.6" cy="617.6" rx="1.9" ry="1.9" fill="url(#gvc)" opacity="0.60"/><ellipse cx="627.3" cy="619.4" rx="3.7" ry="3.7" fill="url(#gv2)" opacity="0.95"/><ellipse cx="627.6" cy="619.2" rx="1.9" ry="1.9" fill="url(#gvc)" opacity="0.60"/><ellipse cx="613.9" cy="623.9" rx="3.7" ry="3.7" fill="url(#gv2)" opacity="0.95"/><ellipse cx="614.2" cy="623.7" rx="1.9" ry="1.9" fill="url(#gvc)" opacity="0.60"/><ellipse cx="630.7" cy="625.0" rx="3.7" ry="3.7" fill="url(#gv2)" opacity="0.95"/><ellipse cx="631.0" cy="624.8" rx="1.9" ry="1.9" fill="url(#gvc)" opacity="0.60"/><ellipse cx="640.8" cy="625.0" rx="3.7" ry="3.7" fill="url(#gv2)" opacity="0.95"/><ellipse cx="641.1" cy="624.8" rx="1.9" ry="1.9" fill="url(#gvc)" opacity="0.60"/><ellipse cx="645.2" cy="629.0" rx="3.7" ry="3.7" fill="url(#gv2)" opacity="0.95"/><ellipse cx="645.5" cy="628.8" rx="1.9" ry="1.9" fill="url(#gvc)" opacity="0.60"/><ellipse cx="627.3" cy="630.6" rx="3.7" ry="3.7" fill="url(#gv2)" opacity="0.95"/><ellipse cx="627.6" cy="630.4" rx="1.9" ry="1.9" fill="url(#gvc)" opacity="0.60"/><ellipse cx="628.0" cy="636.7" rx="3.7" ry="3.7" fill="url(#gv2)" opacity="0.95"/><ellipse cx="628.3" cy="636.5" rx="1.9" ry="1.9" fill="url(#gvc)" opacity="0.60"/><ellipse cx="616.1" cy="636.7" rx="3.7" ry="3.7" fill="url(#gv2)" opacity="0.95"/><ellipse cx="616.4" cy="636.5" rx="1.9" ry="1.9" fill="url(#gvc)" opacity="0.60"/><ellipse cx="583.7" cy="637.3" rx="3.7" ry="3.7" fill="url(#gv2)" opacity="0.95"/><ellipse cx="584.0" cy="637.1" rx="1.9" ry="1.9" fill="url(#gvc)" opacity="0.60"/><ellipse cx="610.5" cy="650.8" rx="3.7" ry="3.7" fill="url(#gv2)" opacity="0.95"/><ellipse cx="610.8" cy="650.6" rx="1.9" ry="1.9" fill="url(#gvc)" opacity="0.60"/><ellipse cx="617.3" cy="649.6" rx="3.7" ry="3.7" fill="url(#gv2)" opacity="0.95"/><ellipse cx="617.6" cy="649.4" rx="1.9" ry="1.9" fill="url(#gvc)" opacity="0.60"/><ellipse cx="640.1" cy="654.1" rx="3.7" ry="3.7" fill="url(#gv2)" opacity="0.95"/><ellipse cx="640.4" cy="653.9" rx="1.9" ry="1.9" fill="url(#gvc)" opacity="0.60"/><ellipse cx="577.0" cy="649.6" rx="3.7" ry="3.7" fill="url(#gv2)" opacity="0.95"/><ellipse cx="577.3" cy="649.4" rx="1.9" ry="1.9" fill="url(#gvc)" opacity="0.60"/><ellipse cx="572.5" cy="628.4" rx="3.7" ry="3.7" fill="url(#gv2)" opacity="0.95"/><ellipse cx="572.8" cy="628.2" rx="1.9" ry="1.9" fill="url(#gvc)" opacity="0.60"/><ellipse cx="637.4" cy="657.5" rx="3.7" ry="3.7" fill="url(#gv2)" opacity="0.95"/><ellipse cx="637.7" cy="657.3" rx="1.9" ry="1.9" fill="url(#gvc)" opacity="0.60"/><ellipse cx="610.1" cy="657.5" rx="3.7" ry="3.7" fill="url(#gv2)" opacity="0.95"/><ellipse cx="610.4" cy="657.3" rx="1.9" ry="1.9" fill="url(#gvc)" opacity="0.60"/></g>
</g>
<clipPath id="cz4"><rect x="650.9" y="583" width="78.2" height="76.8"/></clipPath>
<g clip-path="url(#cz4)">
<rect x="650.90" y="583.00" width="78.20" height="76.80" fill="#070014" />
<g filter="url(#cb60)"><circle cx="658.7" cy="588.1" r="6.5" fill="#5a0c48" opacity="0.35"/><circle cx="654.2" cy="597.0" r="6.5" fill="#5a0c48" opacity="0.35"/><circle cx="655.3" cy="600.4" r="6.5" fill="#5a0c48" opacity="0.35"/><circle cx="675.5" cy="594.8" r="6.5" fill="#5a0c48" opacity="0.35"/><circle cx="669.9" cy="602.6" r="6.5" fill="#5a0c48" opacity="0.35"/><circle cx="674.3" cy="601.5" r="6.5" fill="#5a0c48" opacity="0.35"/><circle cx="685.5" cy="607.1" r="6.5" fill="#5a0c48" opacity="0.35"/><circle cx="681.1" cy="610.5" r="6.5" fill="#5a0c48" opacity="0.35"/><circle cx="676.6" cy="613.8" r="6.5" fill="#5a0c48" opacity="0.35"/><circle cx="669.9" cy="613.8" r="6.5" fill="#5a0c48" opacity="0.35"/><circle cx="659.8" cy="613.8" r="6.5" fill="#5a0c48" opacity="0.35"/><circle cx="653.1" cy="611.6" r="6.5" fill="#5a0c48" opacity="0.35"/><circle cx="658.7" cy="618.3" r="6.5" fill="#5a0c48" opacity="0.35"/><circle cx="672.1" cy="619.4" r="6.5" fill="#5a0c48" opacity="0.35"/><circle cx="659.8" cy="625.0" r="6.5" fill="#5a0c48" opacity="0.35"/><circle cx="666.5" cy="628.4" r="6.5" fill="#5a0c48" opacity="0.35"/><circle cx="672.1" cy="628.4" r="6.5" fill="#5a0c48" opacity="0.35"/><circle cx="679.9" cy="630.6" r="6.5" fill="#5a0c48" opacity="0.35"/><circle cx="684.4" cy="630.6" r="6.5" fill="#5a0c48" opacity="0.35"/><circle cx="664.3" cy="632.8" r="6.5" fill="#5a0c48" opacity="0.35"/><circle cx="669.9" cy="635.8" r="6.5" fill="#5a0c48" opacity="0.35"/><circle cx="675.5" cy="636.7" r="6.5" fill="#5a0c48" opacity="0.35"/><circle cx="686.6" cy="636.2" r="6.5" fill="#5a0c48" opacity="0.35"/><circle cx="683.3" cy="643.4" r="6.5" fill="#5a0c48" opacity="0.35"/><circle cx="695.6" cy="613.8" r="6.5" fill="#5a0c48" opacity="0.35"/><circle cx="706.8" cy="611.6" r="6.5" fill="#5a0c48" opacity="0.35"/><circle cx="702.3" cy="604.9" r="6.5" fill="#5a0c48" opacity="0.35"/><circle cx="703.4" cy="598.1" r="6.5" fill="#5a0c48" opacity="0.35"/><circle cx="712.4" cy="598.1" r="6.5" fill="#5a0c48" opacity="0.35"/><circle cx="714.6" cy="584.7" r="6.5" fill="#5a0c48" opacity="0.35"/><circle cx="718.0" cy="632.8" r="6.5" fill="#5a0c48" opacity="0.35"/><circle cx="710.2" cy="637.3" r="6.5" fill="#5a0c48" opacity="0.35"/><circle cx="706.8" cy="641.8" r="6.5" fill="#5a0c48" opacity="0.35"/><circle cx="703.4" cy="651.9" r="6.5" fill="#5a0c48" opacity="0.35"/><circle cx="676.6" cy="655.2" r="6.5" fill="#5a0c48" opacity="0.35"/><ellipse cx="658.7" cy="588.1" rx="3.8" ry="3.8" fill="url(#gu)" opacity="0.95"/><ellipse cx="654.2" cy="597.0" rx="3.8" ry="3.8" fill="url(#gv)" opacity="0.95"/><ellipse cx="654.5" cy="596.8" rx="2.0" ry="2.0" fill="url(#gvc)" opacity="0.80"/><ellipse cx="655.3" cy="600.4" rx="3.8" ry="3.8" fill="url(#gv)" opacity="0.95"/><ellipse cx="655.6" cy="600.2" rx="2.0" ry="2.0" fill="url(#gvc)" opacity="0.80"/><ellipse cx="675.5" cy="594.8" rx="3.8" ry="3.8" fill="url(#gu)" opacity="0.95"/><ellipse cx="669.9" cy="602.6" rx="3.8" ry="3.8" fill="url(#gv)" opacity="0.95"/><ellipse cx="670.2" cy="602.4" rx="2.0" ry="2.0" fill="url(#gvc)" opacity="0.80"/><ellipse cx="674.3" cy="601.5" rx="3.8" ry="3.8" fill="url(#gv)" opacity="0.95"/><ellipse cx="674.6" cy="601.3" rx="2.0" ry="2.0" fill="url(#gvc)" opacity="0.80"/><ellipse cx="685.5" cy="607.1" rx="3.8" ry="3.8" fill="url(#gu)" opacity="0.95"/><ellipse cx="681.1" cy="610.5" rx="3.8" ry="3.8" fill="url(#gv)" opacity="0.95"/><ellipse cx="681.4" cy="610.3" rx="2.0" ry="2.0" fill="url(#gvc)" opacity="0.80"/><ellipse cx="676.6" cy="613.8" rx="3.8" ry="3.8" fill="url(#gv)" opacity="0.95"/><ellipse cx="676.9" cy="613.6" rx="2.0" ry="2.0" fill="url(#gvc)" opacity="0.80"/><ellipse cx="669.9" cy="613.8" rx="3.8" ry="3.8" fill="url(#gu)" opacity="0.95"/><ellipse cx="659.8" cy="613.8" rx="3.8" ry="3.8" fill="url(#gv)" opacity="0.95"/><ellipse cx="660.1" cy="613.6" rx="2.0" ry="2.0" fill="url(#gvc)" opacity="0.80"/><ellipse cx="653.1" cy="611.6" rx="3.8" ry="3.8" fill="url(#gu)" opacity="0.95"/><ellipse cx="658.7" cy="618.3" rx="3.8" ry="3.8" fill="url(#gv)" opacity="0.95"/><ellipse cx="659.0" cy="618.1" rx="2.0" ry="2.0" fill="url(#gvc)" opacity="0.80"/><ellipse cx="672.1" cy="619.4" rx="3.8" ry="3.8" fill="url(#gv)" opacity="0.95"/><ellipse cx="672.4" cy="619.2" rx="2.0" ry="2.0" fill="url(#gvc)" opacity="0.80"/><ellipse cx="659.8" cy="625.0" rx="3.8" ry="3.8" fill="url(#gv)" opacity="0.95"/><ellipse cx="660.1" cy="624.8" rx="2.0" ry="2.0" fill="url(#gvc)" opacity="0.80"/><ellipse cx="666.5" cy="628.4" rx="3.8" ry="3.8" fill="url(#gv)" opacity="0.95"/><ellipse cx="666.8" cy="628.2" rx="2.0" ry="2.0" fill="url(#gvc)" opacity="0.80"/><ellipse cx="672.1" cy="628.4" rx="3.8" ry="3.8" fill="url(#gv)" opacity="0.95"/><ellipse cx="672.4" cy="628.2" rx="2.0" ry="2.0" fill="url(#gvc)" opacity="0.80"/><ellipse cx="679.9" cy="630.6" rx="3.8" ry="3.8" fill="url(#gu)" opacity="0.95"/><ellipse cx="684.4" cy="630.6" rx="3.8" ry="3.8" fill="url(#gu)" opacity="0.95"/><ellipse cx="664.3" cy="632.8" rx="3.8" ry="3.8" fill="url(#gu)" opacity="0.95"/><ellipse cx="669.9" cy="635.8" rx="3.8" ry="3.8" fill="url(#gu)" opacity="0.95"/><ellipse cx="675.5" cy="636.7" rx="3.8" ry="3.8" fill="url(#gu)" opacity="0.95"/><ellipse cx="686.6" cy="636.2" rx="3.8" ry="3.8" fill="url(#gu)" opacity="0.95"/><ellipse cx="683.3" cy="643.4" rx="3.8" ry="3.8" fill="url(#gv)" opacity="0.95"/><ellipse cx="683.6" cy="643.2" rx="2.0" ry="2.0" fill="url(#gvc)" opacity="0.80"/><ellipse cx="695.6" cy="613.8" rx="3.8" ry="3.8" fill="url(#gu)" opacity="0.95"/><ellipse cx="706.8" cy="611.6" rx="3.8" ry="3.8" fill="url(#gv)" opacity="0.95"/><ellipse cx="707.1" cy="611.4" rx="2.0" ry="2.0" fill="url(#gvc)" opacity="0.80"/><ellipse cx="702.3" cy="604.9" rx="3.8" ry="3.8" fill="url(#gv)" opacity="0.95"/><ellipse cx="702.6" cy="604.7" rx="2.0" ry="2.0" fill="url(#gvc)" opacity="0.80"/><ellipse cx="703.4" cy="598.1" rx="3.8" ry="3.8" fill="url(#gv)" opacity="0.95"/><ellipse cx="703.7" cy="597.9" rx="2.0" ry="2.0" fill="url(#gvc)" opacity="0.80"/><ellipse cx="712.4" cy="598.1" rx="3.8" ry="3.8" fill="url(#gv)" opacity="0.95"/><ellipse cx="712.7" cy="597.9" rx="2.0" ry="2.0" fill="url(#gvc)" opacity="0.80"/><ellipse cx="714.6" cy="584.7" rx="3.8" ry="3.8" fill="url(#gv)" opacity="0.95"/><ellipse cx="714.9" cy="584.5" rx="2.0" ry="2.0" fill="url(#gvc)" opacity="0.80"/><ellipse cx="718.0" cy="632.8" rx="3.8" ry="3.8" fill="url(#gv)" opacity="0.95"/><ellipse cx="718.3" cy="632.6" rx="2.0" ry="2.0" fill="url(#gvc)" opacity="0.80"/><ellipse cx="710.2" cy="637.3" rx="3.8" ry="3.8" fill="url(#gv)" opacity="0.95"/><ellipse cx="710.5" cy="637.1" rx="2.0" ry="2.0" fill="url(#gvc)" opacity="0.80"/><ellipse cx="706.8" cy="641.8" rx="3.8" ry="3.8" fill="url(#gv)" opacity="0.95"/><ellipse cx="707.1" cy="641.6" rx="2.0" ry="2.0" fill="url(#gvc)" opacity="0.80"/><ellipse cx="703.4" cy="651.9" rx="3.8" ry="3.8" fill="url(#gv)" opacity="0.95"/><ellipse cx="703.7" cy="651.7" rx="2.0" ry="2.0" fill="url(#gvc)" opacity="0.80"/><ellipse cx="676.6" cy="655.2" rx="3.8" ry="3.8" fill="url(#gu)" opacity="0.95"/></g>
</g>
<clipPath id="cz5"><rect x="413.6" y="662" width="77.3" height="77.0"/></clipPath>
<g clip-path="url(#cz5)">
<rect x="413.60" y="662.00" width="77.30" height="77.00" fill="#050004" />
<g filter="url(#cb55)"><circle cx="422.6" cy="665.0" r="6.1" fill="#50082c" opacity="0.17"/><circle cx="435.3" cy="667.6" r="6.1" fill="#50082c" opacity="0.17"/><circle cx="453.9" cy="664.5" r="6.1" fill="#50082c" opacity="0.17"/><circle cx="468.0" cy="666.7" r="6.1" fill="#50082c" opacity="0.17"/><circle cx="469.6" cy="673.5" r="6.1" fill="#50082c" opacity="0.17"/><circle cx="469.6" cy="678.4" r="6.1" fill="#50082c" opacity="0.17"/><circle cx="481.9" cy="671.2" r="6.1" fill="#50082c" opacity="0.17"/><circle cx="481.4" cy="677.3" r="6.1" fill="#50082c" opacity="0.17"/><circle cx="487.5" cy="683.3" r="6.1" fill="#50082c" opacity="0.17"/><circle cx="472.9" cy="686.2" r="6.1" fill="#50082c" opacity="0.17"/><circle cx="477.4" cy="687.8" r="6.1" fill="#50082c" opacity="0.17"/><circle cx="446.1" cy="678.4" r="6.1" fill="#50082c" opacity="0.17"/><circle cx="439.3" cy="681.1" r="6.1" fill="#50082c" opacity="0.17"/><circle cx="436.0" cy="684.7" r="6.1" fill="#50082c" opacity="0.17"/><circle cx="443.8" cy="686.2" r="6.1" fill="#50082c" opacity="0.17"/><circle cx="448.7" cy="685.1" r="6.1" fill="#50082c" opacity="0.17"/><circle cx="425.5" cy="681.7" r="6.1" fill="#50082c" opacity="0.17"/><circle cx="415.8" cy="682.9" r="6.1" fill="#50082c" opacity="0.17"/><circle cx="450.5" cy="695.2" r="6.1" fill="#50082c" opacity="0.17"/><circle cx="420.3" cy="698.1" r="6.1" fill="#50082c" opacity="0.17"/><circle cx="424.1" cy="699.0" r="6.1" fill="#50082c" opacity="0.17"/><circle cx="429.9" cy="697.4" r="6.1" fill="#50082c" opacity="0.17"/><circle cx="461.7" cy="699.7" r="6.1" fill="#50082c" opacity="0.17"/><circle cx="459.0" cy="704.8" r="6.1" fill="#50082c" opacity="0.17"/><circle cx="477.0" cy="700.3" r="6.1" fill="#50082c" opacity="0.17"/><circle cx="485.2" cy="699.0" r="6.1" fill="#50082c" opacity="0.17"/><circle cx="479.6" cy="704.1" r="6.1" fill="#50082c" opacity="0.17"/><circle cx="424.8" cy="704.1" r="6.1" fill="#50082c" opacity="0.17"/><circle cx="430.4" cy="704.1" r="6.1" fill="#50082c" opacity="0.17"/><circle cx="422.6" cy="709.3" r="6.1" fill="#50082c" opacity="0.17"/><circle cx="434.4" cy="711.5" r="6.1" fill="#50082c" opacity="0.17"/><circle cx="447.2" cy="707.9" r="6.1" fill="#50082c" opacity="0.17"/><circle cx="452.8" cy="710.8" r="6.1" fill="#50082c" opacity="0.17"/><circle cx="480.1" cy="708.6" r="6.1" fill="#50082c" opacity="0.17"/><circle cx="477.8" cy="716.0" r="6.1" fill="#50082c" opacity="0.17"/><circle cx="483.0" cy="720.9" r="6.1" fill="#50082c" opacity="0.17"/><circle cx="442.7" cy="718.2" r="6.1" fill="#50082c" opacity="0.17"/><circle cx="447.8" cy="721.4" r="6.1" fill="#50082c" opacity="0.17"/><circle cx="423.2" cy="720.9" r="6.1" fill="#50082c" opacity="0.17"/><circle cx="432.2" cy="724.3" r="6.1" fill="#50082c" opacity="0.17"/><circle cx="436.7" cy="731.0" r="6.1" fill="#50082c" opacity="0.17"/><circle cx="449.4" cy="728.1" r="6.1" fill="#50082c" opacity="0.17"/><circle cx="464.0" cy="735.5" r="6.1" fill="#50082c" opacity="0.17"/><circle cx="485.2" cy="729.4" r="6.1" fill="#50082c" opacity="0.17"/><circle cx="485.2" cy="735.5" r="6.1" fill="#50082c" opacity="0.17"/><ellipse cx="422.6" cy="665.0" rx="3.6" ry="3.6" fill="url(#gk)" opacity="1.00"/><ellipse cx="422.9" cy="664.8" rx="2.0" ry="2.0" fill="url(#gkc)" opacity="0.85"/><ellipse cx="435.3" cy="667.6" rx="3.6" ry="3.6" fill="url(#gk)" opacity="1.00"/><ellipse cx="435.6" cy="667.4" rx="2.0" ry="2.0" fill="url(#gkc)" opacity="0.85"/><ellipse cx="453.9" cy="664.5" rx="2.6" ry="2.6" fill="url(#gd)" opacity="0.95"/><ellipse cx="468.0" cy="666.7" rx="3.6" ry="3.6" fill="url(#gk)" opacity="1.00"/><ellipse cx="468.3" cy="666.5" rx="2.0" ry="2.0" fill="url(#gkc)" opacity="0.85"/><ellipse cx="469.6" cy="673.5" rx="3.6" ry="3.6" fill="url(#gk)" opacity="1.00"/><ellipse cx="469.9" cy="673.3" rx="2.0" ry="2.0" fill="url(#gkc)" opacity="0.85"/><ellipse cx="469.6" cy="678.4" rx="3.6" ry="3.6" fill="url(#gk)" opacity="1.00"/><ellipse cx="469.9" cy="678.2" rx="2.0" ry="2.0" fill="url(#gkc)" opacity="0.85"/><ellipse cx="481.9" cy="671.2" rx="2.6" ry="2.6" fill="url(#gd)" opacity="0.95"/><ellipse cx="481.4" cy="677.3" rx="3.6" ry="3.6" fill="url(#gk)" opacity="1.00"/><ellipse cx="481.7" cy="677.1" rx="2.0" ry="2.0" fill="url(#gkc)" opacity="0.85"/><ellipse cx="487.5" cy="683.3" rx="3.6" ry="3.6" fill="url(#gk)" opacity="1.00"/><ellipse cx="487.8" cy="683.1" rx="2.0" ry="2.0" fill="url(#gkc)" opacity="0.85"/><ellipse cx="472.9" cy="686.2" rx="3.6" ry="3.6" fill="url(#gk)" opacity="1.00"/><ellipse cx="473.2" cy="686.0" rx="2.0" ry="2.0" fill="url(#gkc)" opacity="0.85"/><ellipse cx="477.4" cy="687.8" rx="3.6" ry="3.6" fill="url(#gk)" opacity="1.00"/><ellipse cx="477.7" cy="687.6" rx="2.0" ry="2.0" fill="url(#gkc)" opacity="0.85"/><ellipse cx="446.1" cy="678.4" rx="3.6" ry="3.6" fill="url(#gk)" opacity="1.00"/><ellipse cx="446.4" cy="678.2" rx="2.0" ry="2.0" fill="url(#gkc)" opacity="0.85"/><ellipse cx="439.3" cy="681.1" rx="3.6" ry="3.6" fill="url(#gv)" opacity="0.95"/><ellipse cx="439.6" cy="680.9" rx="1.8" ry="1.8" fill="url(#gvc)" opacity="0.80"/><ellipse cx="436.0" cy="684.7" rx="3.6" ry="3.6" fill="url(#gk)" opacity="1.00"/><ellipse cx="436.3" cy="684.5" rx="2.0" ry="2.0" fill="url(#gkc)" opacity="0.85"/><ellipse cx="443.8" cy="686.2" rx="3.6" ry="3.6" fill="url(#gk)" opacity="1.00"/><ellipse cx="444.1" cy="686.0" rx="2.0" ry="2.0" fill="url(#gkc)" opacity="0.85"/><ellipse cx="448.7" cy="685.1" rx="3.6" ry="3.6" fill="url(#gk)" opacity="1.00"/><ellipse cx="449.0" cy="684.9" rx="2.0" ry="2.0" fill="url(#gkc)" opacity="0.85"/><ellipse cx="425.5" cy="681.7" rx="3.6" ry="3.6" fill="url(#gv)" opacity="0.95"/><ellipse cx="425.8" cy="681.5" rx="1.8" ry="1.8" fill="url(#gvc)" opacity="0.80"/><ellipse cx="415.8" cy="682.9" rx="3.6" ry="3.6" fill="url(#gk)" opacity="1.00"/><ellipse cx="416.1" cy="682.7" rx="2.0" ry="2.0" fill="url(#gkc)" opacity="0.85"/><ellipse cx="450.5" cy="695.2" rx="3.6" ry="3.6" fill="url(#gv)" opacity="0.95"/><ellipse cx="450.8" cy="695.0" rx="1.8" ry="1.8" fill="url(#gvc)" opacity="0.80"/><ellipse cx="420.3" cy="698.1" rx="3.6" ry="3.6" fill="url(#gk)" opacity="1.00"/><ellipse cx="420.6" cy="697.9" rx="2.0" ry="2.0" fill="url(#gkc)" opacity="0.85"/><ellipse cx="424.1" cy="699.0" rx="3.6" ry="3.6" fill="url(#gk)" opacity="1.00"/><ellipse cx="424.4" cy="698.8" rx="2.0" ry="2.0" fill="url(#gkc)" opacity="0.85"/><ellipse cx="429.9" cy="697.4" rx="2.6" ry="2.6" fill="url(#gd)" opacity="0.95"/><ellipse cx="461.7" cy="699.7" rx="3.6" ry="3.6" fill="url(#gk)" opacity="1.00"/><ellipse cx="462.0" cy="699.5" rx="2.0" ry="2.0" fill="url(#gkc)" opacity="0.85"/><ellipse cx="459.0" cy="704.8" rx="3.6" ry="3.6" fill="url(#gk)" opacity="1.00"/><ellipse cx="459.3" cy="704.6" rx="2.0" ry="2.0" fill="url(#gkc)" opacity="0.85"/><ellipse cx="477.0" cy="700.3" rx="3.6" ry="3.6" fill="url(#gk)" opacity="1.00"/><ellipse cx="477.3" cy="700.1" rx="2.0" ry="2.0" fill="url(#gkc)" opacity="0.85"/><ellipse cx="485.2" cy="699.0" rx="3.6" ry="3.6" fill="url(#gk)" opacity="1.00"/><ellipse cx="485.5" cy="698.8" rx="2.0" ry="2.0" fill="url(#gkc)" opacity="0.85"/><ellipse cx="479.6" cy="704.1" rx="2.6" ry="2.6" fill="url(#gd)" opacity="0.95"/><ellipse cx="424.8" cy="704.1" rx="3.6" ry="3.6" fill="url(#gk)" opacity="1.00"/><ellipse cx="425.1" cy="703.9" rx="2.0" ry="2.0" fill="url(#gkc)" opacity="0.85"/><ellipse cx="430.4" cy="704.1" rx="2.6" ry="2.6" fill="url(#gd)" opacity="0.95"/><ellipse cx="422.6" cy="709.3" rx="2.6" ry="2.6" fill="url(#gd)" opacity="0.95"/><ellipse cx="434.4" cy="711.5" rx="3.6" ry="3.6" fill="url(#gk)" opacity="1.00"/><ellipse cx="434.7" cy="711.3" rx="2.0" ry="2.0" fill="url(#gkc)" opacity="0.85"/><ellipse cx="447.2" cy="707.9" rx="3.6" ry="3.6" fill="url(#gv)" opacity="0.95"/><ellipse cx="447.5" cy="707.7" rx="1.8" ry="1.8" fill="url(#gvc)" opacity="0.80"/><ellipse cx="452.8" cy="710.8" rx="3.6" ry="3.6" fill="url(#gk)" opacity="1.00"/><ellipse cx="453.1" cy="710.6" rx="2.0" ry="2.0" fill="url(#gkc)" opacity="0.85"/><ellipse cx="480.1" cy="708.6" rx="3.6" ry="3.6" fill="url(#gk)" opacity="1.00"/><ellipse cx="480.4" cy="708.4" rx="2.0" ry="2.0" fill="url(#gkc)" opacity="0.85"/><ellipse cx="477.8" cy="716.0" rx="3.6" ry="3.6" fill="url(#gk)" opacity="1.00"/><ellipse cx="478.1" cy="715.8" rx="2.0" ry="2.0" fill="url(#gkc)" opacity="0.85"/><ellipse cx="483.0" cy="720.9" rx="3.6" ry="3.6" fill="url(#gv)" opacity="0.95"/><ellipse cx="483.3" cy="720.7" rx="1.8" ry="1.8" fill="url(#gvc)" opacity="0.80"/><ellipse cx="442.7" cy="718.2" rx="3.6" ry="3.6" fill="url(#gv)" opacity="0.95"/><ellipse cx="443.0" cy="718.0" rx="1.8" ry="1.8" fill="url(#gvc)" opacity="0.80"/><ellipse cx="447.8" cy="721.4" rx="3.6" ry="3.6" fill="url(#gv)" opacity="0.95"/><ellipse cx="448.1" cy="721.2" rx="1.8" ry="1.8" fill="url(#gvc)" opacity="0.80"/><ellipse cx="423.2" cy="720.9" rx="3.6" ry="3.6" fill="url(#gk)" opacity="1.00"/><ellipse cx="423.5" cy="720.7" rx="2.0" ry="2.0" fill="url(#gkc)" opacity="0.85"/><ellipse cx="432.2" cy="724.3" rx="3.6" ry="3.6" fill="url(#gk)" opacity="1.00"/><ellipse cx="432.5" cy="724.1" rx="2.0" ry="2.0" fill="url(#gkc)" opacity="0.85"/><ellipse cx="436.7" cy="731.0" rx="3.6" ry="3.6" fill="url(#gk)" opacity="1.00"/><ellipse cx="437.0" cy="730.8" rx="2.0" ry="2.0" fill="url(#gkc)" opacity="0.85"/><ellipse cx="449.4" cy="728.1" rx="3.6" ry="3.6" fill="url(#gk)" opacity="1.00"/><ellipse cx="449.7" cy="727.9" rx="2.0" ry="2.0" fill="url(#gkc)" opacity="0.85"/><ellipse cx="464.0" cy="735.5" rx="3.6" ry="3.6" fill="url(#gk)" opacity="1.00"/><ellipse cx="464.3" cy="735.3" rx="2.0" ry="2.0" fill="url(#gkc)" opacity="0.85"/><ellipse cx="485.2" cy="729.4" rx="3.6" ry="3.6" fill="url(#gv)" opacity="0.95"/><ellipse cx="485.5" cy="729.2" rx="1.8" ry="1.8" fill="url(#gvc)" opacity="0.80"/><ellipse cx="485.2" cy="735.5" rx="3.6" ry="3.6" fill="url(#gk)" opacity="1.00"/><ellipse cx="485.5" cy="735.3" rx="2.0" ry="2.0" fill="url(#gkc)" opacity="0.85"/></g>
</g>
<clipPath id="cz6"><rect x="492.4" y="662" width="78.0" height="77.0"/></clipPath>
<g clip-path="url(#cz6)">
<rect x="492.40" y="662.00" width="78.00" height="77.00" fill="#040003" />
<g filter="url(#cb55)"><circle cx="536.1" cy="666.7" r="6.1" fill="#50082c" opacity="0.17"/><circle cx="542.3" cy="663.8" r="6.1" fill="#50082c" opacity="0.17"/><circle cx="547.2" cy="666.7" r="6.1" fill="#50082c" opacity="0.17"/><circle cx="560.7" cy="673.5" r="6.1" fill="#50082c" opacity="0.17"/><circle cx="566.5" cy="677.3" r="6.1" fill="#50082c" opacity="0.17"/><circle cx="544.1" cy="677.9" r="6.1" fill="#50082c" opacity="0.17"/><circle cx="500.9" cy="675.7" r="6.1" fill="#50082c" opacity="0.17"/><circle cx="514.3" cy="676.6" r="6.1" fill="#50082c" opacity="0.17"/><circle cx="518.8" cy="676.6" r="6.1" fill="#50082c" opacity="0.17"/><circle cx="548.6" cy="686.2" r="6.1" fill="#50082c" opacity="0.17"/><circle cx="555.8" cy="682.9" r="6.1" fill="#50082c" opacity="0.17"/><circle cx="497.5" cy="684.0" r="6.1" fill="#50082c" opacity="0.17"/><circle cx="499.3" cy="689.6" r="6.1" fill="#50082c" opacity="0.17"/><circle cx="508.7" cy="690.7" r="6.1" fill="#50082c" opacity="0.17"/><circle cx="514.3" cy="691.8" r="6.1" fill="#50082c" opacity="0.17"/><circle cx="516.6" cy="696.3" r="6.1" fill="#50082c" opacity="0.17"/><circle cx="541.9" cy="692.9" r="6.1" fill="#50082c" opacity="0.17"/><circle cx="545.7" cy="696.7" r="6.1" fill="#50082c" opacity="0.17"/><circle cx="497.5" cy="706.4" r="6.1" fill="#50082c" opacity="0.17"/><circle cx="497.5" cy="709.3" r="6.1" fill="#50082c" opacity="0.17"/><circle cx="522.2" cy="707.0" r="6.1" fill="#50082c" opacity="0.17"/><circle cx="526.2" cy="707.9" r="6.1" fill="#50082c" opacity="0.17"/><circle cx="523.3" cy="710.8" r="6.1" fill="#50082c" opacity="0.17"/><circle cx="502.0" cy="719.8" r="6.1" fill="#50082c" opacity="0.17"/><circle cx="516.6" cy="722.0" r="6.1" fill="#50082c" opacity="0.17"/><circle cx="537.8" cy="723.2" r="6.1" fill="#50082c" opacity="0.17"/><circle cx="540.1" cy="723.2" r="6.1" fill="#50082c" opacity="0.17"/><circle cx="534.5" cy="728.8" r="6.1" fill="#50082c" opacity="0.17"/><circle cx="533.4" cy="732.1" r="6.1" fill="#50082c" opacity="0.17"/><circle cx="527.8" cy="734.8" r="6.1" fill="#50082c" opacity="0.17"/><ellipse cx="536.1" cy="666.7" rx="3.6" ry="3.6" fill="url(#gk)" opacity="1.00"/><ellipse cx="536.4" cy="666.5" rx="2.0" ry="2.0" fill="url(#gkc)" opacity="0.85"/><ellipse cx="542.3" cy="663.8" rx="2.6" ry="2.6" fill="url(#gd)" opacity="0.95"/><ellipse cx="547.2" cy="666.7" rx="3.6" ry="3.6" fill="url(#gk)" opacity="1.00"/><ellipse cx="547.5" cy="666.5" rx="2.0" ry="2.0" fill="url(#gkc)" opacity="0.85"/><ellipse cx="560.7" cy="673.5" rx="3.6" ry="3.6" fill="url(#gk)" opacity="1.00"/><ellipse cx="561.0" cy="673.3" rx="2.0" ry="2.0" fill="url(#gkc)" opacity="0.85"/><ellipse cx="566.5" cy="677.3" rx="3.6" ry="3.6" fill="url(#gk)" opacity="1.00"/><ellipse cx="566.8" cy="677.1" rx="2.0" ry="2.0" fill="url(#gkc)" opacity="0.85"/><ellipse cx="544.1" cy="677.9" rx="3.6" ry="3.6" fill="url(#gv)" opacity="0.95"/><ellipse cx="544.4" cy="677.7" rx="1.8" ry="1.8" fill="url(#gvc)" opacity="0.80"/><ellipse cx="500.9" cy="675.7" rx="3.6" ry="3.6" fill="url(#gv)" opacity="0.95"/><ellipse cx="501.2" cy="675.5" rx="1.8" ry="1.8" fill="url(#gvc)" opacity="0.80"/><ellipse cx="514.3" cy="676.6" rx="3.6" ry="3.6" fill="url(#gk)" opacity="1.00"/><ellipse cx="514.6" cy="676.4" rx="2.0" ry="2.0" fill="url(#gkc)" opacity="0.85"/><ellipse cx="518.8" cy="676.6" rx="3.6" ry="3.6" fill="url(#gk)" opacity="1.00"/><ellipse cx="519.1" cy="676.4" rx="2.0" ry="2.0" fill="url(#gkc)" opacity="0.85"/><ellipse cx="548.6" cy="686.2" rx="3.6" ry="3.6" fill="url(#gk)" opacity="1.00"/><ellipse cx="548.9" cy="686.0" rx="2.0" ry="2.0" fill="url(#gkc)" opacity="0.85"/><ellipse cx="555.8" cy="682.9" rx="2.6" ry="2.6" fill="url(#gd)" opacity="0.95"/><ellipse cx="497.5" cy="684.0" rx="2.6" ry="2.6" fill="url(#gd)" opacity="0.95"/><ellipse cx="499.3" cy="689.6" rx="3.6" ry="3.6" fill="url(#gk)" opacity="1.00"/><ellipse cx="499.6" cy="689.4" rx="2.0" ry="2.0" fill="url(#gkc)" opacity="0.85"/><ellipse cx="508.7" cy="690.7" rx="3.6" ry="3.6" fill="url(#gk)" opacity="1.00"/><ellipse cx="509.0" cy="690.5" rx="2.0" ry="2.0" fill="url(#gkc)" opacity="0.85"/><ellipse cx="514.3" cy="691.8" rx="3.6" ry="3.6" fill="url(#gk)" opacity="1.00"/><ellipse cx="514.6" cy="691.6" rx="2.0" ry="2.0" fill="url(#gkc)" opacity="0.85"/><ellipse cx="516.6" cy="696.3" rx="2.6" ry="2.6" fill="url(#gd)" opacity="0.95"/><ellipse cx="541.9" cy="692.9" rx="3.6" ry="3.6" fill="url(#gk)" opacity="1.00"/><ellipse cx="542.2" cy="692.7" rx="2.0" ry="2.0" fill="url(#gkc)" opacity="0.85"/><ellipse cx="545.7" cy="696.7" rx="3.6" ry="3.6" fill="url(#gk)" opacity="1.00"/><ellipse cx="546.0" cy="696.5" rx="2.0" ry="2.0" fill="url(#gkc)" opacity="0.85"/><ellipse cx="497.5" cy="706.4" rx="2.6" ry="2.6" fill="url(#gd)" opacity="0.95"/><ellipse cx="497.5" cy="709.3" rx="3.6" ry="3.6" fill="url(#gk)" opacity="1.00"/><ellipse cx="497.8" cy="709.1" rx="2.0" ry="2.0" fill="url(#gkc)" opacity="0.85"/><ellipse cx="522.2" cy="707.0" rx="3.6" ry="3.6" fill="url(#gk)" opacity="1.00"/><ellipse cx="522.5" cy="706.8" rx="2.0" ry="2.0" fill="url(#gkc)" opacity="0.85"/><ellipse cx="526.2" cy="707.9" rx="3.6" ry="3.6" fill="url(#gk)" opacity="1.00"/><ellipse cx="526.5" cy="707.7" rx="2.0" ry="2.0" fill="url(#gkc)" opacity="0.85"/><ellipse cx="523.3" cy="710.8" rx="3.6" ry="3.6" fill="url(#gk)" opacity="1.00"/><ellipse cx="523.6" cy="710.6" rx="2.0" ry="2.0" fill="url(#gkc)" opacity="0.85"/><ellipse cx="502.0" cy="719.8" rx="3.6" ry="3.6" fill="url(#gk)" opacity="1.00"/><ellipse cx="502.3" cy="719.6" rx="2.0" ry="2.0" fill="url(#gkc)" opacity="0.85"/><ellipse cx="516.6" cy="722.0" rx="3.6" ry="3.6" fill="url(#gk)" opacity="1.00"/><ellipse cx="516.9" cy="721.8" rx="2.0" ry="2.0" fill="url(#gkc)" opacity="0.85"/><ellipse cx="537.8" cy="723.2" rx="3.6" ry="3.6" fill="url(#gk)" opacity="1.00"/><ellipse cx="538.1" cy="723.0" rx="2.0" ry="2.0" fill="url(#gkc)" opacity="0.85"/><ellipse cx="540.1" cy="723.2" rx="2.6" ry="2.6" fill="url(#gd)" opacity="0.95"/><ellipse cx="534.5" cy="728.8" rx="3.6" ry="3.6" fill="url(#gk)" opacity="1.00"/><ellipse cx="534.8" cy="728.6" rx="2.0" ry="2.0" fill="url(#gkc)" opacity="0.85"/><ellipse cx="533.4" cy="732.1" rx="3.6" ry="3.6" fill="url(#gk)" opacity="1.00"/><ellipse cx="533.7" cy="731.9" rx="2.0" ry="2.0" fill="url(#gkc)" opacity="0.85"/><ellipse cx="527.8" cy="734.8" rx="3.6" ry="3.6" fill="url(#gv)" opacity="0.95"/><ellipse cx="528.1" cy="734.6" rx="1.8" ry="1.8" fill="url(#gvc)" opacity="0.80"/></g>
</g>
<clipPath id="cz7"><rect x="571.6" y="662" width="77.5" height="77.0"/></clipPath>
<g clip-path="url(#cz7)">
<rect x="571.60" y="662.00" width="77.50" height="77.00" fill="#080003" />
<g filter="url(#cb55)"><circle cx="612.8" cy="666.1" r="6.1" fill="#50082c" opacity="0.20"/><circle cx="609.4" cy="671.2" r="6.1" fill="#50082c" opacity="0.20"/><circle cx="594.9" cy="672.8" r="6.1" fill="#50082c" opacity="0.20"/><circle cx="590.4" cy="677.3" r="6.1" fill="#50082c" opacity="0.20"/><circle cx="594.9" cy="682.9" r="6.1" fill="#50082c" opacity="0.20"/><circle cx="613.9" cy="682.4" r="6.1" fill="#50082c" opacity="0.20"/><circle cx="618.4" cy="682.4" r="6.1" fill="#50082c" opacity="0.20"/><circle cx="645.2" cy="671.2" r="6.1" fill="#50082c" opacity="0.20"/><circle cx="646.4" cy="684.0" r="6.1" fill="#50082c" opacity="0.20"/><circle cx="596.0" cy="691.4" r="6.1" fill="#50082c" opacity="0.20"/><circle cx="577.0" cy="693.6" r="6.1" fill="#50082c" opacity="0.20"/><circle cx="625.1" cy="691.8" r="6.1" fill="#50082c" opacity="0.20"/><circle cx="631.8" cy="692.9" r="6.1" fill="#50082c" opacity="0.20"/><circle cx="609.4" cy="697.4" r="6.1" fill="#50082c" opacity="0.20"/><circle cx="621.3" cy="700.8" r="6.1" fill="#50082c" opacity="0.20"/><circle cx="629.6" cy="698.5" r="6.1" fill="#50082c" opacity="0.20"/><circle cx="632.9" cy="704.1" r="6.1" fill="#50082c" opacity="0.20"/><circle cx="645.2" cy="696.3" r="6.1" fill="#50082c" opacity="0.20"/><circle cx="583.7" cy="706.4" r="6.1" fill="#50082c" opacity="0.20"/><circle cx="590.4" cy="705.7" r="6.1" fill="#50082c" opacity="0.20"/><circle cx="607.8" cy="709.7" r="6.1" fill="#50082c" opacity="0.20"/><circle cx="613.9" cy="709.3" r="6.1" fill="#50082c" opacity="0.20"/><circle cx="612.8" cy="714.2" r="6.1" fill="#50082c" opacity="0.20"/><circle cx="635.6" cy="710.8" r="6.1" fill="#50082c" opacity="0.20"/><circle cx="634.7" cy="720.9" r="6.1" fill="#50082c" opacity="0.20"/><circle cx="579.2" cy="729.9" r="6.1" fill="#50082c" opacity="0.20"/><circle cx="577.0" cy="734.4" r="6.1" fill="#50082c" opacity="0.20"/><circle cx="621.3" cy="731.0" r="6.1" fill="#50082c" opacity="0.20"/><circle cx="620.6" cy="736.1" r="6.1" fill="#50082c" opacity="0.20"/><circle cx="601.6" cy="735.5" r="6.1" fill="#50082c" opacity="0.20"/><ellipse cx="612.8" cy="666.1" rx="3.6" ry="3.6" fill="url(#gk)" opacity="1.00"/><ellipse cx="613.1" cy="665.9" rx="2.0" ry="2.0" fill="url(#gkc)" opacity="0.85"/><ellipse cx="609.4" cy="671.2" rx="3.6" ry="3.6" fill="url(#gv)" opacity="0.95"/><ellipse cx="609.7" cy="671.0" rx="1.8" ry="1.8" fill="url(#gvc)" opacity="0.80"/><ellipse cx="594.9" cy="672.8" rx="3.6" ry="3.6" fill="url(#gk)" opacity="1.00"/><ellipse cx="595.2" cy="672.6" rx="2.0" ry="2.0" fill="url(#gkc)" opacity="0.85"/><ellipse cx="590.4" cy="677.3" rx="3.6" ry="3.6" fill="url(#gk)" opacity="1.00"/><ellipse cx="590.7" cy="677.1" rx="2.0" ry="2.0" fill="url(#gkc)" opacity="0.85"/><ellipse cx="594.9" cy="682.9" rx="3.6" ry="3.6" fill="url(#gv)" opacity="0.95"/><ellipse cx="595.2" cy="682.7" rx="1.8" ry="1.8" fill="url(#gvc)" opacity="0.80"/><ellipse cx="613.9" cy="682.4" rx="3.6" ry="3.6" fill="url(#gK)" opacity="1.00"/><ellipse cx="614.2" cy="682.2" rx="1.5" ry="1.5" fill="url(#gkc)" opacity="0.40"/><ellipse cx="618.4" cy="682.4" rx="3.6" ry="3.6" fill="url(#gK)" opacity="1.00"/><ellipse cx="618.7" cy="682.2" rx="1.5" ry="1.5" fill="url(#gkc)" opacity="0.40"/><ellipse cx="645.2" cy="671.2" rx="3.6" ry="3.6" fill="url(#gv)" opacity="0.95"/><ellipse cx="645.5" cy="671.0" rx="1.8" ry="1.8" fill="url(#gvc)" opacity="0.80"/><ellipse cx="646.4" cy="684.0" rx="3.6" ry="3.6" fill="url(#gk)" opacity="1.00"/><ellipse cx="646.7" cy="683.8" rx="2.0" ry="2.0" fill="url(#gkc)" opacity="0.85"/><ellipse cx="596.0" cy="691.4" rx="3.6" ry="3.6" fill="url(#gK)" opacity="1.00"/><ellipse cx="596.3" cy="691.2" rx="1.5" ry="1.5" fill="url(#gkc)" opacity="0.40"/><ellipse cx="577.0" cy="693.6" rx="2.6" ry="2.6" fill="url(#gd)" opacity="0.95"/><ellipse cx="625.1" cy="691.8" rx="2.6" ry="2.6" fill="url(#gd)" opacity="0.95"/><ellipse cx="631.8" cy="692.9" rx="3.6" ry="3.6" fill="url(#gK)" opacity="1.00"/><ellipse cx="632.1" cy="692.7" rx="1.5" ry="1.5" fill="url(#gkc)" opacity="0.40"/><ellipse cx="609.4" cy="697.4" rx="3.6" ry="3.6" fill="url(#gk)" opacity="1.00"/><ellipse cx="609.7" cy="697.2" rx="2.0" ry="2.0" fill="url(#gkc)" opacity="0.85"/><ellipse cx="621.3" cy="700.8" rx="3.6" ry="3.6" fill="url(#gK)" opacity="1.00"/><ellipse cx="621.6" cy="700.6" rx="1.5" ry="1.5" fill="url(#gkc)" opacity="0.40"/><ellipse cx="629.6" cy="698.5" rx="3.6" ry="3.6" fill="url(#gk)" opacity="1.00"/><ellipse cx="629.9" cy="698.3" rx="2.0" ry="2.0" fill="url(#gkc)" opacity="0.85"/><ellipse cx="632.9" cy="704.1" rx="2.6" ry="2.6" fill="url(#gd)" opacity="0.95"/><ellipse cx="645.2" cy="696.3" rx="3.6" ry="3.6" fill="url(#gv)" opacity="0.95"/><ellipse cx="645.5" cy="696.1" rx="1.8" ry="1.8" fill="url(#gvc)" opacity="0.80"/><ellipse cx="583.7" cy="706.4" rx="3.6" ry="3.6" fill="url(#gk)" opacity="1.00"/><ellipse cx="584.0" cy="706.2" rx="2.0" ry="2.0" fill="url(#gkc)" opacity="0.85"/><ellipse cx="590.4" cy="705.7" rx="3.6" ry="3.6" fill="url(#gv)" opacity="0.95"/><ellipse cx="590.7" cy="705.5" rx="1.8" ry="1.8" fill="url(#gvc)" opacity="0.80"/><ellipse cx="607.8" cy="709.7" rx="3.6" ry="3.6" fill="url(#gk)" opacity="1.00"/><ellipse cx="608.1" cy="709.5" rx="2.0" ry="2.0" fill="url(#gkc)" opacity="0.85"/><ellipse cx="613.9" cy="709.3" rx="3.6" ry="3.6" fill="url(#gk)" opacity="1.00"/><ellipse cx="614.2" cy="709.1" rx="2.0" ry="2.0" fill="url(#gkc)" opacity="0.85"/><ellipse cx="612.8" cy="714.2" rx="3.6" ry="3.6" fill="url(#gK)" opacity="1.00"/><ellipse cx="613.1" cy="714.0" rx="1.5" ry="1.5" fill="url(#gkc)" opacity="0.40"/><ellipse cx="635.6" cy="710.8" rx="2.6" ry="2.6" fill="url(#gd)" opacity="0.95"/><ellipse cx="634.7" cy="720.9" rx="3.6" ry="3.6" fill="url(#gk)" opacity="1.00"/><ellipse cx="635.0" cy="720.7" rx="2.0" ry="2.0" fill="url(#gkc)" opacity="0.85"/><ellipse cx="579.2" cy="729.9" rx="3.6" ry="3.6" fill="url(#gk)" opacity="1.00"/><ellipse cx="579.5" cy="729.7" rx="2.0" ry="2.0" fill="url(#gkc)" opacity="0.85"/><ellipse cx="577.0" cy="734.4" rx="3.6" ry="3.6" fill="url(#gk)" opacity="1.00"/><ellipse cx="577.3" cy="734.2" rx="2.0" ry="2.0" fill="url(#gkc)" opacity="0.85"/><ellipse cx="621.3" cy="731.0" rx="3.6" ry="3.6" fill="url(#gk)" opacity="1.00"/><ellipse cx="621.6" cy="730.8" rx="2.0" ry="2.0" fill="url(#gkc)" opacity="0.85"/><ellipse cx="620.6" cy="736.1" rx="3.6" ry="3.6" fill="url(#gk)" opacity="1.00"/><ellipse cx="620.9" cy="735.9" rx="2.0" ry="2.0" fill="url(#gkc)" opacity="0.85"/><ellipse cx="601.6" cy="735.5" rx="3.6" ry="3.6" fill="url(#gv)" opacity="0.95"/><ellipse cx="601.9" cy="735.3" rx="1.8" ry="1.8" fill="url(#gvc)" opacity="0.80"/></g>
</g>
<clipPath id="cz8"><rect x="650.9" y="662" width="78.2" height="77.0"/></clipPath>
<g clip-path="url(#cz8)">
<rect x="650.90" y="662.00" width="78.20" height="77.00" fill="#150406" />
<g filter="url(#cb60)"><circle cx="654.2" cy="667.2" r="6.1" fill="#5a0c48" opacity="0.35"/><circle cx="664.3" cy="666.1" r="6.1" fill="#5a0c48" opacity="0.35"/><circle cx="659.8" cy="670.6" r="6.1" fill="#5a0c48" opacity="0.35"/><circle cx="719.1" cy="667.2" r="6.1" fill="#5a0c48" opacity="0.35"/><circle cx="688.9" cy="671.7" r="6.1" fill="#5a0c48" opacity="0.35"/><circle cx="684.4" cy="678.4" r="6.1" fill="#5a0c48" opacity="0.35"/><circle cx="690.7" cy="678.4" r="6.1" fill="#5a0c48" opacity="0.35"/><circle cx="705.7" cy="678.4" r="6.1" fill="#5a0c48" opacity="0.35"/><circle cx="699.0" cy="689.6" r="6.1" fill="#5a0c48" opacity="0.35"/><circle cx="711.3" cy="689.6" r="6.1" fill="#5a0c48" opacity="0.35"/><circle cx="697.8" cy="692.9" r="6.1" fill="#5a0c48" opacity="0.35"/><circle cx="710.2" cy="695.8" r="6.1" fill="#5a0c48" opacity="0.35"/><circle cx="672.1" cy="697.4" r="6.1" fill="#5a0c48" opacity="0.35"/><circle cx="688.9" cy="698.5" r="6.1" fill="#5a0c48" opacity="0.35"/><circle cx="694.5" cy="704.1" r="6.1" fill="#5a0c48" opacity="0.35"/><circle cx="719.8" cy="703.0" r="6.1" fill="#5a0c48" opacity="0.35"/><circle cx="654.2" cy="704.1" r="6.1" fill="#5a0c48" opacity="0.35"/><circle cx="681.7" cy="707.0" r="6.1" fill="#5a0c48" opacity="0.35"/><circle cx="702.3" cy="709.7" r="6.1" fill="#5a0c48" opacity="0.35"/><circle cx="711.3" cy="710.8" r="6.1" fill="#5a0c48" opacity="0.35"/><circle cx="701.2" cy="715.3" r="6.1" fill="#5a0c48" opacity="0.35"/><circle cx="706.8" cy="714.7" r="6.1" fill="#5a0c48" opacity="0.35"/><circle cx="725.8" cy="709.7" r="6.1" fill="#5a0c48" opacity="0.35"/><circle cx="722.5" cy="713.8" r="6.1" fill="#5a0c48" opacity="0.35"/><circle cx="671.0" cy="722.0" r="6.1" fill="#5a0c48" opacity="0.35"/><circle cx="674.3" cy="727.2" r="6.1" fill="#5a0c48" opacity="0.35"/><circle cx="684.4" cy="722.0" r="6.1" fill="#5a0c48" opacity="0.35"/><circle cx="686.6" cy="726.5" r="6.1" fill="#5a0c48" opacity="0.35"/><circle cx="691.1" cy="727.6" r="6.1" fill="#5a0c48" opacity="0.35"/><circle cx="684.4" cy="733.2" r="6.1" fill="#5a0c48" opacity="0.35"/><circle cx="671.0" cy="734.4" r="6.1" fill="#5a0c48" opacity="0.35"/><circle cx="702.3" cy="732.1" r="6.1" fill="#5a0c48" opacity="0.35"/><circle cx="700.1" cy="736.6" r="6.1" fill="#5a0c48" opacity="0.35"/><circle cx="726.9" cy="729.9" r="6.1" fill="#5a0c48" opacity="0.35"/><ellipse cx="654.2" cy="667.2" rx="3.6" ry="3.6" fill="url(#gv)" opacity="0.95"/><ellipse cx="654.5" cy="667.0" rx="1.8" ry="1.8" fill="url(#gvc)" opacity="0.80"/><ellipse cx="664.3" cy="666.1" rx="3.6" ry="3.6" fill="url(#gv)" opacity="0.95"/><ellipse cx="664.6" cy="665.9" rx="1.8" ry="1.8" fill="url(#gvc)" opacity="0.80"/><ellipse cx="659.8" cy="670.6" rx="3.6" ry="3.6" fill="url(#gv)" opacity="0.95"/><ellipse cx="660.1" cy="670.4" rx="1.8" ry="1.8" fill="url(#gvc)" opacity="0.80"/><ellipse cx="719.1" cy="667.2" rx="3.6" ry="3.6" fill="url(#gk)" opacity="1.00"/><ellipse cx="719.4" cy="667.0" rx="2.0" ry="2.0" fill="url(#gkc)" opacity="0.85"/><ellipse cx="688.9" cy="671.7" rx="3.6" ry="3.6" fill="url(#gk)" opacity="1.00"/><ellipse cx="689.2" cy="671.5" rx="2.0" ry="2.0" fill="url(#gkc)" opacity="0.85"/><ellipse cx="684.4" cy="678.4" rx="3.6" ry="3.6" fill="url(#gk)" opacity="1.00"/><ellipse cx="684.7" cy="678.2" rx="2.0" ry="2.0" fill="url(#gkc)" opacity="0.85"/><ellipse cx="690.7" cy="678.4" rx="3.6" ry="3.6" fill="url(#gv)" opacity="0.95"/><ellipse cx="691.0" cy="678.2" rx="1.8" ry="1.8" fill="url(#gvc)" opacity="0.80"/><ellipse cx="705.7" cy="678.4" rx="3.6" ry="3.6" fill="url(#gk)" opacity="1.00"/><ellipse cx="706.0" cy="678.2" rx="2.0" ry="2.0" fill="url(#gkc)" opacity="0.85"/><ellipse cx="699.0" cy="689.6" rx="3.6" ry="3.6" fill="url(#gv)" opacity="0.95"/><ellipse cx="699.3" cy="689.4" rx="1.8" ry="1.8" fill="url(#gvc)" opacity="0.80"/><ellipse cx="711.3" cy="689.6" rx="3.6" ry="3.6" fill="url(#gv)" opacity="0.95"/><ellipse cx="711.6" cy="689.4" rx="1.8" ry="1.8" fill="url(#gvc)" opacity="0.80"/><ellipse cx="697.8" cy="692.9" rx="3.6" ry="3.6" fill="url(#gv)" opacity="0.95"/><ellipse cx="698.1" cy="692.7" rx="1.8" ry="1.8" fill="url(#gvc)" opacity="0.80"/><ellipse cx="710.2" cy="695.8" rx="3.6" ry="3.6" fill="url(#gk)" opacity="1.00"/><ellipse cx="710.5" cy="695.6" rx="2.0" ry="2.0" fill="url(#gkc)" opacity="0.85"/><ellipse cx="672.1" cy="697.4" rx="3.6" ry="3.6" fill="url(#gv)" opacity="0.95"/><ellipse cx="672.4" cy="697.2" rx="1.8" ry="1.8" fill="url(#gvc)" opacity="0.80"/><ellipse cx="688.9" cy="698.5" rx="3.6" ry="3.6" fill="url(#gv)" opacity="0.95"/><ellipse cx="689.2" cy="698.3" rx="1.8" ry="1.8" fill="url(#gvc)" opacity="0.80"/><ellipse cx="694.5" cy="704.1" rx="3.6" ry="3.6" fill="url(#gu)" opacity="0.95"/><ellipse cx="719.8" cy="703.0" rx="3.6" ry="3.6" fill="url(#gv)" opacity="0.95"/><ellipse cx="720.1" cy="702.8" rx="1.8" ry="1.8" fill="url(#gvc)" opacity="0.80"/><ellipse cx="654.2" cy="704.1" rx="3.6" ry="3.6" fill="url(#gv)" opacity="0.95"/><ellipse cx="654.5" cy="703.9" rx="1.8" ry="1.8" fill="url(#gvc)" opacity="0.80"/><ellipse cx="681.7" cy="707.0" rx="3.6" ry="3.6" fill="url(#gv)" opacity="0.95"/><ellipse cx="682.0" cy="706.8" rx="1.8" ry="1.8" fill="url(#gvc)" opacity="0.80"/><ellipse cx="702.3" cy="709.7" rx="3.6" ry="3.6" fill="url(#gk)" opacity="1.00"/><ellipse cx="702.6" cy="709.5" rx="2.0" ry="2.0" fill="url(#gkc)" opacity="0.85"/><ellipse cx="711.3" cy="710.8" rx="3.6" ry="3.6" fill="url(#gv)" opacity="0.95"/><ellipse cx="711.6" cy="710.6" rx="1.8" ry="1.8" fill="url(#gvc)" opacity="0.80"/><ellipse cx="701.2" cy="715.3" rx="3.6" ry="3.6" fill="url(#gu)" opacity="0.95"/><ellipse cx="706.8" cy="714.7" rx="3.6" ry="3.6" fill="url(#gu)" opacity="0.95"/><ellipse cx="725.8" cy="709.7" rx="3.6" ry="3.6" fill="url(#gu)" opacity="0.95"/><ellipse cx="722.5" cy="713.8" rx="3.6" ry="3.6" fill="url(#gu)" opacity="0.95"/><ellipse cx="671.0" cy="722.0" rx="3.6" ry="3.6" fill="url(#gu)" opacity="0.95"/><ellipse cx="674.3" cy="727.2" rx="3.6" ry="3.6" fill="url(#gu)" opacity="0.95"/><ellipse cx="684.4" cy="722.0" rx="3.6" ry="3.6" fill="url(#gu)" opacity="0.95"/><ellipse cx="686.6" cy="726.5" rx="3.6" ry="3.6" fill="url(#gk)" opacity="1.00"/><ellipse cx="686.9" cy="726.3" rx="2.0" ry="2.0" fill="url(#gkc)" opacity="0.85"/><ellipse cx="691.1" cy="727.6" rx="3.6" ry="3.6" fill="url(#gv)" opacity="0.95"/><ellipse cx="691.4" cy="727.4" rx="1.8" ry="1.8" fill="url(#gvc)" opacity="0.80"/><ellipse cx="684.4" cy="733.2" rx="3.6" ry="3.6" fill="url(#gu)" opacity="0.95"/><ellipse cx="671.0" cy="734.4" rx="3.6" ry="3.6" fill="url(#gv)" opacity="0.95"/><ellipse cx="671.3" cy="734.2" rx="1.8" ry="1.8" fill="url(#gvc)" opacity="0.80"/><ellipse cx="702.3" cy="732.1" rx="3.6" ry="3.6" fill="url(#gv)" opacity="0.95"/><ellipse cx="702.6" cy="731.9" rx="1.8" ry="1.8" fill="url(#gvc)" opacity="0.80"/><ellipse cx="700.1" cy="736.6" rx="3.6" ry="3.6" fill="url(#gu)" opacity="0.95"/><ellipse cx="726.9" cy="729.9" rx="3.6" ry="3.6" fill="url(#gv)" opacity="0.95"/><ellipse cx="727.2" cy="729.7" rx="1.8" ry="1.8" fill="url(#gvc)" opacity="0.80"/></g>
</g>
</svg>
</body></html>
